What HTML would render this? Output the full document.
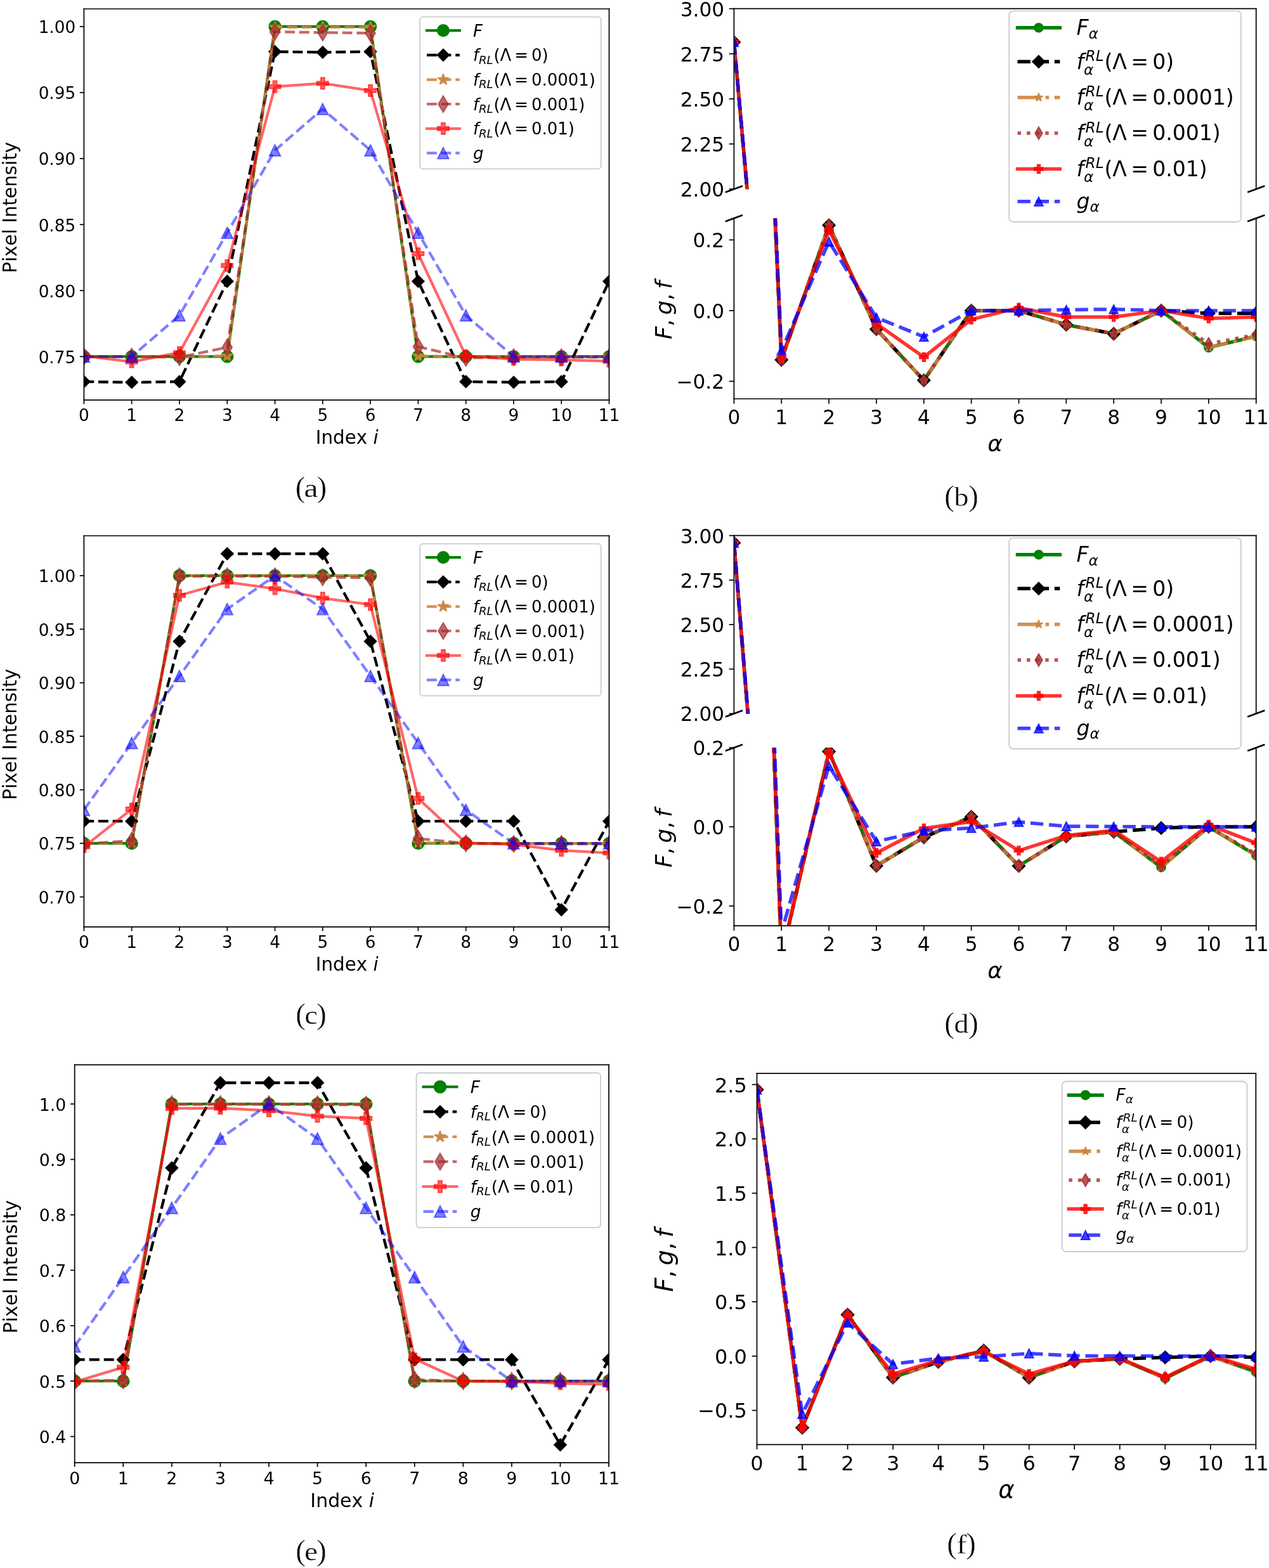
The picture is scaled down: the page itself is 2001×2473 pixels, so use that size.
<!DOCTYPE html>
<html lang="en"><head><meta charset="utf-8"><title>Figure</title>
<style>html,body{margin:0;padding:0;background:#fff;overflow:hidden}svg text{fill:#000}</style>
</head><body>
<svg xmlns="http://www.w3.org/2000/svg" width="2001" height="2473" viewBox="0 0 2001 2473" style="display:block">
<rect width="2001" height="2473" fill="#fff"/>
<clipPath id="c1"><rect x="132.4" y="14" width="828.1" height="616.8"/></clipPath>
<g clip-path="url(#c1)">
<path d="M132.4,562.4 L207.68,562.4 L282.96,562.4 L358.25,562.4 L433.53,41.9 L508.81,41.9 L584.09,41.9 L659.37,562.4 L734.65,562.4 L809.94,562.4 L885.22,562.4 L960.5,562.4" fill="none" stroke="#008000" stroke-width="4.27" stroke-linejoin="round" stroke-linecap="square"/>
<circle cx="132.4" cy="562.4" r="9.2" fill="#008000" stroke="#008000" stroke-width="1.9" stroke-linejoin="miter"/>
<circle cx="207.68" cy="562.4" r="9.2" fill="#008000" stroke="#008000" stroke-width="1.9" stroke-linejoin="miter"/>
<circle cx="282.96" cy="562.4" r="9.2" fill="#008000" stroke="#008000" stroke-width="1.9" stroke-linejoin="miter"/>
<circle cx="358.25" cy="562.4" r="9.2" fill="#008000" stroke="#008000" stroke-width="1.9" stroke-linejoin="miter"/>
<circle cx="433.53" cy="41.9" r="9.2" fill="#008000" stroke="#008000" stroke-width="1.9" stroke-linejoin="miter"/>
<circle cx="508.81" cy="41.9" r="9.2" fill="#008000" stroke="#008000" stroke-width="1.9" stroke-linejoin="miter"/>
<circle cx="584.09" cy="41.9" r="9.2" fill="#008000" stroke="#008000" stroke-width="1.9" stroke-linejoin="miter"/>
<circle cx="659.37" cy="562.4" r="9.2" fill="#008000" stroke="#008000" stroke-width="1.9" stroke-linejoin="miter"/>
<circle cx="734.65" cy="562.4" r="9.2" fill="#008000" stroke="#008000" stroke-width="1.9" stroke-linejoin="miter"/>
<circle cx="809.94" cy="562.4" r="9.2" fill="#008000" stroke="#008000" stroke-width="1.9" stroke-linejoin="miter"/>
<circle cx="885.22" cy="562.4" r="9.2" fill="#008000" stroke="#008000" stroke-width="1.9" stroke-linejoin="miter"/>
<circle cx="960.5" cy="562.4" r="9.2" fill="#008000" stroke="#008000" stroke-width="1.9" stroke-linejoin="miter"/>
<path d="M132.4,601.96 L207.68,603 L282.96,601.96 L358.25,443.73 L433.53,81.46 L508.81,82.5 L584.09,81.46 L659.37,443.73 L734.65,601.96 L809.94,603 L885.22,601.96 L960.5,443.73" fill="none" stroke="#000000" stroke-width="4.27" stroke-linejoin="round" stroke-linecap="butt" stroke-dasharray="15.79,6.83"/>
<polygon points="132.4,592.69 141.66,601.96 132.4,611.22 123.14,601.96" fill="#000000" stroke="#000000" stroke-width="1.9" stroke-linejoin="miter"/>
<polygon points="207.68,593.74 216.94,603 207.68,612.26 198.42,603" fill="#000000" stroke="#000000" stroke-width="1.9" stroke-linejoin="miter"/>
<polygon points="282.96,592.69 292.23,601.96 282.96,611.22 273.7,601.96" fill="#000000" stroke="#000000" stroke-width="1.9" stroke-linejoin="miter"/>
<polygon points="358.25,434.46 367.51,443.73 358.25,452.99 348.98,443.73" fill="#000000" stroke="#000000" stroke-width="1.9" stroke-linejoin="miter"/>
<polygon points="433.53,72.19 442.79,81.46 433.53,90.72 424.26,81.46" fill="#000000" stroke="#000000" stroke-width="1.9" stroke-linejoin="miter"/>
<polygon points="508.81,73.24 518.07,82.5 508.81,91.76 499.55,82.5" fill="#000000" stroke="#000000" stroke-width="1.9" stroke-linejoin="miter"/>
<polygon points="584.09,72.19 593.35,81.46 584.09,90.72 574.83,81.46" fill="#000000" stroke="#000000" stroke-width="1.9" stroke-linejoin="miter"/>
<polygon points="659.37,434.46 668.64,443.73 659.37,452.99 650.11,443.73" fill="#000000" stroke="#000000" stroke-width="1.9" stroke-linejoin="miter"/>
<polygon points="734.65,592.69 743.92,601.96 734.65,611.22 725.39,601.96" fill="#000000" stroke="#000000" stroke-width="1.9" stroke-linejoin="miter"/>
<polygon points="809.94,593.74 819.2,603 809.94,612.26 800.67,603" fill="#000000" stroke="#000000" stroke-width="1.9" stroke-linejoin="miter"/>
<polygon points="885.22,592.69 894.48,601.96 885.22,611.22 875.96,601.96" fill="#000000" stroke="#000000" stroke-width="1.9" stroke-linejoin="miter"/>
<polygon points="960.5,434.46 969.76,443.73 960.5,452.99 951.24,443.73" fill="#000000" stroke="#000000" stroke-width="1.9" stroke-linejoin="miter"/>
<path d="M132.4,562.4 L207.68,562.4 L282.96,562.4 L358.25,561.36 L433.53,42.94 L508.81,42.94 L584.09,42.94 L659.37,561.36 L734.65,562.4 L809.94,562.4 L885.22,562.4 L960.5,562.4" fill="none" stroke="#cd853f" stroke-width="4.27" stroke-linejoin="round" stroke-opacity="0.9" stroke-linecap="butt" stroke-dasharray="15.79,6.83"/>
<polygon points="132.4,553.2 134.47,559.56 141.15,559.56 135.74,563.49 137.81,569.84 132.4,565.91 126.99,569.84 129.06,563.49 123.65,559.56 130.33,559.56" fill="#cd853f" stroke="#cd853f" stroke-width="1.9" stroke-linejoin="bevel" fill-opacity="0.9" stroke-opacity="0.9"/>
<polygon points="207.68,553.2 209.75,559.56 216.43,559.56 211.02,563.49 213.09,569.84 207.68,565.91 202.27,569.84 204.34,563.49 198.93,559.56 205.62,559.56" fill="#cd853f" stroke="#cd853f" stroke-width="1.9" stroke-linejoin="bevel" fill-opacity="0.9" stroke-opacity="0.9"/>
<polygon points="282.96,553.2 285.03,559.56 291.71,559.56 286.31,563.49 288.37,569.84 282.96,565.91 277.56,569.84 279.62,563.49 274.21,559.56 280.9,559.56" fill="#cd853f" stroke="#cd853f" stroke-width="1.9" stroke-linejoin="bevel" fill-opacity="0.9" stroke-opacity="0.9"/>
<polygon points="358.25,552.16 360.31,558.52 367,558.52 361.59,562.44 363.65,568.8 358.25,564.87 352.84,568.8 354.9,562.44 349.5,558.52 356.18,558.52" fill="#cd853f" stroke="#cd853f" stroke-width="1.9" stroke-linejoin="bevel" fill-opacity="0.9" stroke-opacity="0.9"/>
<polygon points="433.53,33.74 435.59,40.1 442.28,40.1 436.87,44.03 438.93,50.38 433.53,46.46 428.12,50.38 430.19,44.03 424.78,40.1 431.46,40.1" fill="#cd853f" stroke="#cd853f" stroke-width="1.9" stroke-linejoin="bevel" fill-opacity="0.9" stroke-opacity="0.9"/>
<polygon points="508.81,33.74 510.87,40.1 517.56,40.1 512.15,44.03 514.22,50.38 508.81,46.46 503.4,50.38 505.47,44.03 500.06,40.1 506.74,40.1" fill="#cd853f" stroke="#cd853f" stroke-width="1.9" stroke-linejoin="bevel" fill-opacity="0.9" stroke-opacity="0.9"/>
<polygon points="584.09,33.74 586.16,40.1 592.84,40.1 587.43,44.03 589.5,50.38 584.09,46.46 578.68,50.38 580.75,44.03 575.34,40.1 582.03,40.1" fill="#cd853f" stroke="#cd853f" stroke-width="1.9" stroke-linejoin="bevel" fill-opacity="0.9" stroke-opacity="0.9"/>
<polygon points="659.37,552.16 661.44,558.52 668.12,558.52 662.71,562.44 664.78,568.8 659.37,564.87 653.97,568.8 656.03,562.44 650.62,558.52 657.31,558.52" fill="#cd853f" stroke="#cd853f" stroke-width="1.9" stroke-linejoin="bevel" fill-opacity="0.9" stroke-opacity="0.9"/>
<polygon points="734.65,553.2 736.72,559.56 743.4,559.56 738,563.49 740.06,569.84 734.65,565.91 729.25,569.84 731.31,563.49 725.9,559.56 732.59,559.56" fill="#cd853f" stroke="#cd853f" stroke-width="1.9" stroke-linejoin="bevel" fill-opacity="0.9" stroke-opacity="0.9"/>
<polygon points="809.94,553.2 812,559.56 818.69,559.56 813.28,563.49 815.34,569.84 809.94,565.91 804.53,569.84 806.59,563.49 801.19,559.56 807.87,559.56" fill="#cd853f" stroke="#cd853f" stroke-width="1.9" stroke-linejoin="bevel" fill-opacity="0.9" stroke-opacity="0.9"/>
<polygon points="885.22,553.2 887.28,559.56 893.97,559.56 888.56,563.49 890.63,569.84 885.22,565.91 879.81,569.84 881.88,563.49 876.47,559.56 883.15,559.56" fill="#cd853f" stroke="#cd853f" stroke-width="1.9" stroke-linejoin="bevel" fill-opacity="0.9" stroke-opacity="0.9"/>
<polygon points="960.5,553.2 962.57,559.56 969.25,559.56 963.84,563.49 965.91,569.84 960.5,565.91 955.09,569.84 957.16,563.49 951.75,559.56 958.43,559.56" fill="#cd853f" stroke="#cd853f" stroke-width="1.9" stroke-linejoin="bevel" fill-opacity="0.9" stroke-opacity="0.9"/>
<path d="M132.4,562.4 L207.68,562.4 L282.96,563.44 L358.25,547.83 L433.53,50.23 L508.81,51.27 L584.09,52.31 L659.37,546.79 L734.65,564.48 L809.94,563.44 L885.22,563.44 L960.5,563.44" fill="none" stroke="#a52a2a" stroke-width="4.27" stroke-linejoin="round" stroke-opacity="0.7" stroke-linecap="butt" stroke-dasharray="15.79,6.83"/>
<polygon points="132.4,549.39 140.21,562.4 132.4,575.41 124.59,562.4" fill="#a52a2a" stroke="#a52a2a" stroke-width="1.9" stroke-linejoin="miter" fill-opacity="0.7" stroke-opacity="0.7"/>
<polygon points="207.68,549.39 215.49,562.4 207.68,575.41 199.88,562.4" fill="#a52a2a" stroke="#a52a2a" stroke-width="1.9" stroke-linejoin="miter" fill-opacity="0.7" stroke-opacity="0.7"/>
<polygon points="282.96,550.43 290.77,563.44 282.96,576.45 275.16,563.44" fill="#a52a2a" stroke="#a52a2a" stroke-width="1.9" stroke-linejoin="miter" fill-opacity="0.7" stroke-opacity="0.7"/>
<polygon points="358.25,534.82 366.05,547.83 358.25,560.84 350.44,547.83" fill="#a52a2a" stroke="#a52a2a" stroke-width="1.9" stroke-linejoin="miter" fill-opacity="0.7" stroke-opacity="0.7"/>
<polygon points="433.53,37.22 441.33,50.23 433.53,63.24 425.72,50.23" fill="#a52a2a" stroke="#a52a2a" stroke-width="1.9" stroke-linejoin="miter" fill-opacity="0.7" stroke-opacity="0.7"/>
<polygon points="508.81,38.26 516.62,51.27 508.81,64.28 501,51.27" fill="#a52a2a" stroke="#a52a2a" stroke-width="1.9" stroke-linejoin="miter" fill-opacity="0.7" stroke-opacity="0.7"/>
<polygon points="584.09,39.3 591.9,52.31 584.09,65.32 576.28,52.31" fill="#a52a2a" stroke="#a52a2a" stroke-width="1.9" stroke-linejoin="miter" fill-opacity="0.7" stroke-opacity="0.7"/>
<polygon points="659.37,533.77 667.18,546.79 659.37,559.8 651.57,546.79" fill="#a52a2a" stroke="#a52a2a" stroke-width="1.9" stroke-linejoin="miter" fill-opacity="0.7" stroke-opacity="0.7"/>
<polygon points="734.65,551.47 742.46,564.48 734.65,577.49 726.85,564.48" fill="#a52a2a" stroke="#a52a2a" stroke-width="1.9" stroke-linejoin="miter" fill-opacity="0.7" stroke-opacity="0.7"/>
<polygon points="809.94,550.43 817.74,563.44 809.94,576.45 802.13,563.44" fill="#a52a2a" stroke="#a52a2a" stroke-width="1.9" stroke-linejoin="miter" fill-opacity="0.7" stroke-opacity="0.7"/>
<polygon points="885.22,550.43 893.02,563.44 885.22,576.45 877.41,563.44" fill="#a52a2a" stroke="#a52a2a" stroke-width="1.9" stroke-linejoin="miter" fill-opacity="0.7" stroke-opacity="0.7"/>
<polygon points="960.5,550.43 968.31,563.44 960.5,576.45 952.69,563.44" fill="#a52a2a" stroke="#a52a2a" stroke-width="1.9" stroke-linejoin="miter" fill-opacity="0.7" stroke-opacity="0.7"/>
<path d="M132.4,561.36 L207.68,570.73 L282.96,556.15 L358.25,418.74 L433.53,136.63 L508.81,131.43 L584.09,142.88 L659.37,400 L734.65,561.36 L809.94,566.56 L885.22,567.61 L960.5,569.69" fill="none" stroke="#ff0000" stroke-width="4.27" stroke-linejoin="round" stroke-opacity="0.6" stroke-linecap="square"/>
<polygon points="129.37,552.26 135.43,552.26 135.43,558.33 141.5,558.33 141.5,564.39 135.43,564.39 135.43,570.46 129.37,570.46 129.37,564.39 123.3,564.39 123.3,558.33 129.37,558.33" fill="#ff0000" stroke="#ff0000" stroke-width="1.9" stroke-linejoin="miter" fill-opacity="0.6" stroke-opacity="0.6"/>
<polygon points="204.65,561.63 210.72,561.63 210.72,567.69 216.78,567.69 216.78,573.76 210.72,573.76 210.72,579.83 204.65,579.83 204.65,573.76 198.58,573.76 198.58,567.69 204.65,567.69" fill="#ff0000" stroke="#ff0000" stroke-width="1.9" stroke-linejoin="miter" fill-opacity="0.6" stroke-opacity="0.6"/>
<polygon points="279.93,547.05 286,547.05 286,553.12 292.06,553.12 292.06,559.19 286,559.19 286,565.25 279.93,565.25 279.93,559.19 273.86,559.19 273.86,553.12 279.93,553.12" fill="#ff0000" stroke="#ff0000" stroke-width="1.9" stroke-linejoin="miter" fill-opacity="0.6" stroke-opacity="0.6"/>
<polygon points="355.21,409.64 361.28,409.64 361.28,415.71 367.35,415.71 367.35,421.78 361.28,421.78 361.28,427.84 355.21,427.84 355.21,421.78 349.15,421.78 349.15,415.71 355.21,415.71" fill="#ff0000" stroke="#ff0000" stroke-width="1.9" stroke-linejoin="miter" fill-opacity="0.6" stroke-opacity="0.6"/>
<polygon points="430.49,127.53 436.56,127.53 436.56,133.6 442.63,133.6 442.63,139.66 436.56,139.66 436.56,145.73 430.49,145.73 430.49,139.66 424.43,139.66 424.43,133.6 430.49,133.6" fill="#ff0000" stroke="#ff0000" stroke-width="1.9" stroke-linejoin="miter" fill-opacity="0.6" stroke-opacity="0.6"/>
<polygon points="505.78,122.33 511.84,122.33 511.84,128.39 517.91,128.39 517.91,134.46 511.84,134.46 511.84,140.53 505.78,140.53 505.78,134.46 499.71,134.46 499.71,128.39 505.78,128.39" fill="#ff0000" stroke="#ff0000" stroke-width="1.9" stroke-linejoin="miter" fill-opacity="0.6" stroke-opacity="0.6"/>
<polygon points="581.06,133.78 587.12,133.78 587.12,139.84 593.19,139.84 593.19,145.91 587.12,145.91 587.12,151.98 581.06,151.98 581.06,145.91 574.99,145.91 574.99,139.84 581.06,139.84" fill="#ff0000" stroke="#ff0000" stroke-width="1.9" stroke-linejoin="miter" fill-opacity="0.6" stroke-opacity="0.6"/>
<polygon points="656.34,390.9 662.41,390.9 662.41,396.97 668.47,396.97 668.47,403.04 662.41,403.04 662.41,409.1 656.34,409.1 656.34,403.04 650.27,403.04 650.27,396.97 656.34,396.97" fill="#ff0000" stroke="#ff0000" stroke-width="1.9" stroke-linejoin="miter" fill-opacity="0.6" stroke-opacity="0.6"/>
<polygon points="731.62,552.26 737.69,552.26 737.69,558.33 743.75,558.33 743.75,564.39 737.69,564.39 737.69,570.46 731.62,570.46 731.62,564.39 725.55,564.39 725.55,558.33 731.62,558.33" fill="#ff0000" stroke="#ff0000" stroke-width="1.9" stroke-linejoin="miter" fill-opacity="0.6" stroke-opacity="0.6"/>
<polygon points="806.9,557.46 812.97,557.46 812.97,563.53 819.04,563.53 819.04,569.6 812.97,569.6 812.97,575.66 806.9,575.66 806.9,569.6 800.84,569.6 800.84,563.53 806.9,563.53" fill="#ff0000" stroke="#ff0000" stroke-width="1.9" stroke-linejoin="miter" fill-opacity="0.6" stroke-opacity="0.6"/>
<polygon points="882.18,558.5 888.25,558.5 888.25,564.57 894.32,564.57 894.32,570.64 888.25,570.64 888.25,576.71 882.18,576.71 882.18,570.64 876.12,570.64 876.12,564.57 882.18,564.57" fill="#ff0000" stroke="#ff0000" stroke-width="1.9" stroke-linejoin="miter" fill-opacity="0.6" stroke-opacity="0.6"/>
<polygon points="957.47,560.59 963.53,560.59 963.53,566.65 969.6,566.65 969.6,572.72 963.53,572.72 963.53,578.79 957.47,578.79 957.47,572.72 951.4,572.72 951.4,566.65 957.47,566.65" fill="#ff0000" stroke="#ff0000" stroke-width="1.9" stroke-linejoin="miter" fill-opacity="0.6" stroke-opacity="0.6"/>
<path d="M132.4,562.4 L207.68,562.4 L282.96,497.34 L358.25,367.21 L433.53,237.09 L508.81,172.02 L584.09,237.09 L659.37,367.21 L734.65,497.34 L809.94,562.4 L885.22,562.4 L960.5,562.4" fill="none" stroke="#0000ff" stroke-width="4.27" stroke-linejoin="round" stroke-opacity="0.5" stroke-linecap="butt" stroke-dasharray="15.79,6.83"/>
<polygon points="132.4,553.5 141.3,571.3 123.5,571.3" fill="#0000ff" stroke="#0000ff" stroke-width="1.9" stroke-linejoin="miter" fill-opacity="0.5" stroke-opacity="0.5"/>
<polygon points="207.68,553.5 216.58,571.3 198.78,571.3" fill="#0000ff" stroke="#0000ff" stroke-width="1.9" stroke-linejoin="miter" fill-opacity="0.5" stroke-opacity="0.5"/>
<polygon points="282.96,488.44 291.86,506.24 274.06,506.24" fill="#0000ff" stroke="#0000ff" stroke-width="1.9" stroke-linejoin="miter" fill-opacity="0.5" stroke-opacity="0.5"/>
<polygon points="358.25,358.31 367.15,376.11 349.35,376.11" fill="#0000ff" stroke="#0000ff" stroke-width="1.9" stroke-linejoin="miter" fill-opacity="0.5" stroke-opacity="0.5"/>
<polygon points="433.53,228.19 442.43,245.99 424.63,245.99" fill="#0000ff" stroke="#0000ff" stroke-width="1.9" stroke-linejoin="miter" fill-opacity="0.5" stroke-opacity="0.5"/>
<polygon points="508.81,163.12 517.71,180.92 499.91,180.92" fill="#0000ff" stroke="#0000ff" stroke-width="1.9" stroke-linejoin="miter" fill-opacity="0.5" stroke-opacity="0.5"/>
<polygon points="584.09,228.19 592.99,245.99 575.19,245.99" fill="#0000ff" stroke="#0000ff" stroke-width="1.9" stroke-linejoin="miter" fill-opacity="0.5" stroke-opacity="0.5"/>
<polygon points="659.37,358.31 668.27,376.11 650.47,376.11" fill="#0000ff" stroke="#0000ff" stroke-width="1.9" stroke-linejoin="miter" fill-opacity="0.5" stroke-opacity="0.5"/>
<polygon points="734.65,488.44 743.55,506.24 725.75,506.24" fill="#0000ff" stroke="#0000ff" stroke-width="1.9" stroke-linejoin="miter" fill-opacity="0.5" stroke-opacity="0.5"/>
<polygon points="809.94,553.5 818.84,571.3 801.04,571.3" fill="#0000ff" stroke="#0000ff" stroke-width="1.9" stroke-linejoin="miter" fill-opacity="0.5" stroke-opacity="0.5"/>
<polygon points="885.22,553.5 894.12,571.3 876.32,571.3" fill="#0000ff" stroke="#0000ff" stroke-width="1.9" stroke-linejoin="miter" fill-opacity="0.5" stroke-opacity="0.5"/>
<polygon points="960.5,553.5 969.4,571.3 951.6,571.3" fill="#0000ff" stroke="#0000ff" stroke-width="1.9" stroke-linejoin="miter" fill-opacity="0.5" stroke-opacity="0.5"/>
</g>
<line x1="132.4" y1="14" x2="132.4" y2="630.8" stroke="#000" stroke-width="1.7" stroke-linecap="square" fill="none"/>
<line x1="960.5" y1="14" x2="960.5" y2="630.8" stroke="#000" stroke-width="1.7" stroke-linecap="square" fill="none"/>
<line x1="132.4" y1="14" x2="960.5" y2="14" stroke="#000" stroke-width="1.7" stroke-linecap="square" fill="none"/>
<line x1="132.4" y1="630.8" x2="960.5" y2="630.8" stroke="#000" stroke-width="1.7" stroke-linecap="square" fill="none"/>
<line x1="132.4" y1="630.8" x2="132.4" y2="637.4" stroke="#000" stroke-width="1.7"/>
<text x="132.4" y="664.3" font-family='"DejaVu Sans","Liberation Sans",sans-serif' font-size="26.3" text-anchor="middle"  >0</text>
<line x1="207.68" y1="630.8" x2="207.68" y2="637.4" stroke="#000" stroke-width="1.7"/>
<text x="207.68" y="664.3" font-family='"DejaVu Sans","Liberation Sans",sans-serif' font-size="26.3" text-anchor="middle"  >1</text>
<line x1="282.96" y1="630.8" x2="282.96" y2="637.4" stroke="#000" stroke-width="1.7"/>
<text x="282.96" y="664.3" font-family='"DejaVu Sans","Liberation Sans",sans-serif' font-size="26.3" text-anchor="middle"  >2</text>
<line x1="358.25" y1="630.8" x2="358.25" y2="637.4" stroke="#000" stroke-width="1.7"/>
<text x="358.25" y="664.3" font-family='"DejaVu Sans","Liberation Sans",sans-serif' font-size="26.3" text-anchor="middle"  >3</text>
<line x1="433.53" y1="630.8" x2="433.53" y2="637.4" stroke="#000" stroke-width="1.7"/>
<text x="433.53" y="664.3" font-family='"DejaVu Sans","Liberation Sans",sans-serif' font-size="26.3" text-anchor="middle"  >4</text>
<line x1="508.81" y1="630.8" x2="508.81" y2="637.4" stroke="#000" stroke-width="1.7"/>
<text x="508.81" y="664.3" font-family='"DejaVu Sans","Liberation Sans",sans-serif' font-size="26.3" text-anchor="middle"  >5</text>
<line x1="584.09" y1="630.8" x2="584.09" y2="637.4" stroke="#000" stroke-width="1.7"/>
<text x="584.09" y="664.3" font-family='"DejaVu Sans","Liberation Sans",sans-serif' font-size="26.3" text-anchor="middle"  >6</text>
<line x1="659.37" y1="630.8" x2="659.37" y2="637.4" stroke="#000" stroke-width="1.7"/>
<text x="659.37" y="664.3" font-family='"DejaVu Sans","Liberation Sans",sans-serif' font-size="26.3" text-anchor="middle"  >7</text>
<line x1="734.65" y1="630.8" x2="734.65" y2="637.4" stroke="#000" stroke-width="1.7"/>
<text x="734.65" y="664.3" font-family='"DejaVu Sans","Liberation Sans",sans-serif' font-size="26.3" text-anchor="middle"  >8</text>
<line x1="809.94" y1="630.8" x2="809.94" y2="637.4" stroke="#000" stroke-width="1.7"/>
<text x="809.94" y="664.3" font-family='"DejaVu Sans","Liberation Sans",sans-serif' font-size="26.3" text-anchor="middle"  >9</text>
<line x1="885.22" y1="630.8" x2="885.22" y2="637.4" stroke="#000" stroke-width="1.7"/>
<text x="885.22" y="664.3" font-family='"DejaVu Sans","Liberation Sans",sans-serif' font-size="26.3" text-anchor="middle"  >10</text>
<line x1="960.5" y1="630.8" x2="960.5" y2="637.4" stroke="#000" stroke-width="1.7"/>
<text x="960.5" y="664.3" font-family='"DejaVu Sans","Liberation Sans",sans-serif' font-size="26.3" text-anchor="middle"  >11</text>
<line x1="125.8" y1="562.4" x2="132.4" y2="562.4" stroke="#000" stroke-width="1.7"/>
<text x="119.2" y="572.7" font-family='"DejaVu Sans","Liberation Sans",sans-serif' font-size="26.3" text-anchor="end"  >0.75</text>
<line x1="125.8" y1="458.3" x2="132.4" y2="458.3" stroke="#000" stroke-width="1.7"/>
<text x="119.2" y="468.6" font-family='"DejaVu Sans","Liberation Sans",sans-serif' font-size="26.3" text-anchor="end"  >0.80</text>
<line x1="125.8" y1="354.2" x2="132.4" y2="354.2" stroke="#000" stroke-width="1.7"/>
<text x="119.2" y="364.5" font-family='"DejaVu Sans","Liberation Sans",sans-serif' font-size="26.3" text-anchor="end"  >0.85</text>
<line x1="125.8" y1="250.1" x2="132.4" y2="250.1" stroke="#000" stroke-width="1.7"/>
<text x="119.2" y="260.4" font-family='"DejaVu Sans","Liberation Sans",sans-serif' font-size="26.3" text-anchor="end"  >0.90</text>
<line x1="125.8" y1="146" x2="132.4" y2="146" stroke="#000" stroke-width="1.7"/>
<text x="119.2" y="156.3" font-family='"DejaVu Sans","Liberation Sans",sans-serif' font-size="26.3" text-anchor="end"  >0.95</text>
<line x1="125.8" y1="41.9" x2="132.4" y2="41.9" stroke="#000" stroke-width="1.7"/>
<text x="119.2" y="52.2" font-family='"DejaVu Sans","Liberation Sans",sans-serif' font-size="26.3" text-anchor="end"  >1.00</text>
<text transform="translate(547.30,700.20)" font-family='"DejaVu Sans","Liberation Sans",sans-serif' font-size="29.40"><tspan x="-49.54" y="-0.00">I</tspan><tspan x="-40.87" y="-0.00">n</tspan><tspan x="-22.23" y="-0.00">d</tspan><tspan x="-3.57" y="-0.00">e</tspan><tspan x="14.52" y="-0.00">x</tspan><tspan x="41.26" y="-0.00" font-style="italic">i</tspan></text>
<text transform="translate(25.90,327.20) rotate(-90)" font-family='"DejaVu Sans","Liberation Sans",sans-serif' font-size="29.40"><tspan x="-103.49" y="-0.00">P</tspan><tspan x="-85.76" y="-0.00">i</tspan><tspan x="-77.59" y="-0.00">x</tspan><tspan x="-60.19" y="-0.00">e</tspan><tspan x="-42.10" y="-0.00">l</tspan><tspan x="-24.59" y="-0.00">I</tspan><tspan x="-15.92" y="-0.00">n</tspan><tspan x="2.71" y="-0.00">t</tspan><tspan x="14.24" y="-0.00">e</tspan><tspan x="32.33" y="-0.00">n</tspan><tspan x="50.96" y="-0.00">s</tspan><tspan x="66.28" y="-0.00">i</tspan><tspan x="74.45" y="-0.00">t</tspan><tspan x="85.98" y="-0.00">y</tspan></text>
<rect x="662.1" y="26.6" width="285.6" height="239.8" rx="5" ry="5" fill="#fff" fill-opacity="0.8" stroke="#ccc" stroke-width="1.8"/>
<path d="M673,48.1 L724.8,48.1" fill="none" stroke="#008000" stroke-width="4.27" stroke-linejoin="round" stroke-linecap="square"/>
<circle cx="698.9" cy="48.1" r="9.2" fill="#008000" stroke="#008000" stroke-width="1.9" stroke-linejoin="miter"/>
<path d="M673,86.8 L724.8,86.8" fill="none" stroke="#000000" stroke-width="4.27" stroke-linejoin="round" stroke-linecap="butt" stroke-dasharray="15.79,6.83"/>
<polygon points="698.9,77.54 708.16,86.8 698.9,96.06 689.64,86.8" fill="#000000" stroke="#000000" stroke-width="1.9" stroke-linejoin="miter"/>
<path d="M673,125.6 L724.8,125.6" fill="none" stroke="#cd853f" stroke-width="4.27" stroke-linejoin="round" stroke-opacity="0.9" stroke-linecap="butt" stroke-dasharray="15.79,6.83"/>
<polygon points="698.9,116.4 700.97,122.76 707.65,122.76 702.24,126.69 704.31,133.04 698.9,129.11 693.49,133.04 695.56,126.69 690.15,122.76 696.83,122.76" fill="#cd853f" stroke="#cd853f" stroke-width="1.9" stroke-linejoin="bevel" fill-opacity="0.9" stroke-opacity="0.9"/>
<path d="M673,164.2 L724.8,164.2" fill="none" stroke="#a52a2a" stroke-width="4.27" stroke-linejoin="round" stroke-opacity="0.7" stroke-linecap="butt" stroke-dasharray="15.79,6.83"/>
<polygon points="698.9,151.19 706.71,164.2 698.9,177.21 691.09,164.2" fill="#a52a2a" stroke="#a52a2a" stroke-width="1.9" stroke-linejoin="miter" fill-opacity="0.7" stroke-opacity="0.7"/>
<path d="M673,202.8 L724.8,202.8" fill="none" stroke="#ff0000" stroke-width="4.27" stroke-linejoin="round" stroke-opacity="0.6" stroke-linecap="square"/>
<polygon points="695.87,193.7 701.93,193.7 701.93,199.77 708,199.77 708,205.83 701.93,205.83 701.93,211.9 695.87,211.9 695.87,205.83 689.8,205.83 689.8,199.77 695.87,199.77" fill="#ff0000" stroke="#ff0000" stroke-width="1.9" stroke-linejoin="miter" fill-opacity="0.6" stroke-opacity="0.6"/>
<path d="M673,241.4 L724.8,241.4" fill="none" stroke="#0000ff" stroke-width="4.27" stroke-linejoin="round" stroke-opacity="0.5" stroke-linecap="butt" stroke-dasharray="15.79,6.83"/>
<polygon points="698.9,232.5 707.8,250.3 690,250.3" fill="#0000ff" stroke="#0000ff" stroke-width="1.9" stroke-linejoin="miter" fill-opacity="0.5" stroke-opacity="0.5"/>
<text transform="translate(745.90,57.60)" font-family='"DejaVu Sans","Liberation Sans",sans-serif' font-size="25.90"><tspan x="0.00" y="-0.02" font-style="italic">F</tspan></text>
<text transform="translate(745.90,96.30)" font-family='"DejaVu Sans","Liberation Sans",sans-serif' font-size="25.90"><tspan x="0.00" y="-0.00" font-style="italic">f</tspan><tspan x="9.12" y="4.25" font-size="18.13" font-style="italic">R</tspan><tspan x="21.72" y="4.25" font-size="18.13" font-style="italic">L</tspan><tspan x="32.52" y="-0.00">(</tspan><tspan x="42.63" y="-0.00">Λ</tspan><tspan x="65.39" y="-0.00">=</tspan><tspan x="92.14" y="-0.00">0</tspan><tspan x="108.62" y="-0.00">)</tspan></text>
<text transform="translate(745.90,135.10)" font-family='"DejaVu Sans","Liberation Sans",sans-serif' font-size="25.90"><tspan x="0.00" y="-0.00" font-style="italic">f</tspan><tspan x="9.12" y="4.25" font-size="18.13" font-style="italic">R</tspan><tspan x="21.72" y="4.25" font-size="18.13" font-style="italic">L</tspan><tspan x="32.52" y="-0.00">(</tspan><tspan x="42.63" y="-0.00">Λ</tspan><tspan x="65.39" y="-0.00">=</tspan><tspan x="92.14" y="-0.00">0</tspan><tspan x="108.62" y="-0.00">.</tspan><tspan x="116.85" y="-0.00">0</tspan><tspan x="133.33" y="-0.00">0</tspan><tspan x="149.81" y="-0.00">0</tspan><tspan x="166.29" y="-0.00">1</tspan><tspan x="182.76" y="-0.00">)</tspan></text>
<text transform="translate(745.90,173.70)" font-family='"DejaVu Sans","Liberation Sans",sans-serif' font-size="25.90"><tspan x="0.00" y="-0.00" font-style="italic">f</tspan><tspan x="9.12" y="4.25" font-size="18.13" font-style="italic">R</tspan><tspan x="21.72" y="4.25" font-size="18.13" font-style="italic">L</tspan><tspan x="32.52" y="-0.00">(</tspan><tspan x="42.63" y="-0.00">Λ</tspan><tspan x="65.39" y="-0.00">=</tspan><tspan x="92.14" y="-0.00">0</tspan><tspan x="108.62" y="-0.00">.</tspan><tspan x="116.85" y="-0.00">0</tspan><tspan x="133.33" y="-0.00">0</tspan><tspan x="149.81" y="-0.00">1</tspan><tspan x="166.29" y="-0.00">)</tspan></text>
<text transform="translate(745.90,212.30)" font-family='"DejaVu Sans","Liberation Sans",sans-serif' font-size="25.90"><tspan x="0.00" y="-0.00" font-style="italic">f</tspan><tspan x="9.12" y="4.25" font-size="18.13" font-style="italic">R</tspan><tspan x="21.72" y="4.25" font-size="18.13" font-style="italic">L</tspan><tspan x="32.52" y="-0.00">(</tspan><tspan x="42.63" y="-0.00">Λ</tspan><tspan x="65.39" y="-0.00">=</tspan><tspan x="92.14" y="-0.00">0</tspan><tspan x="108.62" y="-0.00">.</tspan><tspan x="116.85" y="-0.00">0</tspan><tspan x="133.33" y="-0.00">1</tspan><tspan x="149.81" y="-0.00">)</tspan></text>
<text transform="translate(745.90,250.90)" font-family='"DejaVu Sans","Liberation Sans",sans-serif' font-size="25.90"><tspan x="0.00" y="-0.00" font-style="italic">g</tspan></text>
<text x="465.65" y="783.5" font-size="46.5" font-family='"Liberation Serif","DejaVu Serif",serif' stroke="#fff" stroke-width="0.4">(</text><text transform="translate(479.33,783.8) scale(1.22,1)" font-size="41.5" font-family='"Liberation Serif","DejaVu Serif",serif' stroke="#fff" stroke-width="0.4">a</text><text x="499.86" y="783.5" font-size="46.5" font-family='"Liberation Serif","DejaVu Serif",serif' stroke="#fff" stroke-width="0.4">)</text>
<clipPath id="c2"><rect x="132.4" y="845" width="828.1" height="616.8"/></clipPath>
<g clip-path="url(#c2)">
<path d="M132.4,1330.15 L207.68,1330.15 L282.96,907.9 L358.25,907.9 L433.53,907.9 L508.81,907.9 L584.09,907.9 L659.37,1330.15 L734.65,1330.15 L809.94,1330.15 L885.22,1330.15 L960.5,1330.15" fill="none" stroke="#008000" stroke-width="4.27" stroke-linejoin="round" stroke-linecap="square"/>
<circle cx="132.4" cy="1330.15" r="9.2" fill="#008000" stroke="#008000" stroke-width="1.9" stroke-linejoin="miter"/>
<circle cx="207.68" cy="1330.15" r="9.2" fill="#008000" stroke="#008000" stroke-width="1.9" stroke-linejoin="miter"/>
<circle cx="282.96" cy="907.9" r="9.2" fill="#008000" stroke="#008000" stroke-width="1.9" stroke-linejoin="miter"/>
<circle cx="358.25" cy="907.9" r="9.2" fill="#008000" stroke="#008000" stroke-width="1.9" stroke-linejoin="miter"/>
<circle cx="433.53" cy="907.9" r="9.2" fill="#008000" stroke="#008000" stroke-width="1.9" stroke-linejoin="miter"/>
<circle cx="508.81" cy="907.9" r="9.2" fill="#008000" stroke="#008000" stroke-width="1.9" stroke-linejoin="miter"/>
<circle cx="584.09" cy="907.9" r="9.2" fill="#008000" stroke="#008000" stroke-width="1.9" stroke-linejoin="miter"/>
<circle cx="659.37" cy="1330.15" r="9.2" fill="#008000" stroke="#008000" stroke-width="1.9" stroke-linejoin="miter"/>
<circle cx="734.65" cy="1330.15" r="9.2" fill="#008000" stroke="#008000" stroke-width="1.9" stroke-linejoin="miter"/>
<circle cx="809.94" cy="1330.15" r="9.2" fill="#008000" stroke="#008000" stroke-width="1.9" stroke-linejoin="miter"/>
<circle cx="885.22" cy="1330.15" r="9.2" fill="#008000" stroke="#008000" stroke-width="1.9" stroke-linejoin="miter"/>
<circle cx="960.5" cy="1330.15" r="9.2" fill="#008000" stroke="#008000" stroke-width="1.9" stroke-linejoin="miter"/>
<path d="M132.4,1295.19 L207.68,1295.19 L282.96,1011.44 L358.25,873.28 L433.53,873.28 L508.81,873.28 L584.09,1011.44 L659.37,1295.19 L734.65,1295.19 L809.94,1295.19 L885.22,1434.87 L960.5,1295.19" fill="none" stroke="#000000" stroke-width="4.27" stroke-linejoin="round" stroke-linecap="butt" stroke-dasharray="15.79,6.83"/>
<polygon points="132.4,1285.92 141.66,1295.19 132.4,1304.45 123.14,1295.19" fill="#000000" stroke="#000000" stroke-width="1.9" stroke-linejoin="miter"/>
<polygon points="207.68,1285.92 216.94,1295.19 207.68,1304.45 198.42,1295.19" fill="#000000" stroke="#000000" stroke-width="1.9" stroke-linejoin="miter"/>
<polygon points="282.96,1002.17 292.23,1011.44 282.96,1020.7 273.7,1011.44" fill="#000000" stroke="#000000" stroke-width="1.9" stroke-linejoin="miter"/>
<polygon points="358.25,864.01 367.51,873.28 358.25,882.54 348.98,873.28" fill="#000000" stroke="#000000" stroke-width="1.9" stroke-linejoin="miter"/>
<polygon points="433.53,864.01 442.79,873.28 433.53,882.54 424.26,873.28" fill="#000000" stroke="#000000" stroke-width="1.9" stroke-linejoin="miter"/>
<polygon points="508.81,864.01 518.07,873.28 508.81,882.54 499.55,873.28" fill="#000000" stroke="#000000" stroke-width="1.9" stroke-linejoin="miter"/>
<polygon points="584.09,1002.17 593.35,1011.44 584.09,1020.7 574.83,1011.44" fill="#000000" stroke="#000000" stroke-width="1.9" stroke-linejoin="miter"/>
<polygon points="659.37,1285.92 668.64,1295.19 659.37,1304.45 650.11,1295.19" fill="#000000" stroke="#000000" stroke-width="1.9" stroke-linejoin="miter"/>
<polygon points="734.65,1285.92 743.92,1295.19 734.65,1304.45 725.39,1295.19" fill="#000000" stroke="#000000" stroke-width="1.9" stroke-linejoin="miter"/>
<polygon points="809.94,1285.92 819.2,1295.19 809.94,1304.45 800.67,1295.19" fill="#000000" stroke="#000000" stroke-width="1.9" stroke-linejoin="miter"/>
<polygon points="885.22,1425.6 894.48,1434.87 885.22,1444.13 875.96,1434.87" fill="#000000" stroke="#000000" stroke-width="1.9" stroke-linejoin="miter"/>
<polygon points="960.5,1285.92 969.76,1295.19 960.5,1304.45 951.24,1295.19" fill="#000000" stroke="#000000" stroke-width="1.9" stroke-linejoin="miter"/>
<path d="M132.4,1330.15 L207.68,1329.31 L282.96,908.24 L358.25,907.9 L433.53,907.9 L508.81,907.9 L584.09,908.24 L659.37,1329.31 L734.65,1330.15 L809.94,1330.15 L885.22,1330.15 L960.5,1330.15" fill="none" stroke="#cd853f" stroke-width="4.27" stroke-linejoin="round" stroke-opacity="0.9" stroke-linecap="butt" stroke-dasharray="15.79,6.83"/>
<polygon points="132.4,1320.95 134.47,1327.31 141.15,1327.31 135.74,1331.24 137.81,1337.59 132.4,1333.66 126.99,1337.59 129.06,1331.24 123.65,1327.31 130.33,1327.31" fill="#cd853f" stroke="#cd853f" stroke-width="1.9" stroke-linejoin="bevel" fill-opacity="0.9" stroke-opacity="0.9"/>
<polygon points="207.68,1320.11 209.75,1326.46 216.43,1326.46 211.02,1330.39 213.09,1336.75 207.68,1332.82 202.27,1336.75 204.34,1330.39 198.93,1326.46 205.62,1326.46" fill="#cd853f" stroke="#cd853f" stroke-width="1.9" stroke-linejoin="bevel" fill-opacity="0.9" stroke-opacity="0.9"/>
<polygon points="282.96,899.04 285.03,905.39 291.71,905.39 286.31,909.32 288.37,915.68 282.96,911.75 277.56,915.68 279.62,909.32 274.21,905.39 280.9,905.39" fill="#cd853f" stroke="#cd853f" stroke-width="1.9" stroke-linejoin="bevel" fill-opacity="0.9" stroke-opacity="0.9"/>
<polygon points="358.25,898.7 360.31,905.06 367,905.06 361.59,908.99 363.65,915.34 358.25,911.41 352.84,915.34 354.9,908.99 349.5,905.06 356.18,905.06" fill="#cd853f" stroke="#cd853f" stroke-width="1.9" stroke-linejoin="bevel" fill-opacity="0.9" stroke-opacity="0.9"/>
<polygon points="433.53,898.7 435.59,905.06 442.28,905.06 436.87,908.99 438.93,915.34 433.53,911.41 428.12,915.34 430.19,908.99 424.78,905.06 431.46,905.06" fill="#cd853f" stroke="#cd853f" stroke-width="1.9" stroke-linejoin="bevel" fill-opacity="0.9" stroke-opacity="0.9"/>
<polygon points="508.81,898.7 510.87,905.06 517.56,905.06 512.15,908.99 514.22,915.34 508.81,911.41 503.4,915.34 505.47,908.99 500.06,905.06 506.74,905.06" fill="#cd853f" stroke="#cd853f" stroke-width="1.9" stroke-linejoin="bevel" fill-opacity="0.9" stroke-opacity="0.9"/>
<polygon points="584.09,899.04 586.16,905.39 592.84,905.39 587.43,909.32 589.5,915.68 584.09,911.75 578.68,915.68 580.75,909.32 575.34,905.39 582.03,905.39" fill="#cd853f" stroke="#cd853f" stroke-width="1.9" stroke-linejoin="bevel" fill-opacity="0.9" stroke-opacity="0.9"/>
<polygon points="659.37,1320.11 661.44,1326.46 668.12,1326.46 662.71,1330.39 664.78,1336.75 659.37,1332.82 653.97,1336.75 656.03,1330.39 650.62,1326.46 657.31,1326.46" fill="#cd853f" stroke="#cd853f" stroke-width="1.9" stroke-linejoin="bevel" fill-opacity="0.9" stroke-opacity="0.9"/>
<polygon points="734.65,1320.95 736.72,1327.31 743.4,1327.31 738,1331.24 740.06,1337.59 734.65,1333.66 729.25,1337.59 731.31,1331.24 725.9,1327.31 732.59,1327.31" fill="#cd853f" stroke="#cd853f" stroke-width="1.9" stroke-linejoin="bevel" fill-opacity="0.9" stroke-opacity="0.9"/>
<polygon points="809.94,1320.95 812,1327.31 818.69,1327.31 813.28,1331.24 815.34,1337.59 809.94,1333.66 804.53,1337.59 806.59,1331.24 801.19,1327.31 807.87,1327.31" fill="#cd853f" stroke="#cd853f" stroke-width="1.9" stroke-linejoin="bevel" fill-opacity="0.9" stroke-opacity="0.9"/>
<polygon points="885.22,1320.95 887.28,1327.31 893.97,1327.31 888.56,1331.24 890.63,1337.59 885.22,1333.66 879.81,1337.59 881.88,1331.24 876.47,1327.31 883.15,1327.31" fill="#cd853f" stroke="#cd853f" stroke-width="1.9" stroke-linejoin="bevel" fill-opacity="0.9" stroke-opacity="0.9"/>
<polygon points="960.5,1320.95 962.57,1327.31 969.25,1327.31 963.84,1331.24 965.91,1337.59 960.5,1333.66 955.09,1337.59 957.16,1331.24 951.75,1327.31 958.43,1327.31" fill="#cd853f" stroke="#cd853f" stroke-width="1.9" stroke-linejoin="bevel" fill-opacity="0.9" stroke-opacity="0.9"/>
<path d="M132.4,1330.99 L207.68,1325.93 L282.96,908.74 L358.25,908.74 L433.53,908.74 L508.81,910.43 L584.09,911.28 L659.37,1322.55 L734.65,1330.15 L809.94,1330.99 L885.22,1330.99 L960.5,1330.99" fill="none" stroke="#a52a2a" stroke-width="4.27" stroke-linejoin="round" stroke-opacity="0.7" stroke-linecap="butt" stroke-dasharray="15.79,6.83"/>
<polygon points="132.4,1317.98 140.21,1330.99 132.4,1344.01 124.59,1330.99" fill="#a52a2a" stroke="#a52a2a" stroke-width="1.9" stroke-linejoin="miter" fill-opacity="0.7" stroke-opacity="0.7"/>
<polygon points="207.68,1312.92 215.49,1325.93 207.68,1338.94 199.88,1325.93" fill="#a52a2a" stroke="#a52a2a" stroke-width="1.9" stroke-linejoin="miter" fill-opacity="0.7" stroke-opacity="0.7"/>
<polygon points="282.96,895.73 290.77,908.74 282.96,921.76 275.16,908.74" fill="#a52a2a" stroke="#a52a2a" stroke-width="1.9" stroke-linejoin="miter" fill-opacity="0.7" stroke-opacity="0.7"/>
<polygon points="358.25,895.73 366.05,908.74 358.25,921.76 350.44,908.74" fill="#a52a2a" stroke="#a52a2a" stroke-width="1.9" stroke-linejoin="miter" fill-opacity="0.7" stroke-opacity="0.7"/>
<polygon points="433.53,895.73 441.33,908.74 433.53,921.76 425.72,908.74" fill="#a52a2a" stroke="#a52a2a" stroke-width="1.9" stroke-linejoin="miter" fill-opacity="0.7" stroke-opacity="0.7"/>
<polygon points="508.81,897.42 516.62,910.43 508.81,923.44 501,910.43" fill="#a52a2a" stroke="#a52a2a" stroke-width="1.9" stroke-linejoin="miter" fill-opacity="0.7" stroke-opacity="0.7"/>
<polygon points="584.09,898.27 591.9,911.28 584.09,924.29 576.28,911.28" fill="#a52a2a" stroke="#a52a2a" stroke-width="1.9" stroke-linejoin="miter" fill-opacity="0.7" stroke-opacity="0.7"/>
<polygon points="659.37,1309.54 667.18,1322.55 659.37,1335.56 651.57,1322.55" fill="#a52a2a" stroke="#a52a2a" stroke-width="1.9" stroke-linejoin="miter" fill-opacity="0.7" stroke-opacity="0.7"/>
<polygon points="734.65,1317.14 742.46,1330.15 734.65,1343.16 726.85,1330.15" fill="#a52a2a" stroke="#a52a2a" stroke-width="1.9" stroke-linejoin="miter" fill-opacity="0.7" stroke-opacity="0.7"/>
<polygon points="809.94,1317.98 817.74,1330.99 809.94,1344.01 802.13,1330.99" fill="#a52a2a" stroke="#a52a2a" stroke-width="1.9" stroke-linejoin="miter" fill-opacity="0.7" stroke-opacity="0.7"/>
<polygon points="885.22,1317.98 893.02,1330.99 885.22,1344.01 877.41,1330.99" fill="#a52a2a" stroke="#a52a2a" stroke-width="1.9" stroke-linejoin="miter" fill-opacity="0.7" stroke-opacity="0.7"/>
<polygon points="960.5,1317.98 968.31,1330.99 960.5,1344.01 952.69,1330.99" fill="#a52a2a" stroke="#a52a2a" stroke-width="1.9" stroke-linejoin="miter" fill-opacity="0.7" stroke-opacity="0.7"/>
<path d="M132.4,1335.55 L207.68,1276.1 L282.96,938.98 L358.25,918.03 L433.53,928.51 L508.81,943.37 L584.09,953.5 L659.37,1259.21 L734.65,1329.31 L809.94,1331.84 L885.22,1341.13 L960.5,1345.35" fill="none" stroke="#ff0000" stroke-width="4.27" stroke-linejoin="round" stroke-opacity="0.6" stroke-linecap="square"/>
<polygon points="129.37,1326.45 135.43,1326.45 135.43,1332.52 141.5,1332.52 141.5,1338.59 135.43,1338.59 135.43,1344.65 129.37,1344.65 129.37,1338.59 123.3,1338.59 123.3,1332.52 129.37,1332.52" fill="#ff0000" stroke="#ff0000" stroke-width="1.9" stroke-linejoin="miter" fill-opacity="0.6" stroke-opacity="0.6"/>
<polygon points="204.65,1267 210.72,1267 210.72,1273.07 216.78,1273.07 216.78,1279.14 210.72,1279.14 210.72,1285.2 204.65,1285.2 204.65,1279.14 198.58,1279.14 198.58,1273.07 204.65,1273.07" fill="#ff0000" stroke="#ff0000" stroke-width="1.9" stroke-linejoin="miter" fill-opacity="0.6" stroke-opacity="0.6"/>
<polygon points="279.93,929.88 286,929.88 286,935.94 292.06,935.94 292.06,942.01 286,942.01 286,948.08 279.93,948.08 279.93,942.01 273.86,942.01 273.86,935.94 279.93,935.94" fill="#ff0000" stroke="#ff0000" stroke-width="1.9" stroke-linejoin="miter" fill-opacity="0.6" stroke-opacity="0.6"/>
<polygon points="355.21,908.93 361.28,908.93 361.28,915 367.35,915 367.35,921.07 361.28,921.07 361.28,927.13 355.21,927.13 355.21,921.07 349.15,921.07 349.15,915 355.21,915" fill="#ff0000" stroke="#ff0000" stroke-width="1.9" stroke-linejoin="miter" fill-opacity="0.6" stroke-opacity="0.6"/>
<polygon points="430.49,919.41 436.56,919.41 436.56,925.47 442.63,925.47 442.63,931.54 436.56,931.54 436.56,937.61 430.49,937.61 430.49,931.54 424.43,931.54 424.43,925.47 430.49,925.47" fill="#ff0000" stroke="#ff0000" stroke-width="1.9" stroke-linejoin="miter" fill-opacity="0.6" stroke-opacity="0.6"/>
<polygon points="505.78,934.27 511.84,934.27 511.84,940.34 517.91,940.34 517.91,946.4 511.84,946.4 511.84,952.47 505.78,952.47 505.78,946.4 499.71,946.4 499.71,940.34 505.78,940.34" fill="#ff0000" stroke="#ff0000" stroke-width="1.9" stroke-linejoin="miter" fill-opacity="0.6" stroke-opacity="0.6"/>
<polygon points="581.06,944.4 587.12,944.4 587.12,950.47 593.19,950.47 593.19,956.54 587.12,956.54 587.12,962.6 581.06,962.6 581.06,956.54 574.99,956.54 574.99,950.47 581.06,950.47" fill="#ff0000" stroke="#ff0000" stroke-width="1.9" stroke-linejoin="miter" fill-opacity="0.6" stroke-opacity="0.6"/>
<polygon points="656.34,1250.11 662.41,1250.11 662.41,1256.18 668.47,1256.18 668.47,1262.25 662.41,1262.25 662.41,1268.31 656.34,1268.31 656.34,1262.25 650.27,1262.25 650.27,1256.18 656.34,1256.18" fill="#ff0000" stroke="#ff0000" stroke-width="1.9" stroke-linejoin="miter" fill-opacity="0.6" stroke-opacity="0.6"/>
<polygon points="731.62,1320.21 737.69,1320.21 737.69,1326.27 743.75,1326.27 743.75,1332.34 737.69,1332.34 737.69,1338.41 731.62,1338.41 731.62,1332.34 725.55,1332.34 725.55,1326.27 731.62,1326.27" fill="#ff0000" stroke="#ff0000" stroke-width="1.9" stroke-linejoin="miter" fill-opacity="0.6" stroke-opacity="0.6"/>
<polygon points="806.9,1322.74 812.97,1322.74 812.97,1328.81 819.04,1328.81 819.04,1334.87 812.97,1334.87 812.97,1340.94 806.9,1340.94 806.9,1334.87 800.84,1334.87 800.84,1328.81 806.9,1328.81" fill="#ff0000" stroke="#ff0000" stroke-width="1.9" stroke-linejoin="miter" fill-opacity="0.6" stroke-opacity="0.6"/>
<polygon points="882.18,1332.03 888.25,1332.03 888.25,1338.1 894.32,1338.1 894.32,1344.16 888.25,1344.16 888.25,1350.23 882.18,1350.23 882.18,1344.16 876.12,1344.16 876.12,1338.1 882.18,1338.1" fill="#ff0000" stroke="#ff0000" stroke-width="1.9" stroke-linejoin="miter" fill-opacity="0.6" stroke-opacity="0.6"/>
<polygon points="957.47,1336.25 963.53,1336.25 963.53,1342.32 969.6,1342.32 969.6,1348.38 963.53,1348.38 963.53,1354.45 957.47,1354.45 957.47,1348.38 951.4,1348.38 951.4,1342.32 957.47,1342.32" fill="#ff0000" stroke="#ff0000" stroke-width="1.9" stroke-linejoin="miter" fill-opacity="0.6" stroke-opacity="0.6"/>
<path d="M132.4,1277.37 L207.68,1171.81 L282.96,1066.24 L358.25,960.68 L433.53,907.9 L508.81,960.68 L584.09,1066.24 L659.37,1171.81 L734.65,1277.37 L809.94,1330.15 L885.22,1330.15 L960.5,1330.15" fill="none" stroke="#0000ff" stroke-width="4.27" stroke-linejoin="round" stroke-opacity="0.5" stroke-linecap="butt" stroke-dasharray="15.79,6.83"/>
<polygon points="132.4,1268.47 141.3,1286.27 123.5,1286.27" fill="#0000ff" stroke="#0000ff" stroke-width="1.9" stroke-linejoin="miter" fill-opacity="0.5" stroke-opacity="0.5"/>
<polygon points="207.68,1162.91 216.58,1180.71 198.78,1180.71" fill="#0000ff" stroke="#0000ff" stroke-width="1.9" stroke-linejoin="miter" fill-opacity="0.5" stroke-opacity="0.5"/>
<polygon points="282.96,1057.34 291.86,1075.14 274.06,1075.14" fill="#0000ff" stroke="#0000ff" stroke-width="1.9" stroke-linejoin="miter" fill-opacity="0.5" stroke-opacity="0.5"/>
<polygon points="358.25,951.78 367.15,969.58 349.35,969.58" fill="#0000ff" stroke="#0000ff" stroke-width="1.9" stroke-linejoin="miter" fill-opacity="0.5" stroke-opacity="0.5"/>
<polygon points="433.53,899 442.43,916.8 424.63,916.8" fill="#0000ff" stroke="#0000ff" stroke-width="1.9" stroke-linejoin="miter" fill-opacity="0.5" stroke-opacity="0.5"/>
<polygon points="508.81,951.78 517.71,969.58 499.91,969.58" fill="#0000ff" stroke="#0000ff" stroke-width="1.9" stroke-linejoin="miter" fill-opacity="0.5" stroke-opacity="0.5"/>
<polygon points="584.09,1057.34 592.99,1075.14 575.19,1075.14" fill="#0000ff" stroke="#0000ff" stroke-width="1.9" stroke-linejoin="miter" fill-opacity="0.5" stroke-opacity="0.5"/>
<polygon points="659.37,1162.91 668.27,1180.71 650.47,1180.71" fill="#0000ff" stroke="#0000ff" stroke-width="1.9" stroke-linejoin="miter" fill-opacity="0.5" stroke-opacity="0.5"/>
<polygon points="734.65,1268.47 743.55,1286.27 725.75,1286.27" fill="#0000ff" stroke="#0000ff" stroke-width="1.9" stroke-linejoin="miter" fill-opacity="0.5" stroke-opacity="0.5"/>
<polygon points="809.94,1321.25 818.84,1339.05 801.04,1339.05" fill="#0000ff" stroke="#0000ff" stroke-width="1.9" stroke-linejoin="miter" fill-opacity="0.5" stroke-opacity="0.5"/>
<polygon points="885.22,1321.25 894.12,1339.05 876.32,1339.05" fill="#0000ff" stroke="#0000ff" stroke-width="1.9" stroke-linejoin="miter" fill-opacity="0.5" stroke-opacity="0.5"/>
<polygon points="960.5,1321.25 969.4,1339.05 951.6,1339.05" fill="#0000ff" stroke="#0000ff" stroke-width="1.9" stroke-linejoin="miter" fill-opacity="0.5" stroke-opacity="0.5"/>
</g>
<line x1="132.4" y1="845" x2="132.4" y2="1461.8" stroke="#000" stroke-width="1.7" stroke-linecap="square" fill="none"/>
<line x1="960.5" y1="845" x2="960.5" y2="1461.8" stroke="#000" stroke-width="1.7" stroke-linecap="square" fill="none"/>
<line x1="132.4" y1="845" x2="960.5" y2="845" stroke="#000" stroke-width="1.7" stroke-linecap="square" fill="none"/>
<line x1="132.4" y1="1461.8" x2="960.5" y2="1461.8" stroke="#000" stroke-width="1.7" stroke-linecap="square" fill="none"/>
<line x1="132.4" y1="1461.8" x2="132.4" y2="1468.4" stroke="#000" stroke-width="1.7"/>
<text x="132.4" y="1495.3" font-family='"DejaVu Sans","Liberation Sans",sans-serif' font-size="26.3" text-anchor="middle"  >0</text>
<line x1="207.68" y1="1461.8" x2="207.68" y2="1468.4" stroke="#000" stroke-width="1.7"/>
<text x="207.68" y="1495.3" font-family='"DejaVu Sans","Liberation Sans",sans-serif' font-size="26.3" text-anchor="middle"  >1</text>
<line x1="282.96" y1="1461.8" x2="282.96" y2="1468.4" stroke="#000" stroke-width="1.7"/>
<text x="282.96" y="1495.3" font-family='"DejaVu Sans","Liberation Sans",sans-serif' font-size="26.3" text-anchor="middle"  >2</text>
<line x1="358.25" y1="1461.8" x2="358.25" y2="1468.4" stroke="#000" stroke-width="1.7"/>
<text x="358.25" y="1495.3" font-family='"DejaVu Sans","Liberation Sans",sans-serif' font-size="26.3" text-anchor="middle"  >3</text>
<line x1="433.53" y1="1461.8" x2="433.53" y2="1468.4" stroke="#000" stroke-width="1.7"/>
<text x="433.53" y="1495.3" font-family='"DejaVu Sans","Liberation Sans",sans-serif' font-size="26.3" text-anchor="middle"  >4</text>
<line x1="508.81" y1="1461.8" x2="508.81" y2="1468.4" stroke="#000" stroke-width="1.7"/>
<text x="508.81" y="1495.3" font-family='"DejaVu Sans","Liberation Sans",sans-serif' font-size="26.3" text-anchor="middle"  >5</text>
<line x1="584.09" y1="1461.8" x2="584.09" y2="1468.4" stroke="#000" stroke-width="1.7"/>
<text x="584.09" y="1495.3" font-family='"DejaVu Sans","Liberation Sans",sans-serif' font-size="26.3" text-anchor="middle"  >6</text>
<line x1="659.37" y1="1461.8" x2="659.37" y2="1468.4" stroke="#000" stroke-width="1.7"/>
<text x="659.37" y="1495.3" font-family='"DejaVu Sans","Liberation Sans",sans-serif' font-size="26.3" text-anchor="middle"  >7</text>
<line x1="734.65" y1="1461.8" x2="734.65" y2="1468.4" stroke="#000" stroke-width="1.7"/>
<text x="734.65" y="1495.3" font-family='"DejaVu Sans","Liberation Sans",sans-serif' font-size="26.3" text-anchor="middle"  >8</text>
<line x1="809.94" y1="1461.8" x2="809.94" y2="1468.4" stroke="#000" stroke-width="1.7"/>
<text x="809.94" y="1495.3" font-family='"DejaVu Sans","Liberation Sans",sans-serif' font-size="26.3" text-anchor="middle"  >9</text>
<line x1="885.22" y1="1461.8" x2="885.22" y2="1468.4" stroke="#000" stroke-width="1.7"/>
<text x="885.22" y="1495.3" font-family='"DejaVu Sans","Liberation Sans",sans-serif' font-size="26.3" text-anchor="middle"  >10</text>
<line x1="960.5" y1="1461.8" x2="960.5" y2="1468.4" stroke="#000" stroke-width="1.7"/>
<text x="960.5" y="1495.3" font-family='"DejaVu Sans","Liberation Sans",sans-serif' font-size="26.3" text-anchor="middle"  >11</text>
<line x1="125.8" y1="1414.6" x2="132.4" y2="1414.6" stroke="#000" stroke-width="1.7"/>
<text x="119.2" y="1424.9" font-family='"DejaVu Sans","Liberation Sans",sans-serif' font-size="26.3" text-anchor="end"  >0.70</text>
<line x1="125.8" y1="1330.15" x2="132.4" y2="1330.15" stroke="#000" stroke-width="1.7"/>
<text x="119.2" y="1340.45" font-family='"DejaVu Sans","Liberation Sans",sans-serif' font-size="26.3" text-anchor="end"  >0.75</text>
<line x1="125.8" y1="1245.7" x2="132.4" y2="1245.7" stroke="#000" stroke-width="1.7"/>
<text x="119.2" y="1256" font-family='"DejaVu Sans","Liberation Sans",sans-serif' font-size="26.3" text-anchor="end"  >0.80</text>
<line x1="125.8" y1="1161.25" x2="132.4" y2="1161.25" stroke="#000" stroke-width="1.7"/>
<text x="119.2" y="1171.55" font-family='"DejaVu Sans","Liberation Sans",sans-serif' font-size="26.3" text-anchor="end"  >0.85</text>
<line x1="125.8" y1="1076.8" x2="132.4" y2="1076.8" stroke="#000" stroke-width="1.7"/>
<text x="119.2" y="1087.1" font-family='"DejaVu Sans","Liberation Sans",sans-serif' font-size="26.3" text-anchor="end"  >0.90</text>
<line x1="125.8" y1="992.35" x2="132.4" y2="992.35" stroke="#000" stroke-width="1.7"/>
<text x="119.2" y="1002.65" font-family='"DejaVu Sans","Liberation Sans",sans-serif' font-size="26.3" text-anchor="end"  >0.95</text>
<line x1="125.8" y1="907.9" x2="132.4" y2="907.9" stroke="#000" stroke-width="1.7"/>
<text x="119.2" y="918.2" font-family='"DejaVu Sans","Liberation Sans",sans-serif' font-size="26.3" text-anchor="end"  >1.00</text>
<text transform="translate(547.30,1531.20)" font-family='"DejaVu Sans","Liberation Sans",sans-serif' font-size="29.40"><tspan x="-49.54" y="-0.00">I</tspan><tspan x="-40.87" y="-0.00">n</tspan><tspan x="-22.23" y="-0.00">d</tspan><tspan x="-3.57" y="-0.00">e</tspan><tspan x="14.52" y="-0.00">x</tspan><tspan x="41.26" y="-0.00" font-style="italic">i</tspan></text>
<text transform="translate(25.90,1158.20) rotate(-90)" font-family='"DejaVu Sans","Liberation Sans",sans-serif' font-size="29.40"><tspan x="-103.49" y="-0.00">P</tspan><tspan x="-85.76" y="-0.00">i</tspan><tspan x="-77.59" y="-0.00">x</tspan><tspan x="-60.19" y="-0.00">e</tspan><tspan x="-42.10" y="-0.00">l</tspan><tspan x="-24.59" y="-0.00">I</tspan><tspan x="-15.92" y="-0.00">n</tspan><tspan x="2.71" y="-0.00">t</tspan><tspan x="14.24" y="-0.00">e</tspan><tspan x="32.33" y="-0.00">n</tspan><tspan x="50.96" y="-0.00">s</tspan><tspan x="66.28" y="-0.00">i</tspan><tspan x="74.45" y="-0.00">t</tspan><tspan x="85.98" y="-0.00">y</tspan></text>
<rect x="662.1" y="857.6" width="285.6" height="239.8" rx="5" ry="5" fill="#fff" fill-opacity="0.8" stroke="#ccc" stroke-width="1.8"/>
<path d="M673,879.1 L724.8,879.1" fill="none" stroke="#008000" stroke-width="4.27" stroke-linejoin="round" stroke-linecap="square"/>
<circle cx="698.9" cy="879.1" r="9.2" fill="#008000" stroke="#008000" stroke-width="1.9" stroke-linejoin="miter"/>
<path d="M673,917.8 L724.8,917.8" fill="none" stroke="#000000" stroke-width="4.27" stroke-linejoin="round" stroke-linecap="butt" stroke-dasharray="15.79,6.83"/>
<polygon points="698.9,908.54 708.16,917.8 698.9,927.06 689.64,917.8" fill="#000000" stroke="#000000" stroke-width="1.9" stroke-linejoin="miter"/>
<path d="M673,956.6 L724.8,956.6" fill="none" stroke="#cd853f" stroke-width="4.27" stroke-linejoin="round" stroke-opacity="0.9" stroke-linecap="butt" stroke-dasharray="15.79,6.83"/>
<polygon points="698.9,947.4 700.97,953.76 707.65,953.76 702.24,957.69 704.31,964.04 698.9,960.11 693.49,964.04 695.56,957.69 690.15,953.76 696.83,953.76" fill="#cd853f" stroke="#cd853f" stroke-width="1.9" stroke-linejoin="bevel" fill-opacity="0.9" stroke-opacity="0.9"/>
<path d="M673,995.2 L724.8,995.2" fill="none" stroke="#a52a2a" stroke-width="4.27" stroke-linejoin="round" stroke-opacity="0.7" stroke-linecap="butt" stroke-dasharray="15.79,6.83"/>
<polygon points="698.9,982.19 706.71,995.2 698.9,1008.21 691.09,995.2" fill="#a52a2a" stroke="#a52a2a" stroke-width="1.9" stroke-linejoin="miter" fill-opacity="0.7" stroke-opacity="0.7"/>
<path d="M673,1033.8 L724.8,1033.8" fill="none" stroke="#ff0000" stroke-width="4.27" stroke-linejoin="round" stroke-opacity="0.6" stroke-linecap="square"/>
<polygon points="695.87,1024.7 701.93,1024.7 701.93,1030.77 708,1030.77 708,1036.83 701.93,1036.83 701.93,1042.9 695.87,1042.9 695.87,1036.83 689.8,1036.83 689.8,1030.77 695.87,1030.77" fill="#ff0000" stroke="#ff0000" stroke-width="1.9" stroke-linejoin="miter" fill-opacity="0.6" stroke-opacity="0.6"/>
<path d="M673,1072.4 L724.8,1072.4" fill="none" stroke="#0000ff" stroke-width="4.27" stroke-linejoin="round" stroke-opacity="0.5" stroke-linecap="butt" stroke-dasharray="15.79,6.83"/>
<polygon points="698.9,1063.5 707.8,1081.3 690,1081.3" fill="#0000ff" stroke="#0000ff" stroke-width="1.9" stroke-linejoin="miter" fill-opacity="0.5" stroke-opacity="0.5"/>
<text transform="translate(745.90,888.60)" font-family='"DejaVu Sans","Liberation Sans",sans-serif' font-size="25.90"><tspan x="0.00" y="-0.02" font-style="italic">F</tspan></text>
<text transform="translate(745.90,927.30)" font-family='"DejaVu Sans","Liberation Sans",sans-serif' font-size="25.90"><tspan x="0.00" y="-0.00" font-style="italic">f</tspan><tspan x="9.12" y="4.25" font-size="18.13" font-style="italic">R</tspan><tspan x="21.72" y="4.25" font-size="18.13" font-style="italic">L</tspan><tspan x="32.52" y="-0.00">(</tspan><tspan x="42.63" y="-0.00">Λ</tspan><tspan x="65.39" y="-0.00">=</tspan><tspan x="92.14" y="-0.00">0</tspan><tspan x="108.62" y="-0.00">)</tspan></text>
<text transform="translate(745.90,966.10)" font-family='"DejaVu Sans","Liberation Sans",sans-serif' font-size="25.90"><tspan x="0.00" y="-0.00" font-style="italic">f</tspan><tspan x="9.12" y="4.25" font-size="18.13" font-style="italic">R</tspan><tspan x="21.72" y="4.25" font-size="18.13" font-style="italic">L</tspan><tspan x="32.52" y="-0.00">(</tspan><tspan x="42.63" y="-0.00">Λ</tspan><tspan x="65.39" y="-0.00">=</tspan><tspan x="92.14" y="-0.00">0</tspan><tspan x="108.62" y="-0.00">.</tspan><tspan x="116.85" y="-0.00">0</tspan><tspan x="133.33" y="-0.00">0</tspan><tspan x="149.81" y="-0.00">0</tspan><tspan x="166.29" y="-0.00">1</tspan><tspan x="182.76" y="-0.00">)</tspan></text>
<text transform="translate(745.90,1004.70)" font-family='"DejaVu Sans","Liberation Sans",sans-serif' font-size="25.90"><tspan x="0.00" y="-0.00" font-style="italic">f</tspan><tspan x="9.12" y="4.25" font-size="18.13" font-style="italic">R</tspan><tspan x="21.72" y="4.25" font-size="18.13" font-style="italic">L</tspan><tspan x="32.52" y="-0.00">(</tspan><tspan x="42.63" y="-0.00">Λ</tspan><tspan x="65.39" y="-0.00">=</tspan><tspan x="92.14" y="-0.00">0</tspan><tspan x="108.62" y="-0.00">.</tspan><tspan x="116.85" y="-0.00">0</tspan><tspan x="133.33" y="-0.00">0</tspan><tspan x="149.81" y="-0.00">1</tspan><tspan x="166.29" y="-0.00">)</tspan></text>
<text transform="translate(745.90,1043.30)" font-family='"DejaVu Sans","Liberation Sans",sans-serif' font-size="25.90"><tspan x="0.00" y="-0.00" font-style="italic">f</tspan><tspan x="9.12" y="4.25" font-size="18.13" font-style="italic">R</tspan><tspan x="21.72" y="4.25" font-size="18.13" font-style="italic">L</tspan><tspan x="32.52" y="-0.00">(</tspan><tspan x="42.63" y="-0.00">Λ</tspan><tspan x="65.39" y="-0.00">=</tspan><tspan x="92.14" y="-0.00">0</tspan><tspan x="108.62" y="-0.00">.</tspan><tspan x="116.85" y="-0.00">0</tspan><tspan x="133.33" y="-0.00">1</tspan><tspan x="149.81" y="-0.00">)</tspan></text>
<text transform="translate(745.90,1081.90)" font-family='"DejaVu Sans","Liberation Sans",sans-serif' font-size="25.90"><tspan x="0.00" y="-0.00" font-style="italic">g</tspan></text>
<text x="466.2" y="1614.5" font-size="46.5" font-family='"Liberation Serif","DejaVu Serif",serif' stroke="#fff" stroke-width="0.4">(</text><text transform="translate(480.22,1614.8) scale(1.12,1)" font-size="41.5" font-family='"Liberation Serif","DejaVu Serif",serif' stroke="#fff" stroke-width="0.4">c</text><text x="499.31" y="1614.5" font-size="46.5" font-family='"Liberation Serif","DejaVu Serif",serif' stroke="#fff" stroke-width="0.4">)</text>
<clipPath id="c3"><rect x="117.7" y="1679.4" width="842.34" height="627.41"/></clipPath>
<g clip-path="url(#c3)">
<path d="M117.7,2178.2 L194.28,2178.2 L270.85,1741.2 L347.43,1741.2 L424.01,1741.2 L500.58,1741.2 L577.16,1741.2 L653.74,2178.2 L730.31,2178.2 L806.89,2178.2 L883.47,2178.2 L960.04,2178.2" fill="none" stroke="#008000" stroke-width="4.34" stroke-linejoin="round" stroke-linecap="square"/>
<circle cx="117.7" cy="2178.2" r="9.36" fill="#008000" stroke="#008000" stroke-width="1.93" stroke-linejoin="miter"/>
<circle cx="194.28" cy="2178.2" r="9.36" fill="#008000" stroke="#008000" stroke-width="1.93" stroke-linejoin="miter"/>
<circle cx="270.85" cy="1741.2" r="9.36" fill="#008000" stroke="#008000" stroke-width="1.93" stroke-linejoin="miter"/>
<circle cx="347.43" cy="1741.2" r="9.36" fill="#008000" stroke="#008000" stroke-width="1.93" stroke-linejoin="miter"/>
<circle cx="424.01" cy="1741.2" r="9.36" fill="#008000" stroke="#008000" stroke-width="1.93" stroke-linejoin="miter"/>
<circle cx="500.58" cy="1741.2" r="9.36" fill="#008000" stroke="#008000" stroke-width="1.93" stroke-linejoin="miter"/>
<circle cx="577.16" cy="1741.2" r="9.36" fill="#008000" stroke="#008000" stroke-width="1.93" stroke-linejoin="miter"/>
<circle cx="653.74" cy="2178.2" r="9.36" fill="#008000" stroke="#008000" stroke-width="1.93" stroke-linejoin="miter"/>
<circle cx="730.31" cy="2178.2" r="9.36" fill="#008000" stroke="#008000" stroke-width="1.93" stroke-linejoin="miter"/>
<circle cx="806.89" cy="2178.2" r="9.36" fill="#008000" stroke="#008000" stroke-width="1.93" stroke-linejoin="miter"/>
<circle cx="883.47" cy="2178.2" r="9.36" fill="#008000" stroke="#008000" stroke-width="1.93" stroke-linejoin="miter"/>
<circle cx="960.04" cy="2178.2" r="9.36" fill="#008000" stroke="#008000" stroke-width="1.93" stroke-linejoin="miter"/>
<path d="M117.7,2144.38 L194.28,2144.38 L270.85,1842.06 L347.43,1707.73 L424.01,1707.73 L500.58,1707.73 L577.16,1842.06 L653.74,2144.38 L730.31,2144.38 L806.89,2144.38 L883.47,2278.71 L960.04,2144.38" fill="none" stroke="#000000" stroke-width="4.34" stroke-linejoin="round" stroke-linecap="butt" stroke-dasharray="16.06,6.94"/>
<polygon points="117.7,2134.95 127.12,2144.38 117.7,2153.8 108.28,2144.38" fill="#000000" stroke="#000000" stroke-width="1.93" stroke-linejoin="miter"/>
<polygon points="194.28,2134.95 203.7,2144.38 194.28,2153.8 184.85,2144.38" fill="#000000" stroke="#000000" stroke-width="1.93" stroke-linejoin="miter"/>
<polygon points="270.85,1832.64 280.28,1842.06 270.85,1851.48 261.43,1842.06" fill="#000000" stroke="#000000" stroke-width="1.93" stroke-linejoin="miter"/>
<polygon points="347.43,1698.3 356.85,1707.73 347.43,1717.15 338.01,1707.73" fill="#000000" stroke="#000000" stroke-width="1.93" stroke-linejoin="miter"/>
<polygon points="424.01,1698.3 433.43,1707.73 424.01,1717.15 414.58,1707.73" fill="#000000" stroke="#000000" stroke-width="1.93" stroke-linejoin="miter"/>
<polygon points="500.58,1698.3 510.01,1707.73 500.58,1717.15 491.16,1707.73" fill="#000000" stroke="#000000" stroke-width="1.93" stroke-linejoin="miter"/>
<polygon points="577.16,1832.64 586.58,1842.06 577.16,1851.48 567.74,1842.06" fill="#000000" stroke="#000000" stroke-width="1.93" stroke-linejoin="miter"/>
<polygon points="653.74,2134.95 663.16,2144.38 653.74,2153.8 644.31,2144.38" fill="#000000" stroke="#000000" stroke-width="1.93" stroke-linejoin="miter"/>
<polygon points="730.31,2134.95 739.74,2144.38 730.31,2153.8 720.89,2144.38" fill="#000000" stroke="#000000" stroke-width="1.93" stroke-linejoin="miter"/>
<polygon points="806.89,2134.95 816.31,2144.38 806.89,2153.8 797.47,2144.38" fill="#000000" stroke="#000000" stroke-width="1.93" stroke-linejoin="miter"/>
<polygon points="883.47,2269.29 892.89,2278.71 883.47,2288.13 874.04,2278.71" fill="#000000" stroke="#000000" stroke-width="1.93" stroke-linejoin="miter"/>
<polygon points="960.04,2134.95 969.47,2144.38 960.04,2153.8 950.62,2144.38" fill="#000000" stroke="#000000" stroke-width="1.93" stroke-linejoin="miter"/>
<path d="M117.7,2178.2 L194.28,2177.76 L270.85,1741.37 L347.43,1741.2 L424.01,1741.2 L500.58,1741.2 L577.16,1741.37 L653.74,2177.76 L730.31,2178.2 L806.89,2178.2 L883.47,2178.2 L960.04,2178.2" fill="none" stroke="#cd853f" stroke-width="4.34" stroke-linejoin="round" stroke-opacity="0.9" stroke-linecap="butt" stroke-dasharray="16.06,6.94"/>
<polygon points="117.7,2168.84 119.8,2175.31 126.6,2175.31 121.1,2179.3 123.2,2185.77 117.7,2181.77 112.2,2185.77 114.3,2179.3 108.8,2175.31 115.6,2175.31" fill="#cd853f" stroke="#cd853f" stroke-width="1.93" stroke-linejoin="bevel" fill-opacity="0.9" stroke-opacity="0.9"/>
<polygon points="194.28,2168.4 196.38,2174.87 203.18,2174.87 197.68,2178.87 199.78,2185.33 194.28,2181.34 188.78,2185.33 190.88,2178.87 185.38,2174.87 192.18,2174.87" fill="#cd853f" stroke="#cd853f" stroke-width="1.93" stroke-linejoin="bevel" fill-opacity="0.9" stroke-opacity="0.9"/>
<polygon points="270.85,1732.02 272.95,1738.48 279.75,1738.48 274.25,1742.48 276.35,1748.95 270.85,1744.95 265.35,1748.95 267.45,1742.48 261.95,1738.48 268.75,1738.48" fill="#cd853f" stroke="#cd853f" stroke-width="1.93" stroke-linejoin="bevel" fill-opacity="0.9" stroke-opacity="0.9"/>
<polygon points="347.43,1731.84 349.53,1738.31 356.33,1738.31 350.83,1742.3 352.93,1748.77 347.43,1744.77 341.93,1748.77 344.03,1742.3 338.53,1738.31 345.33,1738.31" fill="#cd853f" stroke="#cd853f" stroke-width="1.93" stroke-linejoin="bevel" fill-opacity="0.9" stroke-opacity="0.9"/>
<polygon points="424.01,1731.84 426.11,1738.31 432.91,1738.31 427.41,1742.3 429.51,1748.77 424.01,1744.77 418.51,1748.77 420.61,1742.3 415.11,1738.31 421.91,1738.31" fill="#cd853f" stroke="#cd853f" stroke-width="1.93" stroke-linejoin="bevel" fill-opacity="0.9" stroke-opacity="0.9"/>
<polygon points="500.58,1731.84 502.68,1738.31 509.48,1738.31 503.98,1742.3 506.08,1748.77 500.58,1744.77 495.08,1748.77 497.18,1742.3 491.68,1738.31 498.48,1738.31" fill="#cd853f" stroke="#cd853f" stroke-width="1.93" stroke-linejoin="bevel" fill-opacity="0.9" stroke-opacity="0.9"/>
<polygon points="577.16,1732.02 579.26,1738.48 586.06,1738.48 580.56,1742.48 582.66,1748.95 577.16,1744.95 571.66,1748.95 573.76,1742.48 568.26,1738.48 575.06,1738.48" fill="#cd853f" stroke="#cd853f" stroke-width="1.93" stroke-linejoin="bevel" fill-opacity="0.9" stroke-opacity="0.9"/>
<polygon points="653.74,2168.4 655.84,2174.87 662.64,2174.87 657.14,2178.87 659.24,2185.33 653.74,2181.34 648.24,2185.33 650.34,2178.87 644.84,2174.87 651.64,2174.87" fill="#cd853f" stroke="#cd853f" stroke-width="1.93" stroke-linejoin="bevel" fill-opacity="0.9" stroke-opacity="0.9"/>
<polygon points="730.31,2168.84 732.41,2175.31 739.21,2175.31 733.71,2179.3 735.81,2185.77 730.31,2181.77 724.81,2185.77 726.91,2179.3 721.41,2175.31 728.21,2175.31" fill="#cd853f" stroke="#cd853f" stroke-width="1.93" stroke-linejoin="bevel" fill-opacity="0.9" stroke-opacity="0.9"/>
<polygon points="806.89,2168.84 808.99,2175.31 815.79,2175.31 810.29,2179.3 812.39,2185.77 806.89,2181.77 801.39,2185.77 803.49,2179.3 797.99,2175.31 804.79,2175.31" fill="#cd853f" stroke="#cd853f" stroke-width="1.93" stroke-linejoin="bevel" fill-opacity="0.9" stroke-opacity="0.9"/>
<polygon points="883.47,2168.84 885.57,2175.31 892.37,2175.31 886.87,2179.3 888.97,2185.77 883.47,2181.77 877.97,2185.77 880.07,2179.3 874.57,2175.31 881.37,2175.31" fill="#cd853f" stroke="#cd853f" stroke-width="1.93" stroke-linejoin="bevel" fill-opacity="0.9" stroke-opacity="0.9"/>
<polygon points="960.04,2168.84 962.14,2175.31 968.94,2175.31 963.44,2179.3 965.54,2185.77 960.04,2181.77 954.54,2185.77 956.64,2179.3 951.14,2175.31 957.94,2175.31" fill="#cd853f" stroke="#cd853f" stroke-width="1.93" stroke-linejoin="bevel" fill-opacity="0.9" stroke-opacity="0.9"/>
<path d="M117.7,2178.2 L194.28,2176.89 L270.85,1741.64 L347.43,1741.64 L424.01,1741.64 L500.58,1742.07 L577.16,1742.51 L653.74,2176.01 L730.31,2178.2 L806.89,2178.2 L883.47,2178.2 L960.04,2178.2" fill="none" stroke="#a52a2a" stroke-width="4.34" stroke-linejoin="round" stroke-opacity="0.7" stroke-linecap="butt" stroke-dasharray="16.06,6.94"/>
<polygon points="117.7,2164.97 125.64,2178.2 117.7,2191.43 109.76,2178.2" fill="#a52a2a" stroke="#a52a2a" stroke-width="1.93" stroke-linejoin="miter" fill-opacity="0.7" stroke-opacity="0.7"/>
<polygon points="194.28,2163.65 202.22,2176.89 194.28,2190.12 186.34,2176.89" fill="#a52a2a" stroke="#a52a2a" stroke-width="1.93" stroke-linejoin="miter" fill-opacity="0.7" stroke-opacity="0.7"/>
<polygon points="270.85,1728.4 278.79,1741.64 270.85,1754.87 262.91,1741.64" fill="#a52a2a" stroke="#a52a2a" stroke-width="1.93" stroke-linejoin="miter" fill-opacity="0.7" stroke-opacity="0.7"/>
<polygon points="347.43,1728.4 355.37,1741.64 347.43,1754.87 339.49,1741.64" fill="#a52a2a" stroke="#a52a2a" stroke-width="1.93" stroke-linejoin="miter" fill-opacity="0.7" stroke-opacity="0.7"/>
<polygon points="424.01,1728.4 431.95,1741.64 424.01,1754.87 416.07,1741.64" fill="#a52a2a" stroke="#a52a2a" stroke-width="1.93" stroke-linejoin="miter" fill-opacity="0.7" stroke-opacity="0.7"/>
<polygon points="500.58,1728.84 508.52,1742.07 500.58,1755.31 492.64,1742.07" fill="#a52a2a" stroke="#a52a2a" stroke-width="1.93" stroke-linejoin="miter" fill-opacity="0.7" stroke-opacity="0.7"/>
<polygon points="577.16,1729.28 585.1,1742.51 577.16,1755.75 569.22,1742.51" fill="#a52a2a" stroke="#a52a2a" stroke-width="1.93" stroke-linejoin="miter" fill-opacity="0.7" stroke-opacity="0.7"/>
<polygon points="653.74,2162.78 661.68,2176.01 653.74,2189.25 645.8,2176.01" fill="#a52a2a" stroke="#a52a2a" stroke-width="1.93" stroke-linejoin="miter" fill-opacity="0.7" stroke-opacity="0.7"/>
<polygon points="730.31,2164.97 738.25,2178.2 730.31,2191.43 722.37,2178.2" fill="#a52a2a" stroke="#a52a2a" stroke-width="1.93" stroke-linejoin="miter" fill-opacity="0.7" stroke-opacity="0.7"/>
<polygon points="806.89,2164.97 814.83,2178.2 806.89,2191.43 798.95,2178.2" fill="#a52a2a" stroke="#a52a2a" stroke-width="1.93" stroke-linejoin="miter" fill-opacity="0.7" stroke-opacity="0.7"/>
<polygon points="883.47,2164.97 891.41,2178.2 883.47,2191.43 875.53,2178.2" fill="#a52a2a" stroke="#a52a2a" stroke-width="1.93" stroke-linejoin="miter" fill-opacity="0.7" stroke-opacity="0.7"/>
<polygon points="960.04,2164.97 967.98,2178.2 960.04,2191.43 952.1,2178.2" fill="#a52a2a" stroke="#a52a2a" stroke-width="1.93" stroke-linejoin="miter" fill-opacity="0.7" stroke-opacity="0.7"/>
<path d="M117.7,2179.51 L194.28,2156.35 L270.85,1748.19 L347.43,1747.75 L424.01,1751.69 L500.58,1760.43 L577.16,1763.92 L653.74,2143.24 L730.31,2178.2 L806.89,2179.07 L883.47,2181.7 L960.04,2183.44" fill="none" stroke="#ff0000" stroke-width="4.34" stroke-linejoin="round" stroke-opacity="0.6" stroke-linecap="square"/>
<polygon points="114.61,2170.25 120.79,2170.25 120.79,2176.43 126.96,2176.43 126.96,2182.6 120.79,2182.6 120.79,2188.77 114.61,2188.77 114.61,2182.6 108.44,2182.6 108.44,2176.43 114.61,2176.43" fill="#ff0000" stroke="#ff0000" stroke-width="1.93" stroke-linejoin="miter" fill-opacity="0.6" stroke-opacity="0.6"/>
<polygon points="191.19,2147.09 197.36,2147.09 197.36,2153.26 203.53,2153.26 203.53,2159.44 197.36,2159.44 197.36,2165.61 191.19,2165.61 191.19,2159.44 185.02,2159.44 185.02,2153.26 191.19,2153.26" fill="#ff0000" stroke="#ff0000" stroke-width="1.93" stroke-linejoin="miter" fill-opacity="0.6" stroke-opacity="0.6"/>
<polygon points="267.77,1738.94 273.94,1738.94 273.94,1745.11 280.11,1745.11 280.11,1751.28 273.94,1751.28 273.94,1757.45 267.77,1757.45 267.77,1751.28 261.6,1751.28 261.6,1745.11 267.77,1745.11" fill="#ff0000" stroke="#ff0000" stroke-width="1.93" stroke-linejoin="miter" fill-opacity="0.6" stroke-opacity="0.6"/>
<polygon points="344.34,1738.5 350.52,1738.5 350.52,1744.67 356.69,1744.67 356.69,1750.84 350.52,1750.84 350.52,1757.01 344.34,1757.01 344.34,1750.84 338.17,1750.84 338.17,1744.67 344.34,1744.67" fill="#ff0000" stroke="#ff0000" stroke-width="1.93" stroke-linejoin="miter" fill-opacity="0.6" stroke-opacity="0.6"/>
<polygon points="420.92,1742.43 427.09,1742.43 427.09,1748.6 433.26,1748.6 433.26,1754.77 427.09,1754.77 427.09,1760.94 420.92,1760.94 420.92,1754.77 414.75,1754.77 414.75,1748.6 420.92,1748.6" fill="#ff0000" stroke="#ff0000" stroke-width="1.93" stroke-linejoin="miter" fill-opacity="0.6" stroke-opacity="0.6"/>
<polygon points="497.5,1751.17 503.67,1751.17 503.67,1757.34 509.84,1757.34 509.84,1763.51 503.67,1763.51 503.67,1769.68 497.5,1769.68 497.5,1763.51 491.33,1763.51 491.33,1757.34 497.5,1757.34" fill="#ff0000" stroke="#ff0000" stroke-width="1.93" stroke-linejoin="miter" fill-opacity="0.6" stroke-opacity="0.6"/>
<polygon points="574.07,1754.67 580.25,1754.67 580.25,1760.84 586.42,1760.84 586.42,1767.01 580.25,1767.01 580.25,1773.18 574.07,1773.18 574.07,1767.01 567.9,1767.01 567.9,1760.84 574.07,1760.84" fill="#ff0000" stroke="#ff0000" stroke-width="1.93" stroke-linejoin="miter" fill-opacity="0.6" stroke-opacity="0.6"/>
<polygon points="650.65,2133.98 656.82,2133.98 656.82,2140.15 662.99,2140.15 662.99,2146.33 656.82,2146.33 656.82,2152.5 650.65,2152.5 650.65,2146.33 644.48,2146.33 644.48,2140.15 650.65,2140.15" fill="#ff0000" stroke="#ff0000" stroke-width="1.93" stroke-linejoin="miter" fill-opacity="0.6" stroke-opacity="0.6"/>
<polygon points="727.23,2168.94 733.4,2168.94 733.4,2175.11 739.57,2175.11 739.57,2181.29 733.4,2181.29 733.4,2187.46 727.23,2187.46 727.23,2181.29 721.06,2181.29 721.06,2175.11 727.23,2175.11" fill="#ff0000" stroke="#ff0000" stroke-width="1.93" stroke-linejoin="miter" fill-opacity="0.6" stroke-opacity="0.6"/>
<polygon points="803.8,2169.82 809.98,2169.82 809.98,2175.99 816.15,2175.99 816.15,2182.16 809.98,2182.16 809.98,2188.33 803.8,2188.33 803.8,2182.16 797.63,2182.16 797.63,2175.99 803.8,2175.99" fill="#ff0000" stroke="#ff0000" stroke-width="1.93" stroke-linejoin="miter" fill-opacity="0.6" stroke-opacity="0.6"/>
<polygon points="880.38,2172.44 886.55,2172.44 886.55,2178.61 892.72,2178.61 892.72,2184.78 886.55,2184.78 886.55,2190.95 880.38,2190.95 880.38,2184.78 874.21,2184.78 874.21,2178.61 880.38,2178.61" fill="#ff0000" stroke="#ff0000" stroke-width="1.93" stroke-linejoin="miter" fill-opacity="0.6" stroke-opacity="0.6"/>
<polygon points="956.96,2174.19 963.13,2174.19 963.13,2180.36 969.3,2180.36 969.3,2186.53 963.13,2186.53 963.13,2192.7 956.96,2192.7 956.96,2186.53 950.79,2186.53 950.79,2180.36 956.96,2180.36" fill="#ff0000" stroke="#ff0000" stroke-width="1.93" stroke-linejoin="miter" fill-opacity="0.6" stroke-opacity="0.6"/>
<path d="M117.7,2123.57 L194.28,2014.33 L270.85,1905.08 L347.43,1795.83 L424.01,1741.2 L500.58,1795.83 L577.16,1905.08 L653.74,2014.33 L730.31,2123.57 L806.89,2178.2 L883.47,2178.2 L960.04,2178.2" fill="none" stroke="#0000ff" stroke-width="4.34" stroke-linejoin="round" stroke-opacity="0.5" stroke-linecap="butt" stroke-dasharray="16.06,6.94"/>
<polygon points="117.7,2114.52 126.75,2132.63 108.65,2132.63" fill="#0000ff" stroke="#0000ff" stroke-width="1.93" stroke-linejoin="miter" fill-opacity="0.5" stroke-opacity="0.5"/>
<polygon points="194.28,2005.27 203.33,2023.38 185.22,2023.38" fill="#0000ff" stroke="#0000ff" stroke-width="1.93" stroke-linejoin="miter" fill-opacity="0.5" stroke-opacity="0.5"/>
<polygon points="270.85,1896.02 279.91,1914.13 261.8,1914.13" fill="#0000ff" stroke="#0000ff" stroke-width="1.93" stroke-linejoin="miter" fill-opacity="0.5" stroke-opacity="0.5"/>
<polygon points="347.43,1786.77 356.48,1804.88 338.38,1804.88" fill="#0000ff" stroke="#0000ff" stroke-width="1.93" stroke-linejoin="miter" fill-opacity="0.5" stroke-opacity="0.5"/>
<polygon points="424.01,1732.15 433.06,1750.25 414.95,1750.25" fill="#0000ff" stroke="#0000ff" stroke-width="1.93" stroke-linejoin="miter" fill-opacity="0.5" stroke-opacity="0.5"/>
<polygon points="500.58,1786.77 509.64,1804.88 491.53,1804.88" fill="#0000ff" stroke="#0000ff" stroke-width="1.93" stroke-linejoin="miter" fill-opacity="0.5" stroke-opacity="0.5"/>
<polygon points="577.16,1896.02 586.21,1914.13 568.11,1914.13" fill="#0000ff" stroke="#0000ff" stroke-width="1.93" stroke-linejoin="miter" fill-opacity="0.5" stroke-opacity="0.5"/>
<polygon points="653.74,2005.27 662.79,2023.38 644.68,2023.38" fill="#0000ff" stroke="#0000ff" stroke-width="1.93" stroke-linejoin="miter" fill-opacity="0.5" stroke-opacity="0.5"/>
<polygon points="730.31,2114.52 739.37,2132.63 721.26,2132.63" fill="#0000ff" stroke="#0000ff" stroke-width="1.93" stroke-linejoin="miter" fill-opacity="0.5" stroke-opacity="0.5"/>
<polygon points="806.89,2169.15 815.94,2187.25 797.84,2187.25" fill="#0000ff" stroke="#0000ff" stroke-width="1.93" stroke-linejoin="miter" fill-opacity="0.5" stroke-opacity="0.5"/>
<polygon points="883.47,2169.15 892.52,2187.25 874.41,2187.25" fill="#0000ff" stroke="#0000ff" stroke-width="1.93" stroke-linejoin="miter" fill-opacity="0.5" stroke-opacity="0.5"/>
<polygon points="960.04,2169.15 969.1,2187.25 950.99,2187.25" fill="#0000ff" stroke="#0000ff" stroke-width="1.93" stroke-linejoin="miter" fill-opacity="0.5" stroke-opacity="0.5"/>
</g>
<line x1="117.7" y1="1679.4" x2="117.7" y2="2306.81" stroke="#000" stroke-width="1.73" stroke-linecap="square" fill="none"/>
<line x1="960.04" y1="1679.4" x2="960.04" y2="2306.81" stroke="#000" stroke-width="1.73" stroke-linecap="square" fill="none"/>
<line x1="117.7" y1="1679.4" x2="960.04" y2="1679.4" stroke="#000" stroke-width="1.73" stroke-linecap="square" fill="none"/>
<line x1="117.7" y1="2306.81" x2="960.04" y2="2306.81" stroke="#000" stroke-width="1.73" stroke-linecap="square" fill="none"/>
<line x1="117.7" y1="2306.81" x2="117.7" y2="2313.52" stroke="#000" stroke-width="1.73"/>
<text x="117.7" y="2340.89" font-family='"DejaVu Sans","Liberation Sans",sans-serif' font-size="26.75" text-anchor="middle"  >0</text>
<line x1="194.28" y1="2306.81" x2="194.28" y2="2313.52" stroke="#000" stroke-width="1.73"/>
<text x="194.28" y="2340.89" font-family='"DejaVu Sans","Liberation Sans",sans-serif' font-size="26.75" text-anchor="middle"  >1</text>
<line x1="270.85" y1="2306.81" x2="270.85" y2="2313.52" stroke="#000" stroke-width="1.73"/>
<text x="270.85" y="2340.89" font-family='"DejaVu Sans","Liberation Sans",sans-serif' font-size="26.75" text-anchor="middle"  >2</text>
<line x1="347.43" y1="2306.81" x2="347.43" y2="2313.52" stroke="#000" stroke-width="1.73"/>
<text x="347.43" y="2340.89" font-family='"DejaVu Sans","Liberation Sans",sans-serif' font-size="26.75" text-anchor="middle"  >3</text>
<line x1="424.01" y1="2306.81" x2="424.01" y2="2313.52" stroke="#000" stroke-width="1.73"/>
<text x="424.01" y="2340.89" font-family='"DejaVu Sans","Liberation Sans",sans-serif' font-size="26.75" text-anchor="middle"  >4</text>
<line x1="500.58" y1="2306.81" x2="500.58" y2="2313.52" stroke="#000" stroke-width="1.73"/>
<text x="500.58" y="2340.89" font-family='"DejaVu Sans","Liberation Sans",sans-serif' font-size="26.75" text-anchor="middle"  >5</text>
<line x1="577.16" y1="2306.81" x2="577.16" y2="2313.52" stroke="#000" stroke-width="1.73"/>
<text x="577.16" y="2340.89" font-family='"DejaVu Sans","Liberation Sans",sans-serif' font-size="26.75" text-anchor="middle"  >6</text>
<line x1="653.74" y1="2306.81" x2="653.74" y2="2313.52" stroke="#000" stroke-width="1.73"/>
<text x="653.74" y="2340.89" font-family='"DejaVu Sans","Liberation Sans",sans-serif' font-size="26.75" text-anchor="middle"  >7</text>
<line x1="730.31" y1="2306.81" x2="730.31" y2="2313.52" stroke="#000" stroke-width="1.73"/>
<text x="730.31" y="2340.89" font-family='"DejaVu Sans","Liberation Sans",sans-serif' font-size="26.75" text-anchor="middle"  >8</text>
<line x1="806.89" y1="2306.81" x2="806.89" y2="2313.52" stroke="#000" stroke-width="1.73"/>
<text x="806.89" y="2340.89" font-family='"DejaVu Sans","Liberation Sans",sans-serif' font-size="26.75" text-anchor="middle"  >9</text>
<line x1="883.47" y1="2306.81" x2="883.47" y2="2313.52" stroke="#000" stroke-width="1.73"/>
<text x="883.47" y="2340.89" font-family='"DejaVu Sans","Liberation Sans",sans-serif' font-size="26.75" text-anchor="middle"  >10</text>
<line x1="960.04" y1="2306.81" x2="960.04" y2="2313.52" stroke="#000" stroke-width="1.73"/>
<text x="960.04" y="2340.89" font-family='"DejaVu Sans","Liberation Sans",sans-serif' font-size="26.75" text-anchor="middle"  >11</text>
<line x1="110.99" y1="2265.6" x2="117.7" y2="2265.6" stroke="#000" stroke-width="1.73"/>
<text x="104.27" y="2276.08" font-family='"DejaVu Sans","Liberation Sans",sans-serif' font-size="26.75" text-anchor="end"  >0.4</text>
<line x1="110.99" y1="2178.2" x2="117.7" y2="2178.2" stroke="#000" stroke-width="1.73"/>
<text x="104.27" y="2188.68" font-family='"DejaVu Sans","Liberation Sans",sans-serif' font-size="26.75" text-anchor="end"  >0.5</text>
<line x1="110.99" y1="2090.8" x2="117.7" y2="2090.8" stroke="#000" stroke-width="1.73"/>
<text x="104.27" y="2101.28" font-family='"DejaVu Sans","Liberation Sans",sans-serif' font-size="26.75" text-anchor="end"  >0.6</text>
<line x1="110.99" y1="2003.4" x2="117.7" y2="2003.4" stroke="#000" stroke-width="1.73"/>
<text x="104.27" y="2013.88" font-family='"DejaVu Sans","Liberation Sans",sans-serif' font-size="26.75" text-anchor="end"  >0.7</text>
<line x1="110.99" y1="1916" x2="117.7" y2="1916" stroke="#000" stroke-width="1.73"/>
<text x="104.27" y="1926.48" font-family='"DejaVu Sans","Liberation Sans",sans-serif' font-size="26.75" text-anchor="end"  >0.8</text>
<line x1="110.99" y1="1828.6" x2="117.7" y2="1828.6" stroke="#000" stroke-width="1.73"/>
<text x="104.27" y="1839.08" font-family='"DejaVu Sans","Liberation Sans",sans-serif' font-size="26.75" text-anchor="end"  >0.9</text>
<line x1="110.99" y1="1741.2" x2="117.7" y2="1741.2" stroke="#000" stroke-width="1.73"/>
<text x="104.27" y="1751.68" font-family='"DejaVu Sans","Liberation Sans",sans-serif' font-size="26.75" text-anchor="end"  >1.0</text>
<text transform="translate(539.74,2377.40)" font-family='"DejaVu Sans","Liberation Sans",sans-serif' font-size="29.91"><tspan x="-50.39" y="-0.00">I</tspan><tspan x="-41.57" y="-0.00">n</tspan><tspan x="-22.62" y="-0.00">d</tspan><tspan x="-3.63" y="-0.00">e</tspan><tspan x="14.76" y="-0.00">x</tspan><tspan x="41.97" y="-0.00" font-style="italic">i</tspan></text>
<text transform="translate(26.50,1997.99) rotate(-90)" font-family='"DejaVu Sans","Liberation Sans",sans-serif' font-size="29.91"><tspan x="-105.27" y="-0.00">P</tspan><tspan x="-87.23" y="-0.00">i</tspan><tspan x="-78.93" y="-0.00">x</tspan><tspan x="-61.23" y="-0.00">e</tspan><tspan x="-42.83" y="-0.00">l</tspan><tspan x="-25.01" y="-0.00">I</tspan><tspan x="-16.19" y="-0.00">n</tspan><tspan x="2.76" y="-0.00">t</tspan><tspan x="14.49" y="-0.00">e</tspan><tspan x="32.89" y="-0.00">n</tspan><tspan x="51.84" y="-0.00">s</tspan><tspan x="67.42" y="-0.00">i</tspan><tspan x="75.73" y="-0.00">t</tspan><tspan x="87.45" y="-0.00">y</tspan></text>
<rect x="656.51" y="1692.22" width="290.51" height="243.92" rx="5.09" ry="5.09" fill="#fff" fill-opacity="0.8" stroke="#ccc" stroke-width="1.83"/>
<path d="M667.6,1714.09 L720.29,1714.09" fill="none" stroke="#008000" stroke-width="4.34" stroke-linejoin="round" stroke-linecap="square"/>
<circle cx="693.94" cy="1714.09" r="9.36" fill="#008000" stroke="#008000" stroke-width="1.93" stroke-linejoin="miter"/>
<path d="M667.6,1753.45 L720.29,1753.45" fill="none" stroke="#000000" stroke-width="4.34" stroke-linejoin="round" stroke-linecap="butt" stroke-dasharray="16.06,6.94"/>
<polygon points="693.94,1744.03 703.37,1753.45 693.94,1762.87 684.52,1753.45" fill="#000000" stroke="#000000" stroke-width="1.93" stroke-linejoin="miter"/>
<path d="M667.6,1792.92 L720.29,1792.92" fill="none" stroke="#cd853f" stroke-width="4.34" stroke-linejoin="round" stroke-opacity="0.9" stroke-linecap="butt" stroke-dasharray="16.06,6.94"/>
<polygon points="693.94,1783.56 696.04,1790.03 702.84,1790.03 697.34,1794.02 699.44,1800.49 693.94,1796.49 688.44,1800.49 690.54,1794.02 685.04,1790.03 691.84,1790.03" fill="#cd853f" stroke="#cd853f" stroke-width="1.93" stroke-linejoin="bevel" fill-opacity="0.9" stroke-opacity="0.9"/>
<path d="M667.6,1832.18 L720.29,1832.18" fill="none" stroke="#a52a2a" stroke-width="4.34" stroke-linejoin="round" stroke-opacity="0.7" stroke-linecap="butt" stroke-dasharray="16.06,6.94"/>
<polygon points="693.94,1818.95 701.88,1832.18 693.94,1845.42 686,1832.18" fill="#a52a2a" stroke="#a52a2a" stroke-width="1.93" stroke-linejoin="miter" fill-opacity="0.7" stroke-opacity="0.7"/>
<path d="M667.6,1871.45 L720.29,1871.45" fill="none" stroke="#ff0000" stroke-width="4.34" stroke-linejoin="round" stroke-opacity="0.6" stroke-linecap="square"/>
<polygon points="690.86,1862.19 697.03,1862.19 697.03,1868.36 703.2,1868.36 703.2,1874.53 697.03,1874.53 697.03,1880.7 690.86,1880.7 690.86,1874.53 684.69,1874.53 684.69,1868.36 690.86,1868.36" fill="#ff0000" stroke="#ff0000" stroke-width="1.93" stroke-linejoin="miter" fill-opacity="0.6" stroke-opacity="0.6"/>
<path d="M667.6,1910.71 L720.29,1910.71" fill="none" stroke="#0000ff" stroke-width="4.34" stroke-linejoin="round" stroke-opacity="0.5" stroke-linecap="butt" stroke-dasharray="16.06,6.94"/>
<polygon points="693.94,1901.66 703,1919.76 684.89,1919.76" fill="#0000ff" stroke="#0000ff" stroke-width="1.93" stroke-linejoin="miter" fill-opacity="0.5" stroke-opacity="0.5"/>
<text transform="translate(741.75,1723.75)" font-family='"DejaVu Sans","Liberation Sans",sans-serif' font-size="26.35"><tspan x="0.00" y="-0.02" font-style="italic">F</tspan></text>
<text transform="translate(741.75,1763.12)" font-family='"DejaVu Sans","Liberation Sans",sans-serif' font-size="26.35"><tspan x="0.00" y="-0.00" font-style="italic">f</tspan><tspan x="9.27" y="4.32" font-size="18.44" font-style="italic">R</tspan><tspan x="22.09" y="4.32" font-size="18.44" font-style="italic">L</tspan><tspan x="33.08" y="-0.00">(</tspan><tspan x="43.36" y="-0.00">Λ</tspan><tspan x="66.52" y="-0.00">=</tspan><tspan x="93.72" y="-0.00">0</tspan><tspan x="110.49" y="-0.00">)</tspan></text>
<text transform="translate(741.75,1802.58)" font-family='"DejaVu Sans","Liberation Sans",sans-serif' font-size="26.35"><tspan x="0.00" y="-0.00" font-style="italic">f</tspan><tspan x="9.27" y="4.32" font-size="18.44" font-style="italic">R</tspan><tspan x="22.09" y="4.32" font-size="18.44" font-style="italic">L</tspan><tspan x="33.08" y="-0.00">(</tspan><tspan x="43.36" y="-0.00">Λ</tspan><tspan x="66.52" y="-0.00">=</tspan><tspan x="93.72" y="-0.00">0</tspan><tspan x="110.49" y="-0.00">.</tspan><tspan x="118.86" y="-0.00">0</tspan><tspan x="135.62" y="-0.00">0</tspan><tspan x="152.38" y="-0.00">0</tspan><tspan x="169.15" y="-0.00">1</tspan><tspan x="185.91" y="-0.00">)</tspan></text>
<text transform="translate(741.75,1841.85)" font-family='"DejaVu Sans","Liberation Sans",sans-serif' font-size="26.35"><tspan x="0.00" y="-0.00" font-style="italic">f</tspan><tspan x="9.27" y="4.32" font-size="18.44" font-style="italic">R</tspan><tspan x="22.09" y="4.32" font-size="18.44" font-style="italic">L</tspan><tspan x="33.08" y="-0.00">(</tspan><tspan x="43.36" y="-0.00">Λ</tspan><tspan x="66.52" y="-0.00">=</tspan><tspan x="93.72" y="-0.00">0</tspan><tspan x="110.49" y="-0.00">.</tspan><tspan x="118.86" y="-0.00">0</tspan><tspan x="135.62" y="-0.00">0</tspan><tspan x="152.38" y="-0.00">1</tspan><tspan x="169.15" y="-0.00">)</tspan></text>
<text transform="translate(741.75,1881.11)" font-family='"DejaVu Sans","Liberation Sans",sans-serif' font-size="26.35"><tspan x="0.00" y="-0.00" font-style="italic">f</tspan><tspan x="9.27" y="4.32" font-size="18.44" font-style="italic">R</tspan><tspan x="22.09" y="4.32" font-size="18.44" font-style="italic">L</tspan><tspan x="33.08" y="-0.00">(</tspan><tspan x="43.36" y="-0.00">Λ</tspan><tspan x="66.52" y="-0.00">=</tspan><tspan x="93.72" y="-0.00">0</tspan><tspan x="110.49" y="-0.00">.</tspan><tspan x="118.86" y="-0.00">0</tspan><tspan x="135.62" y="-0.00">1</tspan><tspan x="152.38" y="-0.00">)</tspan></text>
<text transform="translate(741.75,1920.37)" font-family='"DejaVu Sans","Liberation Sans",sans-serif' font-size="26.35"><tspan x="0.00" y="-0.00" font-style="italic">g</tspan></text>
<text x="466.2" y="2460.7" font-size="46.5" font-family='"Liberation Serif","DejaVu Serif",serif' stroke="#fff" stroke-width="0.4">(</text><text transform="translate(480.1,2461) scale(1.14,1)" font-size="41.5" font-family='"Liberation Serif","DejaVu Serif",serif' stroke="#fff" stroke-width="0.4">e</text><text x="499.31" y="2460.7" font-size="46.5" font-family='"Liberation Serif","DejaVu Serif",serif' stroke="#fff" stroke-width="0.4">)</text>
<clipPath id="c4"><rect x="1157.4" y="13.7" width="823.3" height="284.5"/></clipPath>
<g clip-path="url(#c4)">
<path d="M1157.4,66.45 L1232.25,906.86 L1307.09,798.49 L1381.94,882.16 L1456.78,923.3 L1531.63,867.2 L1606.47,867.2 L1681.32,878.58 L1756.16,885.83 L1831.01,867.2 L1905.85,896.93 L1980.7,887.74" fill="none" stroke="#008000" stroke-width="5.5" stroke-linejoin="round" stroke-linecap="square"/>
<circle cx="1157.4" cy="66.45" r="6.9" fill="#008000" stroke="#008000" stroke-width="1.85" stroke-linejoin="miter"/>
<path d="M1157.4,66.45 L1232.25,906.86 L1307.09,798.49 L1381.94,882.16 L1456.78,923.3 L1531.63,867.2 L1606.47,867.2 L1681.32,878.58 L1756.16,885.83 L1831.01,867.2 L1905.85,869.48 L1980.7,869.48" fill="none" stroke="#000000" stroke-width="5.5" stroke-linejoin="round" stroke-linecap="butt" stroke-dasharray="20.35,8.8"/>
<polygon points="1157.4,56.69 1167.16,66.45 1157.4,76.2 1147.64,66.45" fill="#000000" stroke="#000000" stroke-width="1.85" stroke-linejoin="miter"/>
<path d="M1157.4,66.45 L1232.25,906.86 L1307.09,798.49 L1381.94,882.16 L1456.78,923.3 L1531.63,867.2 L1606.47,867.2 L1681.32,878.58 L1756.16,885.83 L1831.01,867.2 L1905.85,896.93 L1980.7,887.74" fill="none" stroke="#cd853f" stroke-width="5.5" stroke-linejoin="round" stroke-opacity="0.9" stroke-linecap="butt" stroke-dasharray="35.2,8.8,5.5,8.8"/>
<polygon points="1157.4,59.55 1158.95,64.31 1163.96,64.31 1159.91,67.26 1161.46,72.03 1157.4,69.08 1153.34,72.03 1154.89,67.26 1150.84,64.31 1155.85,64.31" fill="#cd853f" stroke="#cd853f" stroke-width="1.85" stroke-linejoin="bevel" fill-opacity="0.9" stroke-opacity="0.9"/>
<path d="M1157.4,66.45 L1232.25,906.86 L1307.09,798.49 L1381.94,882.16 L1456.78,923.3 L1531.63,867.2 L1606.47,867.2 L1681.32,878.58 L1756.16,885.83 L1831.01,867.2 L1905.85,893.94 L1980.7,886.55" fill="none" stroke="#a52a2a" stroke-width="5.5" stroke-linejoin="round" stroke-opacity="0.8" stroke-linecap="butt" stroke-dasharray="5.5,9.07"/>
<polygon points="1157.4,56.69 1163.25,66.45 1157.4,76.2 1151.55,66.45" fill="#a52a2a" stroke="#a52a2a" stroke-width="1.85" stroke-linejoin="miter" fill-opacity="0.8" stroke-opacity="0.8"/>
<path d="M1157.4,66.45 L1232.25,905.04 L1307.09,802.33 L1381.94,877.73 L1456.78,904.64 L1531.63,874.31 L1606.47,864.92 L1681.32,872.32 L1756.16,872.32 L1831.01,867.2 L1905.85,873.46 L1980.7,872.32" fill="none" stroke="#ff0000" stroke-width="5.5" stroke-linejoin="round" stroke-opacity="0.8" stroke-linecap="square"/>
<polygon points="1155.1,59.55 1159.7,59.55 1159.7,64.15 1164.3,64.15 1164.3,68.75 1159.7,68.75 1159.7,73.35 1155.1,73.35 1155.1,68.75 1150.5,68.75 1150.5,64.15 1155.1,64.15" fill="#ff0000" stroke="#ff0000" stroke-width="1.85" stroke-linejoin="miter" fill-opacity="0.8" stroke-opacity="0.8"/>
<path d="M1157.4,66.45 L1232.25,899.25 L1307.09,811.68 L1381.94,872.81 L1456.78,888.24 L1531.63,867.2 L1606.47,867.2 L1681.32,866.54 L1756.16,866.12 L1831.01,867.2 L1905.85,867.2 L1980.7,867.2" fill="none" stroke="#0000ff" stroke-width="5.5" stroke-linejoin="round" stroke-opacity="0.75" stroke-linecap="butt" stroke-dasharray="20.35,8.8"/>
<polygon points="1157.4,59.55 1164.3,73.35 1150.5,73.35" fill="#0000ff" stroke="#0000ff" stroke-width="1.85" stroke-linejoin="miter" fill-opacity="0.75" stroke-opacity="0.75"/>
</g>
<clipPath id="c5"><rect x="1157.4" y="344.2" width="823.3" height="284.8"/></clipPath>
<g clip-path="url(#c5)">
<path d="M1205.88,-12.6 L1232.25,567.61 L1307.09,355.24 L1381.94,519.22 L1456.78,599.84 L1531.63,489.89 L1606.47,489.89 L1681.32,512.19 L1756.16,526.41 L1831.01,489.89 L1905.85,548.15 L1980.7,530.15" fill="none" stroke="#008000" stroke-width="5.5" stroke-linejoin="round" stroke-linecap="square"/>
<circle cx="1232.25" cy="567.61" r="6.9" fill="#008000" stroke="#008000" stroke-width="1.85" stroke-linejoin="miter"/>
<circle cx="1307.09" cy="355.24" r="6.9" fill="#008000" stroke="#008000" stroke-width="1.85" stroke-linejoin="miter"/>
<circle cx="1381.94" cy="519.22" r="6.9" fill="#008000" stroke="#008000" stroke-width="1.85" stroke-linejoin="miter"/>
<circle cx="1456.78" cy="599.84" r="6.9" fill="#008000" stroke="#008000" stroke-width="1.85" stroke-linejoin="miter"/>
<circle cx="1531.63" cy="489.89" r="6.9" fill="#008000" stroke="#008000" stroke-width="1.85" stroke-linejoin="miter"/>
<circle cx="1606.47" cy="489.89" r="6.9" fill="#008000" stroke="#008000" stroke-width="1.85" stroke-linejoin="miter"/>
<circle cx="1681.32" cy="512.19" r="6.9" fill="#008000" stroke="#008000" stroke-width="1.85" stroke-linejoin="miter"/>
<circle cx="1756.16" cy="526.41" r="6.9" fill="#008000" stroke="#008000" stroke-width="1.85" stroke-linejoin="miter"/>
<circle cx="1831.01" cy="489.89" r="6.9" fill="#008000" stroke="#008000" stroke-width="1.85" stroke-linejoin="miter"/>
<circle cx="1905.85" cy="548.15" r="6.9" fill="#008000" stroke="#008000" stroke-width="1.85" stroke-linejoin="miter"/>
<circle cx="1980.7" cy="530.15" r="6.9" fill="#008000" stroke="#008000" stroke-width="1.85" stroke-linejoin="miter"/>
<path d="M1205.88,-12.6 L1232.25,567.61 L1307.09,355.24 L1381.94,519.22 L1456.78,599.84 L1531.63,489.89 L1606.47,489.89 L1681.32,512.19 L1756.16,526.41 L1831.01,489.89 L1905.85,494.35 L1980.7,494.35" fill="none" stroke="#000000" stroke-width="5.5" stroke-linejoin="round" stroke-linecap="butt" stroke-dasharray="20.35,8.8"/>
<polygon points="1232.25,557.85 1242,567.61 1232.25,577.37 1222.49,567.61" fill="#000000" stroke="#000000" stroke-width="1.85" stroke-linejoin="miter"/>
<polygon points="1307.09,345.48 1316.85,355.24 1307.09,365 1297.33,355.24" fill="#000000" stroke="#000000" stroke-width="1.85" stroke-linejoin="miter"/>
<polygon points="1381.94,509.46 1391.69,519.22 1381.94,528.98 1372.18,519.22" fill="#000000" stroke="#000000" stroke-width="1.85" stroke-linejoin="miter"/>
<polygon points="1456.78,590.08 1466.54,599.84 1456.78,609.6 1447.02,599.84" fill="#000000" stroke="#000000" stroke-width="1.85" stroke-linejoin="miter"/>
<polygon points="1531.63,480.13 1541.39,489.89 1531.63,499.65 1521.87,489.89" fill="#000000" stroke="#000000" stroke-width="1.85" stroke-linejoin="miter"/>
<polygon points="1606.47,480.13 1616.23,489.89 1606.47,499.65 1596.71,489.89" fill="#000000" stroke="#000000" stroke-width="1.85" stroke-linejoin="miter"/>
<polygon points="1681.32,502.43 1691.08,512.19 1681.32,521.95 1671.56,512.19" fill="#000000" stroke="#000000" stroke-width="1.85" stroke-linejoin="miter"/>
<polygon points="1756.16,516.65 1765.92,526.41 1756.16,536.17 1746.41,526.41" fill="#000000" stroke="#000000" stroke-width="1.85" stroke-linejoin="miter"/>
<polygon points="1831.01,480.13 1840.77,489.89 1831.01,499.65 1821.25,489.89" fill="#000000" stroke="#000000" stroke-width="1.85" stroke-linejoin="miter"/>
<polygon points="1905.85,484.59 1915.61,494.35 1905.85,504.11 1896.1,494.35" fill="#000000" stroke="#000000" stroke-width="1.85" stroke-linejoin="miter"/>
<polygon points="1980.7,484.59 1990.46,494.35 1980.7,504.11 1970.94,494.35" fill="#000000" stroke="#000000" stroke-width="1.85" stroke-linejoin="miter"/>
<path d="M1205.88,-12.6 L1232.25,567.61 L1307.09,355.24 L1381.94,519.22 L1456.78,599.84 L1531.63,489.89 L1606.47,489.89 L1681.32,512.19 L1756.16,526.41 L1831.01,489.89 L1905.85,548.15 L1980.7,530.15" fill="none" stroke="#cd853f" stroke-width="5.5" stroke-linejoin="round" stroke-opacity="0.9" stroke-linecap="butt" stroke-dasharray="35.2,8.8,5.5,8.8"/>
<polygon points="1232.25,560.71 1233.79,565.48 1238.81,565.48 1234.75,568.43 1236.3,573.2 1232.25,570.25 1228.19,573.2 1229.74,568.43 1225.68,565.48 1230.7,565.48" fill="#cd853f" stroke="#cd853f" stroke-width="1.85" stroke-linejoin="bevel" fill-opacity="0.9" stroke-opacity="0.9"/>
<polygon points="1307.09,348.34 1308.64,353.11 1313.65,353.11 1309.6,356.05 1311.15,360.82 1307.09,357.88 1303.04,360.82 1304.58,356.05 1300.53,353.11 1305.54,353.11" fill="#cd853f" stroke="#cd853f" stroke-width="1.85" stroke-linejoin="bevel" fill-opacity="0.9" stroke-opacity="0.9"/>
<polygon points="1381.94,512.32 1383.49,517.08 1388.5,517.08 1384.44,520.03 1385.99,524.8 1381.94,521.85 1377.88,524.8 1379.43,520.03 1375.37,517.08 1380.39,517.08" fill="#cd853f" stroke="#cd853f" stroke-width="1.85" stroke-linejoin="bevel" fill-opacity="0.9" stroke-opacity="0.9"/>
<polygon points="1456.78,592.94 1458.33,597.71 1463.34,597.71 1459.29,600.65 1460.84,605.42 1456.78,602.48 1452.73,605.42 1454.28,600.65 1450.22,597.71 1455.23,597.71" fill="#cd853f" stroke="#cd853f" stroke-width="1.85" stroke-linejoin="bevel" fill-opacity="0.9" stroke-opacity="0.9"/>
<polygon points="1531.63,482.99 1533.18,487.76 1538.19,487.76 1534.13,490.7 1535.68,495.47 1531.63,492.53 1527.57,495.47 1529.12,490.7 1525.06,487.76 1530.08,487.76" fill="#cd853f" stroke="#cd853f" stroke-width="1.85" stroke-linejoin="bevel" fill-opacity="0.9" stroke-opacity="0.9"/>
<polygon points="1606.47,482.99 1608.02,487.76 1613.04,487.76 1608.98,490.7 1610.53,495.47 1606.47,492.53 1602.42,495.47 1603.97,490.7 1599.91,487.76 1604.92,487.76" fill="#cd853f" stroke="#cd853f" stroke-width="1.85" stroke-linejoin="bevel" fill-opacity="0.9" stroke-opacity="0.9"/>
<polygon points="1681.32,505.29 1682.87,510.06 1687.88,510.06 1683.82,513.01 1685.37,517.77 1681.32,514.83 1677.26,517.77 1678.81,513.01 1674.76,510.06 1679.77,510.06" fill="#cd853f" stroke="#cd853f" stroke-width="1.85" stroke-linejoin="bevel" fill-opacity="0.9" stroke-opacity="0.9"/>
<polygon points="1756.16,519.51 1757.71,524.28 1762.73,524.28 1758.67,527.22 1760.22,531.99 1756.16,529.05 1752.11,531.99 1753.66,527.22 1749.6,524.28 1754.61,524.28" fill="#cd853f" stroke="#cd853f" stroke-width="1.85" stroke-linejoin="bevel" fill-opacity="0.9" stroke-opacity="0.9"/>
<polygon points="1831.01,482.99 1832.56,487.76 1837.57,487.76 1833.52,490.7 1835.06,495.47 1831.01,492.53 1826.95,495.47 1828.5,490.7 1824.45,487.76 1829.46,487.76" fill="#cd853f" stroke="#cd853f" stroke-width="1.85" stroke-linejoin="bevel" fill-opacity="0.9" stroke-opacity="0.9"/>
<polygon points="1905.85,541.25 1907.4,546.02 1912.42,546.02 1908.36,548.97 1909.91,553.74 1905.85,550.79 1901.8,553.74 1903.35,548.97 1899.29,546.02 1904.31,546.02" fill="#cd853f" stroke="#cd853f" stroke-width="1.85" stroke-linejoin="bevel" fill-opacity="0.9" stroke-opacity="0.9"/>
<polygon points="1980.7,523.25 1982.25,528.01 1987.26,528.01 1983.21,530.96 1984.76,535.73 1980.7,532.78 1976.64,535.73 1978.19,530.96 1974.14,528.01 1979.15,528.01" fill="#cd853f" stroke="#cd853f" stroke-width="1.85" stroke-linejoin="bevel" fill-opacity="0.9" stroke-opacity="0.9"/>
<path d="M1205.88,-12.6 L1232.25,567.61 L1307.09,355.24 L1381.94,519.22 L1456.78,599.84 L1531.63,489.89 L1606.47,489.89 L1681.32,512.19 L1756.16,526.41 L1831.01,489.89 L1905.85,542.3 L1980.7,527.8" fill="none" stroke="#a52a2a" stroke-width="5.5" stroke-linejoin="round" stroke-opacity="0.8" stroke-linecap="butt" stroke-dasharray="5.5,9.07"/>
<polygon points="1232.25,557.85 1238.1,567.61 1232.25,577.37 1226.39,567.61" fill="#a52a2a" stroke="#a52a2a" stroke-width="1.85" stroke-linejoin="miter" fill-opacity="0.8" stroke-opacity="0.8"/>
<polygon points="1307.09,345.48 1312.95,355.24 1307.09,365 1301.24,355.24" fill="#a52a2a" stroke="#a52a2a" stroke-width="1.85" stroke-linejoin="miter" fill-opacity="0.8" stroke-opacity="0.8"/>
<polygon points="1381.94,509.46 1387.79,519.22 1381.94,528.98 1376.08,519.22" fill="#a52a2a" stroke="#a52a2a" stroke-width="1.85" stroke-linejoin="miter" fill-opacity="0.8" stroke-opacity="0.8"/>
<polygon points="1456.78,590.08 1462.64,599.84 1456.78,609.6 1450.93,599.84" fill="#a52a2a" stroke="#a52a2a" stroke-width="1.85" stroke-linejoin="miter" fill-opacity="0.8" stroke-opacity="0.8"/>
<polygon points="1531.63,480.13 1537.48,489.89 1531.63,499.65 1525.77,489.89" fill="#a52a2a" stroke="#a52a2a" stroke-width="1.85" stroke-linejoin="miter" fill-opacity="0.8" stroke-opacity="0.8"/>
<polygon points="1606.47,480.13 1612.33,489.89 1606.47,499.65 1600.62,489.89" fill="#a52a2a" stroke="#a52a2a" stroke-width="1.85" stroke-linejoin="miter" fill-opacity="0.8" stroke-opacity="0.8"/>
<polygon points="1681.32,502.43 1687.17,512.19 1681.32,521.95 1675.46,512.19" fill="#a52a2a" stroke="#a52a2a" stroke-width="1.85" stroke-linejoin="miter" fill-opacity="0.8" stroke-opacity="0.8"/>
<polygon points="1756.16,516.65 1762.02,526.41 1756.16,536.17 1750.31,526.41" fill="#a52a2a" stroke="#a52a2a" stroke-width="1.85" stroke-linejoin="miter" fill-opacity="0.8" stroke-opacity="0.8"/>
<polygon points="1831.01,480.13 1836.86,489.89 1831.01,499.65 1825.15,489.89" fill="#a52a2a" stroke="#a52a2a" stroke-width="1.85" stroke-linejoin="miter" fill-opacity="0.8" stroke-opacity="0.8"/>
<polygon points="1905.85,532.54 1911.71,542.3 1905.85,552.06 1900,542.3" fill="#a52a2a" stroke="#a52a2a" stroke-width="1.85" stroke-linejoin="miter" fill-opacity="0.8" stroke-opacity="0.8"/>
<polygon points="1980.7,518.05 1986.55,527.8 1980.7,537.56 1974.85,527.8" fill="#a52a2a" stroke="#a52a2a" stroke-width="1.85" stroke-linejoin="miter" fill-opacity="0.8" stroke-opacity="0.8"/>
<path d="M1205.98,-12.6 L1232.25,564.04 L1307.09,362.77 L1381.94,510.52 L1456.78,563.26 L1531.63,503.83 L1606.47,485.43 L1681.32,499.93 L1756.16,499.93 L1831.01,489.89 L1905.85,502.16 L1980.7,499.93" fill="none" stroke="#ff0000" stroke-width="5.5" stroke-linejoin="round" stroke-opacity="0.8" stroke-linecap="square"/>
<polygon points="1229.95,557.14 1234.55,557.14 1234.55,561.74 1239.15,561.74 1239.15,566.34 1234.55,566.34 1234.55,570.94 1229.95,570.94 1229.95,566.34 1225.35,566.34 1225.35,561.74 1229.95,561.74" fill="#ff0000" stroke="#ff0000" stroke-width="1.85" stroke-linejoin="miter" fill-opacity="0.8" stroke-opacity="0.8"/>
<polygon points="1304.79,355.87 1309.39,355.87 1309.39,360.47 1313.99,360.47 1313.99,365.07 1309.39,365.07 1309.39,369.67 1304.79,369.67 1304.79,365.07 1300.19,365.07 1300.19,360.47 1304.79,360.47" fill="#ff0000" stroke="#ff0000" stroke-width="1.85" stroke-linejoin="miter" fill-opacity="0.8" stroke-opacity="0.8"/>
<polygon points="1379.64,503.62 1384.24,503.62 1384.24,508.22 1388.84,508.22 1388.84,512.82 1384.24,512.82 1384.24,517.42 1379.64,517.42 1379.64,512.82 1375.04,512.82 1375.04,508.22 1379.64,508.22" fill="#ff0000" stroke="#ff0000" stroke-width="1.85" stroke-linejoin="miter" fill-opacity="0.8" stroke-opacity="0.8"/>
<polygon points="1454.48,556.36 1459.08,556.36 1459.08,560.96 1463.68,560.96 1463.68,565.56 1459.08,565.56 1459.08,570.16 1454.48,570.16 1454.48,565.56 1449.88,565.56 1449.88,560.96 1454.48,560.96" fill="#ff0000" stroke="#ff0000" stroke-width="1.85" stroke-linejoin="miter" fill-opacity="0.8" stroke-opacity="0.8"/>
<polygon points="1529.33,496.93 1533.93,496.93 1533.93,501.53 1538.53,501.53 1538.53,506.13 1533.93,506.13 1533.93,510.73 1529.33,510.73 1529.33,506.13 1524.73,506.13 1524.73,501.53 1529.33,501.53" fill="#ff0000" stroke="#ff0000" stroke-width="1.85" stroke-linejoin="miter" fill-opacity="0.8" stroke-opacity="0.8"/>
<polygon points="1604.17,478.53 1608.77,478.53 1608.77,483.13 1613.37,483.13 1613.37,487.73 1608.77,487.73 1608.77,492.33 1604.17,492.33 1604.17,487.73 1599.57,487.73 1599.57,483.13 1604.17,483.13" fill="#ff0000" stroke="#ff0000" stroke-width="1.85" stroke-linejoin="miter" fill-opacity="0.8" stroke-opacity="0.8"/>
<polygon points="1679.02,493.03 1683.62,493.03 1683.62,497.63 1688.22,497.63 1688.22,502.23 1683.62,502.23 1683.62,506.83 1679.02,506.83 1679.02,502.23 1674.42,502.23 1674.42,497.63 1679.02,497.63" fill="#ff0000" stroke="#ff0000" stroke-width="1.85" stroke-linejoin="miter" fill-opacity="0.8" stroke-opacity="0.8"/>
<polygon points="1753.86,493.03 1758.46,493.03 1758.46,497.63 1763.06,497.63 1763.06,502.23 1758.46,502.23 1758.46,506.83 1753.86,506.83 1753.86,502.23 1749.26,502.23 1749.26,497.63 1753.86,497.63" fill="#ff0000" stroke="#ff0000" stroke-width="1.85" stroke-linejoin="miter" fill-opacity="0.8" stroke-opacity="0.8"/>
<polygon points="1828.71,482.99 1833.31,482.99 1833.31,487.59 1837.91,487.59 1837.91,492.19 1833.31,492.19 1833.31,496.79 1828.71,496.79 1828.71,492.19 1824.11,492.19 1824.11,487.59 1828.71,487.59" fill="#ff0000" stroke="#ff0000" stroke-width="1.85" stroke-linejoin="miter" fill-opacity="0.8" stroke-opacity="0.8"/>
<polygon points="1903.55,495.26 1908.15,495.26 1908.15,499.86 1912.75,499.86 1912.75,504.46 1908.15,504.46 1908.15,509.06 1903.55,509.06 1903.55,504.46 1898.95,504.46 1898.95,499.86 1903.55,499.86" fill="#ff0000" stroke="#ff0000" stroke-width="1.85" stroke-linejoin="miter" fill-opacity="0.8" stroke-opacity="0.8"/>
<polygon points="1978.4,493.03 1983,493.03 1983,497.63 1987.6,497.63 1987.6,502.23 1983,502.23 1983,506.83 1978.4,506.83 1978.4,502.23 1973.8,502.23 1973.8,497.63 1978.4,497.63" fill="#ff0000" stroke="#ff0000" stroke-width="1.85" stroke-linejoin="miter" fill-opacity="0.8" stroke-opacity="0.8"/>
<path d="M1206.32,-12.6 L1232.25,552.69 L1307.09,381.09 L1381.94,500.89 L1456.78,531.12 L1531.63,489.89 L1606.47,489.89 L1681.32,488.6 L1756.16,487.77 L1831.01,489.89 L1905.85,489.89 L1980.7,489.89" fill="none" stroke="#0000ff" stroke-width="5.5" stroke-linejoin="round" stroke-opacity="0.75" stroke-linecap="butt" stroke-dasharray="20.35,8.8"/>
<polygon points="1232.25,545.79 1239.15,559.59 1225.35,559.59" fill="#0000ff" stroke="#0000ff" stroke-width="1.85" stroke-linejoin="miter" fill-opacity="0.75" stroke-opacity="0.75"/>
<polygon points="1307.09,374.19 1313.99,387.99 1300.19,387.99" fill="#0000ff" stroke="#0000ff" stroke-width="1.85" stroke-linejoin="miter" fill-opacity="0.75" stroke-opacity="0.75"/>
<polygon points="1381.94,493.99 1388.84,507.79 1375.04,507.79" fill="#0000ff" stroke="#0000ff" stroke-width="1.85" stroke-linejoin="miter" fill-opacity="0.75" stroke-opacity="0.75"/>
<polygon points="1456.78,524.22 1463.68,538.02 1449.88,538.02" fill="#0000ff" stroke="#0000ff" stroke-width="1.85" stroke-linejoin="miter" fill-opacity="0.75" stroke-opacity="0.75"/>
<polygon points="1531.63,482.99 1538.53,496.79 1524.73,496.79" fill="#0000ff" stroke="#0000ff" stroke-width="1.85" stroke-linejoin="miter" fill-opacity="0.75" stroke-opacity="0.75"/>
<polygon points="1606.47,482.99 1613.37,496.79 1599.57,496.79" fill="#0000ff" stroke="#0000ff" stroke-width="1.85" stroke-linejoin="miter" fill-opacity="0.75" stroke-opacity="0.75"/>
<polygon points="1681.32,481.7 1688.22,495.5 1674.42,495.5" fill="#0000ff" stroke="#0000ff" stroke-width="1.85" stroke-linejoin="miter" fill-opacity="0.75" stroke-opacity="0.75"/>
<polygon points="1756.16,480.87 1763.06,494.67 1749.26,494.67" fill="#0000ff" stroke="#0000ff" stroke-width="1.85" stroke-linejoin="miter" fill-opacity="0.75" stroke-opacity="0.75"/>
<polygon points="1831.01,482.99 1837.91,496.79 1824.11,496.79" fill="#0000ff" stroke="#0000ff" stroke-width="1.85" stroke-linejoin="miter" fill-opacity="0.75" stroke-opacity="0.75"/>
<polygon points="1905.85,482.99 1912.75,496.79 1898.95,496.79" fill="#0000ff" stroke="#0000ff" stroke-width="1.85" stroke-linejoin="miter" fill-opacity="0.75" stroke-opacity="0.75"/>
<polygon points="1980.7,482.99 1987.6,496.79 1973.8,496.79" fill="#0000ff" stroke="#0000ff" stroke-width="1.85" stroke-linejoin="miter" fill-opacity="0.75" stroke-opacity="0.75"/>
</g>
<line x1="1157.4" y1="13.7" x2="1157.4" y2="298.2" stroke="#000" stroke-width="1.7" stroke-linecap="square" fill="none"/>
<line x1="1980.7" y1="13.7" x2="1980.7" y2="298.2" stroke="#000" stroke-width="1.7" stroke-linecap="square" fill="none"/>
<line x1="1157.4" y1="13.7" x2="1980.7" y2="13.7" stroke="#000" stroke-width="1.7" stroke-linecap="square" fill="none"/>
<line x1="1157.4" y1="344.2" x2="1157.4" y2="629" stroke="#000" stroke-width="1.7" stroke-linecap="square" fill="none"/>
<line x1="1980.7" y1="344.2" x2="1980.7" y2="629" stroke="#000" stroke-width="1.7" stroke-linecap="square" fill="none"/>
<line x1="1157.4" y1="629" x2="1980.7" y2="629" stroke="#000" stroke-width="1.7" stroke-linecap="square" fill="none"/>
<line x1="1157.4" y1="629" x2="1157.4" y2="636.7" stroke="#000" stroke-width="1.7"/>
<text x="1157.4" y="668.5" font-family='"DejaVu Sans","Liberation Sans",sans-serif' font-size="31.2" text-anchor="middle"  >0</text>
<line x1="1232.25" y1="629" x2="1232.25" y2="636.7" stroke="#000" stroke-width="1.7"/>
<text x="1232.25" y="668.5" font-family='"DejaVu Sans","Liberation Sans",sans-serif' font-size="31.2" text-anchor="middle"  >1</text>
<line x1="1307.09" y1="629" x2="1307.09" y2="636.7" stroke="#000" stroke-width="1.7"/>
<text x="1307.09" y="668.5" font-family='"DejaVu Sans","Liberation Sans",sans-serif' font-size="31.2" text-anchor="middle"  >2</text>
<line x1="1381.94" y1="629" x2="1381.94" y2="636.7" stroke="#000" stroke-width="1.7"/>
<text x="1381.94" y="668.5" font-family='"DejaVu Sans","Liberation Sans",sans-serif' font-size="31.2" text-anchor="middle"  >3</text>
<line x1="1456.78" y1="629" x2="1456.78" y2="636.7" stroke="#000" stroke-width="1.7"/>
<text x="1456.78" y="668.5" font-family='"DejaVu Sans","Liberation Sans",sans-serif' font-size="31.2" text-anchor="middle"  >4</text>
<line x1="1531.63" y1="629" x2="1531.63" y2="636.7" stroke="#000" stroke-width="1.7"/>
<text x="1531.63" y="668.5" font-family='"DejaVu Sans","Liberation Sans",sans-serif' font-size="31.2" text-anchor="middle"  >5</text>
<line x1="1606.47" y1="629" x2="1606.47" y2="636.7" stroke="#000" stroke-width="1.7"/>
<text x="1606.47" y="668.5" font-family='"DejaVu Sans","Liberation Sans",sans-serif' font-size="31.2" text-anchor="middle"  >6</text>
<line x1="1681.32" y1="629" x2="1681.32" y2="636.7" stroke="#000" stroke-width="1.7"/>
<text x="1681.32" y="668.5" font-family='"DejaVu Sans","Liberation Sans",sans-serif' font-size="31.2" text-anchor="middle"  >7</text>
<line x1="1756.16" y1="629" x2="1756.16" y2="636.7" stroke="#000" stroke-width="1.7"/>
<text x="1756.16" y="668.5" font-family='"DejaVu Sans","Liberation Sans",sans-serif' font-size="31.2" text-anchor="middle"  >8</text>
<line x1="1831.01" y1="629" x2="1831.01" y2="636.7" stroke="#000" stroke-width="1.7"/>
<text x="1831.01" y="668.5" font-family='"DejaVu Sans","Liberation Sans",sans-serif' font-size="31.2" text-anchor="middle"  >9</text>
<line x1="1905.85" y1="629" x2="1905.85" y2="636.7" stroke="#000" stroke-width="1.7"/>
<text x="1905.85" y="668.5" font-family='"DejaVu Sans","Liberation Sans",sans-serif' font-size="31.2" text-anchor="middle"  >10</text>
<line x1="1980.7" y1="629" x2="1980.7" y2="636.7" stroke="#000" stroke-width="1.7"/>
<text x="1980.7" y="668.5" font-family='"DejaVu Sans","Liberation Sans",sans-serif' font-size="31.2" text-anchor="middle"  >11</text>
<line x1="1149.7" y1="298.2" x2="1157.4" y2="298.2" stroke="#000" stroke-width="1.7"/>
<text x="1142.1" y="310" font-family='"DejaVu Sans","Liberation Sans",sans-serif' font-size="31.2" text-anchor="end"  >2.00</text>
<line x1="1149.7" y1="227.07" x2="1157.4" y2="227.07" stroke="#000" stroke-width="1.7"/>
<text x="1142.1" y="238.88" font-family='"DejaVu Sans","Liberation Sans",sans-serif' font-size="31.2" text-anchor="end"  >2.25</text>
<line x1="1149.7" y1="155.95" x2="1157.4" y2="155.95" stroke="#000" stroke-width="1.7"/>
<text x="1142.1" y="167.75" font-family='"DejaVu Sans","Liberation Sans",sans-serif' font-size="31.2" text-anchor="end"  >2.50</text>
<line x1="1149.7" y1="84.82" x2="1157.4" y2="84.82" stroke="#000" stroke-width="1.7"/>
<text x="1142.1" y="96.62" font-family='"DejaVu Sans","Liberation Sans",sans-serif' font-size="31.2" text-anchor="end"  >2.75</text>
<line x1="1149.7" y1="13.7" x2="1157.4" y2="13.7" stroke="#000" stroke-width="1.7"/>
<text x="1142.1" y="25.5" font-family='"DejaVu Sans","Liberation Sans",sans-serif' font-size="31.2" text-anchor="end"  >3.00</text>
<line x1="1149.7" y1="601.4" x2="1157.4" y2="601.4" stroke="#000" stroke-width="1.7"/>
<text x="1142.1" y="613.2" font-family='"DejaVu Sans","Liberation Sans",sans-serif' font-size="31.2" text-anchor="end"  >−0.2</text>
<line x1="1149.7" y1="489.89" x2="1157.4" y2="489.89" stroke="#000" stroke-width="1.7"/>
<text x="1142.1" y="501.69" font-family='"DejaVu Sans","Liberation Sans",sans-serif' font-size="31.2" text-anchor="end"  >0.0</text>
<line x1="1149.7" y1="378.38" x2="1157.4" y2="378.38" stroke="#000" stroke-width="1.7"/>
<text x="1142.1" y="390.18" font-family='"DejaVu Sans","Liberation Sans",sans-serif' font-size="31.2" text-anchor="end"  >0.2</text>
<line x1="1143.8" y1="303.2" x2="1171" y2="293.2" stroke="#000" stroke-width="2.8"/>
<line x1="1143.8" y1="349.2" x2="1171" y2="339.2" stroke="#000" stroke-width="2.8"/>
<line x1="1967.1" y1="303.2" x2="1994.3" y2="293.2" stroke="#000" stroke-width="2.8"/>
<line x1="1967.1" y1="349.2" x2="1994.3" y2="339.2" stroke="#000" stroke-width="2.8"/>
<text transform="translate(1569.05,712.00)" font-family='"DejaVu Sans","Liberation Sans",sans-serif' font-size="35.60"><tspan x="-11.75" y="-0.30" font-style="italic">α</tspan></text>
<text transform="translate(1058.60,489.10) rotate(-90)" font-family='"DejaVu Sans","Liberation Sans",sans-serif' font-size="35.60"><tspan x="-46.10" y="-0.01" font-style="italic">F</tspan><tspan x="-25.63" y="-0.01">,</tspan><tspan x="-7.37" y="-0.01" font-style="italic">g</tspan><tspan x="15.22" y="-0.01">,</tspan><tspan x="33.48" y="-0.01" font-style="italic">f</tspan></text>
<rect x="1591.2" y="17.3" width="365.6" height="332.7" rx="6.5" ry="6.5" fill="#fff" fill-opacity="0.8" stroke="#ccc" stroke-width="1.85"/>
<path d="M1604.5,43.7 L1671.3,43.7" fill="none" stroke="#008000" stroke-width="5.5" stroke-linejoin="round" stroke-linecap="square"/>
<circle cx="1637.9" cy="43.7" r="6.9" fill="#008000" stroke="#008000" stroke-width="1.85" stroke-linejoin="miter"/>
<path d="M1604.5,97.3 L1671.3,97.3" fill="none" stroke="#000000" stroke-width="5.5" stroke-linejoin="round" stroke-linecap="butt" stroke-dasharray="20.35,8.8"/>
<polygon points="1637.9,87.54 1647.66,97.3 1637.9,107.06 1628.14,97.3" fill="#000000" stroke="#000000" stroke-width="1.85" stroke-linejoin="miter"/>
<path d="M1604.5,153.7 L1671.3,153.7" fill="none" stroke="#cd853f" stroke-width="5.5" stroke-linejoin="round" stroke-opacity="0.9" stroke-linecap="butt" stroke-dasharray="35.2,8.8,5.5,8.8"/>
<polygon points="1637.9,146.8 1639.45,151.57 1644.46,151.57 1640.41,154.51 1641.96,159.28 1637.9,156.34 1633.84,159.28 1635.39,154.51 1631.34,151.57 1636.35,151.57" fill="#cd853f" stroke="#cd853f" stroke-width="1.85" stroke-linejoin="bevel" fill-opacity="0.9" stroke-opacity="0.9"/>
<path d="M1604.5,210.1 L1671.3,210.1" fill="none" stroke="#a52a2a" stroke-width="5.5" stroke-linejoin="round" stroke-opacity="0.8" stroke-linecap="butt" stroke-dasharray="5.5,9.07"/>
<polygon points="1637.9,200.34 1643.75,210.1 1637.9,219.86 1632.05,210.1" fill="#a52a2a" stroke="#a52a2a" stroke-width="1.85" stroke-linejoin="miter" fill-opacity="0.8" stroke-opacity="0.8"/>
<path d="M1604.5,266.5 L1671.3,266.5" fill="none" stroke="#ff0000" stroke-width="5.5" stroke-linejoin="round" stroke-opacity="0.8" stroke-linecap="square"/>
<polygon points="1635.6,259.6 1640.2,259.6 1640.2,264.2 1644.8,264.2 1644.8,268.8 1640.2,268.8 1640.2,273.4 1635.6,273.4 1635.6,268.8 1631,268.8 1631,264.2 1635.6,264.2" fill="#ff0000" stroke="#ff0000" stroke-width="1.85" stroke-linejoin="miter" fill-opacity="0.8" stroke-opacity="0.8"/>
<path d="M1604.5,317.8 L1671.3,317.8" fill="none" stroke="#0000ff" stroke-width="5.5" stroke-linejoin="round" stroke-opacity="0.75" stroke-linecap="butt" stroke-dasharray="20.35,8.8"/>
<polygon points="1637.9,310.9 1644.8,324.7 1631,324.7" fill="#0000ff" stroke="#0000ff" stroke-width="1.85" stroke-linejoin="miter" fill-opacity="0.75" stroke-opacity="0.75"/>
<text transform="translate(1697.50,55.50)" font-family='"DejaVu Sans","Liberation Sans",sans-serif' font-size="33.00"><tspan x="0.00" y="-0.03" font-style="italic">F</tspan><tspan x="18.98" y="5.38" font-size="23.10" font-style="italic">α</tspan></text>
<text transform="translate(1697.50,108.90)" font-family='"DejaVu Sans","Liberation Sans",sans-serif' font-size="33.00"><tspan x="0.00" y="-0.23" font-style="italic">f</tspan><tspan x="14.08" y="-12.86" font-size="23.10" font-style="italic">R</tspan><tspan x="30.13" y="-12.86" font-size="23.10" font-style="italic">L</tspan><tspan x="11.62" y="8.80" font-size="23.10" font-style="italic">α</tspan><tspan x="43.90" y="-0.23">(</tspan><tspan x="56.77" y="-0.23">Λ</tspan><tspan x="85.78" y="-0.23">=</tspan><tspan x="119.86" y="-0.23">0</tspan><tspan x="140.85" y="-0.23">)</tspan></text>
<text transform="translate(1697.50,165.30)" font-family='"DejaVu Sans","Liberation Sans",sans-serif' font-size="33.00"><tspan x="0.00" y="-0.23" font-style="italic">f</tspan><tspan x="14.08" y="-12.86" font-size="23.10" font-style="italic">R</tspan><tspan x="30.13" y="-12.86" font-size="23.10" font-style="italic">L</tspan><tspan x="11.62" y="8.80" font-size="23.10" font-style="italic">α</tspan><tspan x="43.90" y="-0.23">(</tspan><tspan x="56.77" y="-0.23">Λ</tspan><tspan x="85.78" y="-0.23">=</tspan><tspan x="119.86" y="-0.23">0</tspan><tspan x="140.85" y="-0.23">.</tspan><tspan x="151.34" y="-0.23">0</tspan><tspan x="172.34" y="-0.23">0</tspan><tspan x="193.33" y="-0.23">0</tspan><tspan x="214.33" y="-0.23">1</tspan><tspan x="235.32" y="-0.23">)</tspan></text>
<text transform="translate(1697.50,221.70)" font-family='"DejaVu Sans","Liberation Sans",sans-serif' font-size="33.00"><tspan x="0.00" y="-0.23" font-style="italic">f</tspan><tspan x="14.08" y="-12.86" font-size="23.10" font-style="italic">R</tspan><tspan x="30.13" y="-12.86" font-size="23.10" font-style="italic">L</tspan><tspan x="11.62" y="8.80" font-size="23.10" font-style="italic">α</tspan><tspan x="43.90" y="-0.23">(</tspan><tspan x="56.77" y="-0.23">Λ</tspan><tspan x="85.78" y="-0.23">=</tspan><tspan x="119.86" y="-0.23">0</tspan><tspan x="140.85" y="-0.23">.</tspan><tspan x="151.34" y="-0.23">0</tspan><tspan x="172.34" y="-0.23">0</tspan><tspan x="193.33" y="-0.23">1</tspan><tspan x="214.33" y="-0.23">)</tspan></text>
<text transform="translate(1697.50,278.10)" font-family='"DejaVu Sans","Liberation Sans",sans-serif' font-size="33.00"><tspan x="0.00" y="-0.23" font-style="italic">f</tspan><tspan x="14.08" y="-12.86" font-size="23.10" font-style="italic">R</tspan><tspan x="30.13" y="-12.86" font-size="23.10" font-style="italic">L</tspan><tspan x="11.62" y="8.80" font-size="23.10" font-style="italic">α</tspan><tspan x="43.90" y="-0.23">(</tspan><tspan x="56.77" y="-0.23">Λ</tspan><tspan x="85.78" y="-0.23">=</tspan><tspan x="119.86" y="-0.23">0</tspan><tspan x="140.85" y="-0.23">.</tspan><tspan x="151.34" y="-0.23">0</tspan><tspan x="172.34" y="-0.23">1</tspan><tspan x="193.33" y="-0.23">)</tspan></text>
<text transform="translate(1697.50,328.80)" font-family='"DejaVu Sans","Liberation Sans",sans-serif' font-size="33.00"><tspan x="0.00" y="-0.00" font-style="italic">g</tspan><tspan x="20.95" y="5.41" font-size="23.10" font-style="italic">α</tspan></text>
<text x="1489.2" y="797.5" font-size="46.5" font-family='"Liberation Serif","DejaVu Serif",serif' stroke="#fff" stroke-width="0.4">(</text><text transform="translate(1504.26,797.8) scale(1.12,1)" font-size="41.5" font-family='"Liberation Serif","DejaVu Serif",serif' stroke="#fff" stroke-width="0.4">b</text><text x="1527.31" y="797.5" font-size="46.5" font-family='"Liberation Serif","DejaVu Serif",serif' stroke="#fff" stroke-width="0.4">)</text>
<clipPath id="c6"><rect x="1157.4" y="844.7" width="823.3" height="280.8"/></clipPath>
<g clip-path="url(#c6)">
<path d="M1157.4,856.24 L1232.25,1779.73 L1307.09,1633.62 L1381.94,1714.77 L1456.78,1694.55 L1531.63,1679.97 L1606.47,1714.86 L1681.32,1693.91 L1756.16,1690.66 L1831.01,1715.76 L1905.85,1687.1 L1980.7,1707.37" fill="none" stroke="#008000" stroke-width="5.5" stroke-linejoin="round" stroke-linecap="square"/>
<circle cx="1157.4" cy="856.24" r="6.9" fill="#008000" stroke="#008000" stroke-width="1.85" stroke-linejoin="miter"/>
<path d="M1157.4,856.24 L1232.25,1779.73 L1307.09,1633.62 L1381.94,1714.77 L1456.78,1694.55 L1531.63,1679.97 L1606.47,1714.86 L1681.32,1693.91 L1756.16,1690.66 L1831.01,1687.94 L1905.85,1687.1 L1980.7,1687.1" fill="none" stroke="#000000" stroke-width="5.5" stroke-linejoin="round" stroke-linecap="butt" stroke-dasharray="20.35,8.8"/>
<polygon points="1157.4,846.48 1167.16,856.24 1157.4,866 1147.64,856.24" fill="#000000" stroke="#000000" stroke-width="1.85" stroke-linejoin="miter"/>
<path d="M1157.4,856.24 L1232.25,1779.73 L1307.09,1633.62 L1381.94,1714.77 L1456.78,1694.55 L1531.63,1679.97 L1606.47,1714.86 L1681.32,1693.91 L1756.16,1690.66 L1831.01,1715.76 L1905.85,1687.1 L1980.7,1707.37" fill="none" stroke="#cd853f" stroke-width="5.5" stroke-linejoin="round" stroke-opacity="0.9" stroke-linecap="butt" stroke-dasharray="35.2,8.8,5.5,8.8"/>
<polygon points="1157.4,849.34 1158.95,854.11 1163.96,854.11 1159.91,857.06 1161.46,861.82 1157.4,858.88 1153.34,861.82 1154.89,857.06 1150.84,854.11 1155.85,854.11" fill="#cd853f" stroke="#cd853f" stroke-width="1.85" stroke-linejoin="bevel" fill-opacity="0.9" stroke-opacity="0.9"/>
<path d="M1157.4,856.24 L1232.25,1779.73 L1307.09,1633.62 L1381.94,1714.77 L1456.78,1694.55 L1531.63,1679.97 L1606.47,1714.86 L1681.32,1693.91 L1756.16,1690.66 L1831.01,1714.62 L1905.85,1687.1 L1980.7,1706.48" fill="none" stroke="#a52a2a" stroke-width="5.5" stroke-linejoin="round" stroke-opacity="0.8" stroke-linecap="butt" stroke-dasharray="5.5,9.07"/>
<polygon points="1157.4,846.48 1163.25,856.24 1157.4,866 1151.55,856.24" fill="#a52a2a" stroke="#a52a2a" stroke-width="1.85" stroke-linejoin="miter" fill-opacity="0.8" stroke-opacity="0.8"/>
<path d="M1157.4,856.24 L1232.25,1778.36 L1307.09,1634.59 L1381.94,1705.63 L1456.78,1688.22 L1531.63,1683.45 L1606.47,1703.95 L1681.32,1693.28 L1756.16,1689.63 L1831.01,1711.81 L1905.85,1685.7 L1980.7,1698.61" fill="none" stroke="#ff0000" stroke-width="5.5" stroke-linejoin="round" stroke-opacity="0.8" stroke-linecap="square"/>
<polygon points="1155.1,849.34 1159.7,849.34 1159.7,853.94 1164.3,853.94 1164.3,858.54 1159.7,858.54 1159.7,863.14 1155.1,863.14 1155.1,858.54 1150.5,858.54 1150.5,853.94 1155.1,853.94" fill="#ff0000" stroke="#ff0000" stroke-width="1.85" stroke-linejoin="miter" fill-opacity="0.8" stroke-opacity="0.8"/>
<path d="M1157.4,856.24 L1232.25,1761.94 L1307.09,1643.89 L1381.94,1697.48 L1456.78,1689.89 L1531.63,1687.99 L1606.47,1683.63 L1681.32,1686.71 L1756.16,1686.89 L1831.01,1687.1 L1905.85,1687.1 L1980.7,1687.1" fill="none" stroke="#0000ff" stroke-width="5.5" stroke-linejoin="round" stroke-opacity="0.75" stroke-linecap="butt" stroke-dasharray="20.35,8.8"/>
<polygon points="1157.4,849.34 1164.3,863.14 1150.5,863.14" fill="#0000ff" stroke="#0000ff" stroke-width="1.85" stroke-linejoin="miter" fill-opacity="0.75" stroke-opacity="0.75"/>
</g>
<clipPath id="c7"><rect x="1157.4" y="1179.2" width="823.3" height="280.9"/></clipPath>
<g clip-path="url(#c7)">
<path d="M1207.03,818.4 L1232.25,1509.96 L1307.09,1185.16 L1381.94,1365.56 L1456.78,1320.61 L1531.63,1288.19 L1606.47,1365.75 L1681.32,1319.18 L1756.16,1311.95 L1831.01,1367.75 L1905.85,1304.04 L1980.7,1349.11" fill="none" stroke="#008000" stroke-width="5.5" stroke-linejoin="round" stroke-linecap="square"/>
<circle cx="1307.09" cy="1185.16" r="6.9" fill="#008000" stroke="#008000" stroke-width="1.85" stroke-linejoin="miter"/>
<circle cx="1381.94" cy="1365.56" r="6.9" fill="#008000" stroke="#008000" stroke-width="1.85" stroke-linejoin="miter"/>
<circle cx="1456.78" cy="1320.61" r="6.9" fill="#008000" stroke="#008000" stroke-width="1.85" stroke-linejoin="miter"/>
<circle cx="1531.63" cy="1288.19" r="6.9" fill="#008000" stroke="#008000" stroke-width="1.85" stroke-linejoin="miter"/>
<circle cx="1606.47" cy="1365.75" r="6.9" fill="#008000" stroke="#008000" stroke-width="1.85" stroke-linejoin="miter"/>
<circle cx="1681.32" cy="1319.18" r="6.9" fill="#008000" stroke="#008000" stroke-width="1.85" stroke-linejoin="miter"/>
<circle cx="1756.16" cy="1311.95" r="6.9" fill="#008000" stroke="#008000" stroke-width="1.85" stroke-linejoin="miter"/>
<circle cx="1831.01" cy="1367.75" r="6.9" fill="#008000" stroke="#008000" stroke-width="1.85" stroke-linejoin="miter"/>
<circle cx="1905.85" cy="1304.04" r="6.9" fill="#008000" stroke="#008000" stroke-width="1.85" stroke-linejoin="miter"/>
<circle cx="1980.7" cy="1349.11" r="6.9" fill="#008000" stroke="#008000" stroke-width="1.85" stroke-linejoin="miter"/>
<path d="M1207.03,818.4 L1232.25,1509.96 L1307.09,1185.16 L1381.94,1365.56 L1456.78,1320.61 L1531.63,1288.19 L1606.47,1365.75 L1681.32,1319.18 L1756.16,1311.95 L1831.01,1305.92 L1905.85,1304.04 L1980.7,1304.04" fill="none" stroke="#000000" stroke-width="5.5" stroke-linejoin="round" stroke-linecap="butt" stroke-dasharray="20.35,8.8"/>
<polygon points="1307.09,1175.4 1316.85,1185.16 1307.09,1194.92 1297.33,1185.16" fill="#000000" stroke="#000000" stroke-width="1.85" stroke-linejoin="miter"/>
<polygon points="1381.94,1355.8 1391.69,1365.56 1381.94,1375.32 1372.18,1365.56" fill="#000000" stroke="#000000" stroke-width="1.85" stroke-linejoin="miter"/>
<polygon points="1456.78,1310.85 1466.54,1320.61 1456.78,1330.36 1447.02,1320.61" fill="#000000" stroke="#000000" stroke-width="1.85" stroke-linejoin="miter"/>
<polygon points="1531.63,1278.43 1541.39,1288.19 1531.63,1297.95 1521.87,1288.19" fill="#000000" stroke="#000000" stroke-width="1.85" stroke-linejoin="miter"/>
<polygon points="1606.47,1355.99 1616.23,1365.75 1606.47,1375.51 1596.71,1365.75" fill="#000000" stroke="#000000" stroke-width="1.85" stroke-linejoin="miter"/>
<polygon points="1681.32,1309.42 1691.08,1319.18 1681.32,1328.93 1671.56,1319.18" fill="#000000" stroke="#000000" stroke-width="1.85" stroke-linejoin="miter"/>
<polygon points="1756.16,1302.2 1765.92,1311.95 1756.16,1321.71 1746.41,1311.95" fill="#000000" stroke="#000000" stroke-width="1.85" stroke-linejoin="miter"/>
<polygon points="1831.01,1296.16 1840.77,1305.92 1831.01,1315.68 1821.25,1305.92" fill="#000000" stroke="#000000" stroke-width="1.85" stroke-linejoin="miter"/>
<polygon points="1905.85,1294.29 1915.61,1304.04 1905.85,1313.8 1896.1,1304.04" fill="#000000" stroke="#000000" stroke-width="1.85" stroke-linejoin="miter"/>
<polygon points="1980.7,1294.29 1990.46,1304.04 1980.7,1313.8 1970.94,1304.04" fill="#000000" stroke="#000000" stroke-width="1.85" stroke-linejoin="miter"/>
<path d="M1207.03,818.4 L1232.25,1509.96 L1307.09,1185.16 L1381.94,1365.56 L1456.78,1320.61 L1531.63,1288.19 L1606.47,1365.75 L1681.32,1319.18 L1756.16,1311.95 L1831.01,1367.75 L1905.85,1304.04 L1980.7,1349.11" fill="none" stroke="#cd853f" stroke-width="5.5" stroke-linejoin="round" stroke-opacity="0.9" stroke-linecap="butt" stroke-dasharray="35.2,8.8,5.5,8.8"/>
<polygon points="1307.09,1178.26 1308.64,1183.03 1313.65,1183.03 1309.6,1185.98 1311.15,1190.74 1307.09,1187.8 1303.04,1190.74 1304.58,1185.98 1300.53,1183.03 1305.54,1183.03" fill="#cd853f" stroke="#cd853f" stroke-width="1.85" stroke-linejoin="bevel" fill-opacity="0.9" stroke-opacity="0.9"/>
<polygon points="1381.94,1358.66 1383.49,1363.43 1388.5,1363.43 1384.44,1366.38 1385.99,1371.14 1381.94,1368.2 1377.88,1371.14 1379.43,1366.38 1375.37,1363.43 1380.39,1363.43" fill="#cd853f" stroke="#cd853f" stroke-width="1.85" stroke-linejoin="bevel" fill-opacity="0.9" stroke-opacity="0.9"/>
<polygon points="1456.78,1313.71 1458.33,1318.47 1463.34,1318.47 1459.29,1321.42 1460.84,1326.19 1456.78,1323.24 1452.73,1326.19 1454.28,1321.42 1450.22,1318.47 1455.23,1318.47" fill="#cd853f" stroke="#cd853f" stroke-width="1.85" stroke-linejoin="bevel" fill-opacity="0.9" stroke-opacity="0.9"/>
<polygon points="1531.63,1281.29 1533.18,1286.06 1538.19,1286.06 1534.13,1289 1535.68,1293.77 1531.63,1290.82 1527.57,1293.77 1529.12,1289 1525.06,1286.06 1530.08,1286.06" fill="#cd853f" stroke="#cd853f" stroke-width="1.85" stroke-linejoin="bevel" fill-opacity="0.9" stroke-opacity="0.9"/>
<polygon points="1606.47,1358.85 1608.02,1363.62 1613.04,1363.62 1608.98,1366.56 1610.53,1371.33 1606.47,1368.38 1602.42,1371.33 1603.97,1366.56 1599.91,1363.62 1604.92,1363.62" fill="#cd853f" stroke="#cd853f" stroke-width="1.85" stroke-linejoin="bevel" fill-opacity="0.9" stroke-opacity="0.9"/>
<polygon points="1681.32,1312.28 1682.87,1317.04 1687.88,1317.04 1683.82,1319.99 1685.37,1324.76 1681.32,1321.81 1677.26,1324.76 1678.81,1319.99 1674.76,1317.04 1679.77,1317.04" fill="#cd853f" stroke="#cd853f" stroke-width="1.85" stroke-linejoin="bevel" fill-opacity="0.9" stroke-opacity="0.9"/>
<polygon points="1756.16,1305.05 1757.71,1309.82 1762.73,1309.82 1758.67,1312.77 1760.22,1317.54 1756.16,1314.59 1752.11,1317.54 1753.66,1312.77 1749.6,1309.82 1754.61,1309.82" fill="#cd853f" stroke="#cd853f" stroke-width="1.85" stroke-linejoin="bevel" fill-opacity="0.9" stroke-opacity="0.9"/>
<polygon points="1831.01,1360.85 1832.56,1365.62 1837.57,1365.62 1833.52,1368.57 1835.06,1373.33 1831.01,1370.39 1826.95,1373.33 1828.5,1368.57 1824.45,1365.62 1829.46,1365.62" fill="#cd853f" stroke="#cd853f" stroke-width="1.85" stroke-linejoin="bevel" fill-opacity="0.9" stroke-opacity="0.9"/>
<polygon points="1905.85,1297.14 1907.4,1301.91 1912.42,1301.91 1908.36,1304.86 1909.91,1309.63 1905.85,1306.68 1901.8,1309.63 1903.35,1304.86 1899.29,1301.91 1904.31,1301.91" fill="#cd853f" stroke="#cd853f" stroke-width="1.85" stroke-linejoin="bevel" fill-opacity="0.9" stroke-opacity="0.9"/>
<polygon points="1980.7,1342.21 1982.25,1346.98 1987.26,1346.98 1983.21,1349.93 1984.76,1354.7 1980.7,1351.75 1976.64,1354.7 1978.19,1349.93 1974.14,1346.98 1979.15,1346.98" fill="#cd853f" stroke="#cd853f" stroke-width="1.85" stroke-linejoin="bevel" fill-opacity="0.9" stroke-opacity="0.9"/>
<path d="M1207.03,818.4 L1232.25,1509.96 L1307.09,1185.16 L1381.94,1365.56 L1456.78,1320.61 L1531.63,1288.19 L1606.47,1365.75 L1681.32,1319.18 L1756.16,1311.95 L1831.01,1365.22 L1905.85,1304.04 L1980.7,1347.12" fill="none" stroke="#a52a2a" stroke-width="5.5" stroke-linejoin="round" stroke-opacity="0.8" stroke-linecap="butt" stroke-dasharray="5.5,9.07"/>
<polygon points="1307.09,1175.4 1312.95,1185.16 1307.09,1194.92 1301.24,1185.16" fill="#a52a2a" stroke="#a52a2a" stroke-width="1.85" stroke-linejoin="miter" fill-opacity="0.8" stroke-opacity="0.8"/>
<polygon points="1381.94,1355.8 1387.79,1365.56 1381.94,1375.32 1376.08,1365.56" fill="#a52a2a" stroke="#a52a2a" stroke-width="1.85" stroke-linejoin="miter" fill-opacity="0.8" stroke-opacity="0.8"/>
<polygon points="1456.78,1310.85 1462.64,1320.61 1456.78,1330.36 1450.93,1320.61" fill="#a52a2a" stroke="#a52a2a" stroke-width="1.85" stroke-linejoin="miter" fill-opacity="0.8" stroke-opacity="0.8"/>
<polygon points="1531.63,1278.43 1537.48,1288.19 1531.63,1297.95 1525.77,1288.19" fill="#a52a2a" stroke="#a52a2a" stroke-width="1.85" stroke-linejoin="miter" fill-opacity="0.8" stroke-opacity="0.8"/>
<polygon points="1606.47,1355.99 1612.33,1365.75 1606.47,1375.51 1600.62,1365.75" fill="#a52a2a" stroke="#a52a2a" stroke-width="1.85" stroke-linejoin="miter" fill-opacity="0.8" stroke-opacity="0.8"/>
<polygon points="1681.32,1309.42 1687.17,1319.18 1681.32,1328.93 1675.46,1319.18" fill="#a52a2a" stroke="#a52a2a" stroke-width="1.85" stroke-linejoin="miter" fill-opacity="0.8" stroke-opacity="0.8"/>
<polygon points="1756.16,1302.2 1762.02,1311.95 1756.16,1321.71 1750.31,1311.95" fill="#a52a2a" stroke="#a52a2a" stroke-width="1.85" stroke-linejoin="miter" fill-opacity="0.8" stroke-opacity="0.8"/>
<polygon points="1831.01,1355.46 1836.86,1365.22 1831.01,1374.98 1825.15,1365.22" fill="#a52a2a" stroke="#a52a2a" stroke-width="1.85" stroke-linejoin="miter" fill-opacity="0.8" stroke-opacity="0.8"/>
<polygon points="1905.85,1294.29 1911.71,1304.04 1905.85,1313.8 1900,1304.04" fill="#a52a2a" stroke="#a52a2a" stroke-width="1.85" stroke-linejoin="miter" fill-opacity="0.8" stroke-opacity="0.8"/>
<polygon points="1980.7,1337.36 1986.55,1347.12 1980.7,1356.87 1974.85,1347.12" fill="#a52a2a" stroke="#a52a2a" stroke-width="1.85" stroke-linejoin="miter" fill-opacity="0.8" stroke-opacity="0.8"/>
<path d="M1207.11,818.4 L1232.25,1506.92 L1307.09,1187.31 L1381.94,1345.24 L1456.78,1306.54 L1531.63,1295.93 L1606.47,1341.5 L1681.32,1317.78 L1756.16,1309.66 L1831.01,1358.98 L1905.85,1300.92 L1980.7,1329.64" fill="none" stroke="#ff0000" stroke-width="5.5" stroke-linejoin="round" stroke-opacity="0.8" stroke-linecap="square"/>
<polygon points="1304.79,1180.41 1309.39,1180.41 1309.39,1185.01 1313.99,1185.01 1313.99,1189.61 1309.39,1189.61 1309.39,1194.21 1304.79,1194.21 1304.79,1189.61 1300.19,1189.61 1300.19,1185.01 1304.79,1185.01" fill="#ff0000" stroke="#ff0000" stroke-width="1.85" stroke-linejoin="miter" fill-opacity="0.8" stroke-opacity="0.8"/>
<polygon points="1379.64,1338.34 1384.24,1338.34 1384.24,1342.94 1388.84,1342.94 1388.84,1347.54 1384.24,1347.54 1384.24,1352.14 1379.64,1352.14 1379.64,1347.54 1375.04,1347.54 1375.04,1342.94 1379.64,1342.94" fill="#ff0000" stroke="#ff0000" stroke-width="1.85" stroke-linejoin="miter" fill-opacity="0.8" stroke-opacity="0.8"/>
<polygon points="1454.48,1299.64 1459.08,1299.64 1459.08,1304.24 1463.68,1304.24 1463.68,1308.84 1459.08,1308.84 1459.08,1313.44 1454.48,1313.44 1454.48,1308.84 1449.88,1308.84 1449.88,1304.24 1454.48,1304.24" fill="#ff0000" stroke="#ff0000" stroke-width="1.85" stroke-linejoin="miter" fill-opacity="0.8" stroke-opacity="0.8"/>
<polygon points="1529.33,1289.03 1533.93,1289.03 1533.93,1293.63 1538.53,1293.63 1538.53,1298.23 1533.93,1298.23 1533.93,1302.83 1529.33,1302.83 1529.33,1298.23 1524.73,1298.23 1524.73,1293.63 1529.33,1293.63" fill="#ff0000" stroke="#ff0000" stroke-width="1.85" stroke-linejoin="miter" fill-opacity="0.8" stroke-opacity="0.8"/>
<polygon points="1604.17,1334.6 1608.77,1334.6 1608.77,1339.2 1613.37,1339.2 1613.37,1343.8 1608.77,1343.8 1608.77,1348.4 1604.17,1348.4 1604.17,1343.8 1599.57,1343.8 1599.57,1339.2 1604.17,1339.2" fill="#ff0000" stroke="#ff0000" stroke-width="1.85" stroke-linejoin="miter" fill-opacity="0.8" stroke-opacity="0.8"/>
<polygon points="1679.02,1310.88 1683.62,1310.88 1683.62,1315.48 1688.22,1315.48 1688.22,1320.08 1683.62,1320.08 1683.62,1324.68 1679.02,1324.68 1679.02,1320.08 1674.42,1320.08 1674.42,1315.48 1679.02,1315.48" fill="#ff0000" stroke="#ff0000" stroke-width="1.85" stroke-linejoin="miter" fill-opacity="0.8" stroke-opacity="0.8"/>
<polygon points="1753.86,1302.76 1758.46,1302.76 1758.46,1307.36 1763.06,1307.36 1763.06,1311.96 1758.46,1311.96 1758.46,1316.56 1753.86,1316.56 1753.86,1311.96 1749.26,1311.96 1749.26,1307.36 1753.86,1307.36" fill="#ff0000" stroke="#ff0000" stroke-width="1.85" stroke-linejoin="miter" fill-opacity="0.8" stroke-opacity="0.8"/>
<polygon points="1828.71,1352.08 1833.31,1352.08 1833.31,1356.68 1837.91,1356.68 1837.91,1361.28 1833.31,1361.28 1833.31,1365.88 1828.71,1365.88 1828.71,1361.28 1824.11,1361.28 1824.11,1356.68 1828.71,1356.68" fill="#ff0000" stroke="#ff0000" stroke-width="1.85" stroke-linejoin="miter" fill-opacity="0.8" stroke-opacity="0.8"/>
<polygon points="1903.55,1294.02 1908.15,1294.02 1908.15,1298.62 1912.75,1298.62 1912.75,1303.22 1908.15,1303.22 1908.15,1307.82 1903.55,1307.82 1903.55,1303.22 1898.95,1303.22 1898.95,1298.62 1903.55,1298.62" fill="#ff0000" stroke="#ff0000" stroke-width="1.85" stroke-linejoin="miter" fill-opacity="0.8" stroke-opacity="0.8"/>
<polygon points="1978.4,1322.74 1983,1322.74 1983,1327.34 1987.6,1327.34 1987.6,1331.94 1983,1331.94 1983,1336.54 1978.4,1336.54 1978.4,1331.94 1973.8,1331.94 1973.8,1327.34 1978.4,1327.34" fill="#ff0000" stroke="#ff0000" stroke-width="1.85" stroke-linejoin="miter" fill-opacity="0.8" stroke-opacity="0.8"/>
<path d="M1208.01,818.4 L1232.25,1470.42 L1307.09,1207.99 L1381.94,1327.11 L1456.78,1310.25 L1531.63,1306.03 L1606.47,1296.33 L1681.32,1303.17 L1756.16,1303.59 L1831.01,1304.04 L1905.85,1304.04 L1980.7,1304.04" fill="none" stroke="#0000ff" stroke-width="5.5" stroke-linejoin="round" stroke-opacity="0.75" stroke-linecap="butt" stroke-dasharray="20.35,8.8"/>
<polygon points="1232.25,1463.52 1239.15,1477.32 1225.35,1477.32" fill="#0000ff" stroke="#0000ff" stroke-width="1.85" stroke-linejoin="miter" fill-opacity="0.75" stroke-opacity="0.75"/>
<polygon points="1307.09,1201.09 1313.99,1214.89 1300.19,1214.89" fill="#0000ff" stroke="#0000ff" stroke-width="1.85" stroke-linejoin="miter" fill-opacity="0.75" stroke-opacity="0.75"/>
<polygon points="1381.94,1320.21 1388.84,1334.01 1375.04,1334.01" fill="#0000ff" stroke="#0000ff" stroke-width="1.85" stroke-linejoin="miter" fill-opacity="0.75" stroke-opacity="0.75"/>
<polygon points="1456.78,1303.35 1463.68,1317.15 1449.88,1317.15" fill="#0000ff" stroke="#0000ff" stroke-width="1.85" stroke-linejoin="miter" fill-opacity="0.75" stroke-opacity="0.75"/>
<polygon points="1531.63,1299.13 1538.53,1312.93 1524.73,1312.93" fill="#0000ff" stroke="#0000ff" stroke-width="1.85" stroke-linejoin="miter" fill-opacity="0.75" stroke-opacity="0.75"/>
<polygon points="1606.47,1289.43 1613.37,1303.23 1599.57,1303.23" fill="#0000ff" stroke="#0000ff" stroke-width="1.85" stroke-linejoin="miter" fill-opacity="0.75" stroke-opacity="0.75"/>
<polygon points="1681.32,1296.27 1688.22,1310.07 1674.42,1310.07" fill="#0000ff" stroke="#0000ff" stroke-width="1.85" stroke-linejoin="miter" fill-opacity="0.75" stroke-opacity="0.75"/>
<polygon points="1756.16,1296.69 1763.06,1310.49 1749.26,1310.49" fill="#0000ff" stroke="#0000ff" stroke-width="1.85" stroke-linejoin="miter" fill-opacity="0.75" stroke-opacity="0.75"/>
<polygon points="1831.01,1297.14 1837.91,1310.94 1824.11,1310.94" fill="#0000ff" stroke="#0000ff" stroke-width="1.85" stroke-linejoin="miter" fill-opacity="0.75" stroke-opacity="0.75"/>
<polygon points="1905.85,1297.14 1912.75,1310.94 1898.95,1310.94" fill="#0000ff" stroke="#0000ff" stroke-width="1.85" stroke-linejoin="miter" fill-opacity="0.75" stroke-opacity="0.75"/>
<polygon points="1980.7,1297.14 1987.6,1310.94 1973.8,1310.94" fill="#0000ff" stroke="#0000ff" stroke-width="1.85" stroke-linejoin="miter" fill-opacity="0.75" stroke-opacity="0.75"/>
</g>
<line x1="1157.4" y1="844.7" x2="1157.4" y2="1125.5" stroke="#000" stroke-width="1.7" stroke-linecap="square" fill="none"/>
<line x1="1980.7" y1="844.7" x2="1980.7" y2="1125.5" stroke="#000" stroke-width="1.7" stroke-linecap="square" fill="none"/>
<line x1="1157.4" y1="844.7" x2="1980.7" y2="844.7" stroke="#000" stroke-width="1.7" stroke-linecap="square" fill="none"/>
<line x1="1157.4" y1="1179.2" x2="1157.4" y2="1460.1" stroke="#000" stroke-width="1.7" stroke-linecap="square" fill="none"/>
<line x1="1980.7" y1="1179.2" x2="1980.7" y2="1460.1" stroke="#000" stroke-width="1.7" stroke-linecap="square" fill="none"/>
<line x1="1157.4" y1="1460.1" x2="1980.7" y2="1460.1" stroke="#000" stroke-width="1.7" stroke-linecap="square" fill="none"/>
<line x1="1157.4" y1="1460.1" x2="1157.4" y2="1467.8" stroke="#000" stroke-width="1.7"/>
<text x="1157.4" y="1499.6" font-family='"DejaVu Sans","Liberation Sans",sans-serif' font-size="31.2" text-anchor="middle"  >0</text>
<line x1="1232.25" y1="1460.1" x2="1232.25" y2="1467.8" stroke="#000" stroke-width="1.7"/>
<text x="1232.25" y="1499.6" font-family='"DejaVu Sans","Liberation Sans",sans-serif' font-size="31.2" text-anchor="middle"  >1</text>
<line x1="1307.09" y1="1460.1" x2="1307.09" y2="1467.8" stroke="#000" stroke-width="1.7"/>
<text x="1307.09" y="1499.6" font-family='"DejaVu Sans","Liberation Sans",sans-serif' font-size="31.2" text-anchor="middle"  >2</text>
<line x1="1381.94" y1="1460.1" x2="1381.94" y2="1467.8" stroke="#000" stroke-width="1.7"/>
<text x="1381.94" y="1499.6" font-family='"DejaVu Sans","Liberation Sans",sans-serif' font-size="31.2" text-anchor="middle"  >3</text>
<line x1="1456.78" y1="1460.1" x2="1456.78" y2="1467.8" stroke="#000" stroke-width="1.7"/>
<text x="1456.78" y="1499.6" font-family='"DejaVu Sans","Liberation Sans",sans-serif' font-size="31.2" text-anchor="middle"  >4</text>
<line x1="1531.63" y1="1460.1" x2="1531.63" y2="1467.8" stroke="#000" stroke-width="1.7"/>
<text x="1531.63" y="1499.6" font-family='"DejaVu Sans","Liberation Sans",sans-serif' font-size="31.2" text-anchor="middle"  >5</text>
<line x1="1606.47" y1="1460.1" x2="1606.47" y2="1467.8" stroke="#000" stroke-width="1.7"/>
<text x="1606.47" y="1499.6" font-family='"DejaVu Sans","Liberation Sans",sans-serif' font-size="31.2" text-anchor="middle"  >6</text>
<line x1="1681.32" y1="1460.1" x2="1681.32" y2="1467.8" stroke="#000" stroke-width="1.7"/>
<text x="1681.32" y="1499.6" font-family='"DejaVu Sans","Liberation Sans",sans-serif' font-size="31.2" text-anchor="middle"  >7</text>
<line x1="1756.16" y1="1460.1" x2="1756.16" y2="1467.8" stroke="#000" stroke-width="1.7"/>
<text x="1756.16" y="1499.6" font-family='"DejaVu Sans","Liberation Sans",sans-serif' font-size="31.2" text-anchor="middle"  >8</text>
<line x1="1831.01" y1="1460.1" x2="1831.01" y2="1467.8" stroke="#000" stroke-width="1.7"/>
<text x="1831.01" y="1499.6" font-family='"DejaVu Sans","Liberation Sans",sans-serif' font-size="31.2" text-anchor="middle"  >9</text>
<line x1="1905.85" y1="1460.1" x2="1905.85" y2="1467.8" stroke="#000" stroke-width="1.7"/>
<text x="1905.85" y="1499.6" font-family='"DejaVu Sans","Liberation Sans",sans-serif' font-size="31.2" text-anchor="middle"  >10</text>
<line x1="1980.7" y1="1460.1" x2="1980.7" y2="1467.8" stroke="#000" stroke-width="1.7"/>
<text x="1980.7" y="1499.6" font-family='"DejaVu Sans","Liberation Sans",sans-serif' font-size="31.2" text-anchor="middle"  >11</text>
<line x1="1149.7" y1="1125.5" x2="1157.4" y2="1125.5" stroke="#000" stroke-width="1.7"/>
<text x="1142.1" y="1137.3" font-family='"DejaVu Sans","Liberation Sans",sans-serif' font-size="31.2" text-anchor="end"  >2.00</text>
<line x1="1149.7" y1="1055.3" x2="1157.4" y2="1055.3" stroke="#000" stroke-width="1.7"/>
<text x="1142.1" y="1067.1" font-family='"DejaVu Sans","Liberation Sans",sans-serif' font-size="31.2" text-anchor="end"  >2.25</text>
<line x1="1149.7" y1="985.1" x2="1157.4" y2="985.1" stroke="#000" stroke-width="1.7"/>
<text x="1142.1" y="996.9" font-family='"DejaVu Sans","Liberation Sans",sans-serif' font-size="31.2" text-anchor="end"  >2.50</text>
<line x1="1149.7" y1="914.9" x2="1157.4" y2="914.9" stroke="#000" stroke-width="1.7"/>
<text x="1142.1" y="926.7" font-family='"DejaVu Sans","Liberation Sans",sans-serif' font-size="31.2" text-anchor="end"  >2.75</text>
<line x1="1149.7" y1="844.7" x2="1157.4" y2="844.7" stroke="#000" stroke-width="1.7"/>
<text x="1142.1" y="856.5" font-family='"DejaVu Sans","Liberation Sans",sans-serif' font-size="31.2" text-anchor="end"  >3.00</text>
<line x1="1149.7" y1="1428.89" x2="1157.4" y2="1428.89" stroke="#000" stroke-width="1.7"/>
<text x="1142.1" y="1440.69" font-family='"DejaVu Sans","Liberation Sans",sans-serif' font-size="31.2" text-anchor="end"  >−0.2</text>
<line x1="1149.7" y1="1304.04" x2="1157.4" y2="1304.04" stroke="#000" stroke-width="1.7"/>
<text x="1142.1" y="1315.84" font-family='"DejaVu Sans","Liberation Sans",sans-serif' font-size="31.2" text-anchor="end"  >0.0</text>
<line x1="1149.7" y1="1179.2" x2="1157.4" y2="1179.2" stroke="#000" stroke-width="1.7"/>
<text x="1142.1" y="1191" font-family='"DejaVu Sans","Liberation Sans",sans-serif' font-size="31.2" text-anchor="end"  >0.2</text>
<line x1="1143.8" y1="1130.5" x2="1171" y2="1120.5" stroke="#000" stroke-width="2.8"/>
<line x1="1143.8" y1="1184.2" x2="1171" y2="1174.2" stroke="#000" stroke-width="2.8"/>
<line x1="1967.1" y1="1130.5" x2="1994.3" y2="1120.5" stroke="#000" stroke-width="2.8"/>
<line x1="1967.1" y1="1184.2" x2="1994.3" y2="1174.2" stroke="#000" stroke-width="2.8"/>
<text transform="translate(1569.05,1543.00)" font-family='"DejaVu Sans","Liberation Sans",sans-serif' font-size="35.60"><tspan x="-11.75" y="-0.30" font-style="italic">α</tspan></text>
<text transform="translate(1058.60,1322.15) rotate(-90)" font-family='"DejaVu Sans","Liberation Sans",sans-serif' font-size="35.60"><tspan x="-46.10" y="-0.01" font-style="italic">F</tspan><tspan x="-25.63" y="-0.01">,</tspan><tspan x="-7.37" y="-0.01" font-style="italic">g</tspan><tspan x="15.22" y="-0.01">,</tspan><tspan x="33.48" y="-0.01" font-style="italic">f</tspan></text>
<rect x="1591.2" y="848.3" width="365.6" height="332.7" rx="6.5" ry="6.5" fill="#fff" fill-opacity="0.8" stroke="#ccc" stroke-width="1.85"/>
<path d="M1604.5,874.7 L1671.3,874.7" fill="none" stroke="#008000" stroke-width="5.5" stroke-linejoin="round" stroke-linecap="square"/>
<circle cx="1637.9" cy="874.7" r="6.9" fill="#008000" stroke="#008000" stroke-width="1.85" stroke-linejoin="miter"/>
<path d="M1604.5,928.3 L1671.3,928.3" fill="none" stroke="#000000" stroke-width="5.5" stroke-linejoin="round" stroke-linecap="butt" stroke-dasharray="20.35,8.8"/>
<polygon points="1637.9,918.54 1647.66,928.3 1637.9,938.06 1628.14,928.3" fill="#000000" stroke="#000000" stroke-width="1.85" stroke-linejoin="miter"/>
<path d="M1604.5,984.7 L1671.3,984.7" fill="none" stroke="#cd853f" stroke-width="5.5" stroke-linejoin="round" stroke-opacity="0.9" stroke-linecap="butt" stroke-dasharray="35.2,8.8,5.5,8.8"/>
<polygon points="1637.9,977.8 1639.45,982.57 1644.46,982.57 1640.41,985.51 1641.96,990.28 1637.9,987.34 1633.84,990.28 1635.39,985.51 1631.34,982.57 1636.35,982.57" fill="#cd853f" stroke="#cd853f" stroke-width="1.85" stroke-linejoin="bevel" fill-opacity="0.9" stroke-opacity="0.9"/>
<path d="M1604.5,1041.1 L1671.3,1041.1" fill="none" stroke="#a52a2a" stroke-width="5.5" stroke-linejoin="round" stroke-opacity="0.8" stroke-linecap="butt" stroke-dasharray="5.5,9.07"/>
<polygon points="1637.9,1031.34 1643.75,1041.1 1637.9,1050.86 1632.05,1041.1" fill="#a52a2a" stroke="#a52a2a" stroke-width="1.85" stroke-linejoin="miter" fill-opacity="0.8" stroke-opacity="0.8"/>
<path d="M1604.5,1097.5 L1671.3,1097.5" fill="none" stroke="#ff0000" stroke-width="5.5" stroke-linejoin="round" stroke-opacity="0.8" stroke-linecap="square"/>
<polygon points="1635.6,1090.6 1640.2,1090.6 1640.2,1095.2 1644.8,1095.2 1644.8,1099.8 1640.2,1099.8 1640.2,1104.4 1635.6,1104.4 1635.6,1099.8 1631,1099.8 1631,1095.2 1635.6,1095.2" fill="#ff0000" stroke="#ff0000" stroke-width="1.85" stroke-linejoin="miter" fill-opacity="0.8" stroke-opacity="0.8"/>
<path d="M1604.5,1148.8 L1671.3,1148.8" fill="none" stroke="#0000ff" stroke-width="5.5" stroke-linejoin="round" stroke-opacity="0.75" stroke-linecap="butt" stroke-dasharray="20.35,8.8"/>
<polygon points="1637.9,1141.9 1644.8,1155.7 1631,1155.7" fill="#0000ff" stroke="#0000ff" stroke-width="1.85" stroke-linejoin="miter" fill-opacity="0.75" stroke-opacity="0.75"/>
<text transform="translate(1697.50,886.50)" font-family='"DejaVu Sans","Liberation Sans",sans-serif' font-size="33.00"><tspan x="0.00" y="-0.03" font-style="italic">F</tspan><tspan x="18.98" y="5.38" font-size="23.10" font-style="italic">α</tspan></text>
<text transform="translate(1697.50,939.90)" font-family='"DejaVu Sans","Liberation Sans",sans-serif' font-size="33.00"><tspan x="0.00" y="-0.23" font-style="italic">f</tspan><tspan x="14.08" y="-12.86" font-size="23.10" font-style="italic">R</tspan><tspan x="30.13" y="-12.86" font-size="23.10" font-style="italic">L</tspan><tspan x="11.62" y="8.80" font-size="23.10" font-style="italic">α</tspan><tspan x="43.90" y="-0.23">(</tspan><tspan x="56.77" y="-0.23">Λ</tspan><tspan x="85.78" y="-0.23">=</tspan><tspan x="119.86" y="-0.23">0</tspan><tspan x="140.85" y="-0.23">)</tspan></text>
<text transform="translate(1697.50,996.30)" font-family='"DejaVu Sans","Liberation Sans",sans-serif' font-size="33.00"><tspan x="0.00" y="-0.23" font-style="italic">f</tspan><tspan x="14.08" y="-12.86" font-size="23.10" font-style="italic">R</tspan><tspan x="30.13" y="-12.86" font-size="23.10" font-style="italic">L</tspan><tspan x="11.62" y="8.80" font-size="23.10" font-style="italic">α</tspan><tspan x="43.90" y="-0.23">(</tspan><tspan x="56.77" y="-0.23">Λ</tspan><tspan x="85.78" y="-0.23">=</tspan><tspan x="119.86" y="-0.23">0</tspan><tspan x="140.85" y="-0.23">.</tspan><tspan x="151.34" y="-0.23">0</tspan><tspan x="172.34" y="-0.23">0</tspan><tspan x="193.33" y="-0.23">0</tspan><tspan x="214.33" y="-0.23">1</tspan><tspan x="235.32" y="-0.23">)</tspan></text>
<text transform="translate(1697.50,1052.70)" font-family='"DejaVu Sans","Liberation Sans",sans-serif' font-size="33.00"><tspan x="0.00" y="-0.23" font-style="italic">f</tspan><tspan x="14.08" y="-12.86" font-size="23.10" font-style="italic">R</tspan><tspan x="30.13" y="-12.86" font-size="23.10" font-style="italic">L</tspan><tspan x="11.62" y="8.80" font-size="23.10" font-style="italic">α</tspan><tspan x="43.90" y="-0.23">(</tspan><tspan x="56.77" y="-0.23">Λ</tspan><tspan x="85.78" y="-0.23">=</tspan><tspan x="119.86" y="-0.23">0</tspan><tspan x="140.85" y="-0.23">.</tspan><tspan x="151.34" y="-0.23">0</tspan><tspan x="172.34" y="-0.23">0</tspan><tspan x="193.33" y="-0.23">1</tspan><tspan x="214.33" y="-0.23">)</tspan></text>
<text transform="translate(1697.50,1109.10)" font-family='"DejaVu Sans","Liberation Sans",sans-serif' font-size="33.00"><tspan x="0.00" y="-0.23" font-style="italic">f</tspan><tspan x="14.08" y="-12.86" font-size="23.10" font-style="italic">R</tspan><tspan x="30.13" y="-12.86" font-size="23.10" font-style="italic">L</tspan><tspan x="11.62" y="8.80" font-size="23.10" font-style="italic">α</tspan><tspan x="43.90" y="-0.23">(</tspan><tspan x="56.77" y="-0.23">Λ</tspan><tspan x="85.78" y="-0.23">=</tspan><tspan x="119.86" y="-0.23">0</tspan><tspan x="140.85" y="-0.23">.</tspan><tspan x="151.34" y="-0.23">0</tspan><tspan x="172.34" y="-0.23">1</tspan><tspan x="193.33" y="-0.23">)</tspan></text>
<text transform="translate(1697.50,1159.80)" font-family='"DejaVu Sans","Liberation Sans",sans-serif' font-size="33.00"><tspan x="0.00" y="-0.00" font-style="italic">g</tspan><tspan x="20.95" y="5.41" font-size="23.10" font-style="italic">α</tspan></text>
<text x="1489.2" y="1628.5" font-size="46.5" font-family='"Liberation Serif","DejaVu Serif",serif' stroke="#fff" stroke-width="0.4">(</text><text transform="translate(1504.32,1628.8) scale(1.12,1)" font-size="41.5" font-family='"Liberation Serif","DejaVu Serif",serif' stroke="#fff" stroke-width="0.4">d</text><text x="1527.31" y="1628.5" font-size="46.5" font-family='"Liberation Serif","DejaVu Serif",serif' stroke="#fff" stroke-width="0.4">)</text>
<clipPath id="c8"><rect x="1193.5" y="1692.8" width="786.8" height="585.6"/></clipPath>
<g clip-path="url(#c8)">
<path d="M1193.5,1718.48 L1265.03,2251.81 L1336.55,2073.55 L1408.08,2172.56 L1479.61,2147.89 L1551.14,2130.1 L1622.66,2172.67 L1694.19,2147.1 L1765.72,2143.14 L1837.25,2173.77 L1908.77,2138.8 L1980.3,2163.54" fill="none" stroke="#008000" stroke-width="5.5" stroke-linejoin="round" stroke-linecap="square"/>
<circle cx="1193.5" cy="1718.48" r="7" fill="#008000" stroke="#008000" stroke-width="1.85" stroke-linejoin="miter"/>
<circle cx="1265.03" cy="2251.81" r="7" fill="#008000" stroke="#008000" stroke-width="1.85" stroke-linejoin="miter"/>
<circle cx="1336.55" cy="2073.55" r="7" fill="#008000" stroke="#008000" stroke-width="1.85" stroke-linejoin="miter"/>
<circle cx="1408.08" cy="2172.56" r="7" fill="#008000" stroke="#008000" stroke-width="1.85" stroke-linejoin="miter"/>
<circle cx="1479.61" cy="2147.89" r="7" fill="#008000" stroke="#008000" stroke-width="1.85" stroke-linejoin="miter"/>
<circle cx="1551.14" cy="2130.1" r="7" fill="#008000" stroke="#008000" stroke-width="1.85" stroke-linejoin="miter"/>
<circle cx="1622.66" cy="2172.67" r="7" fill="#008000" stroke="#008000" stroke-width="1.85" stroke-linejoin="miter"/>
<circle cx="1694.19" cy="2147.1" r="7" fill="#008000" stroke="#008000" stroke-width="1.85" stroke-linejoin="miter"/>
<circle cx="1765.72" cy="2143.14" r="7" fill="#008000" stroke="#008000" stroke-width="1.85" stroke-linejoin="miter"/>
<circle cx="1837.25" cy="2173.77" r="7" fill="#008000" stroke="#008000" stroke-width="1.85" stroke-linejoin="miter"/>
<circle cx="1908.77" cy="2138.8" r="7" fill="#008000" stroke="#008000" stroke-width="1.85" stroke-linejoin="miter"/>
<circle cx="1980.3" cy="2163.54" r="7" fill="#008000" stroke="#008000" stroke-width="1.85" stroke-linejoin="miter"/>
<path d="M1193.5,1718.48 L1265.03,2251.81 L1336.55,2073.55 L1408.08,2172.56 L1479.61,2147.89 L1551.14,2130.1 L1622.66,2172.67 L1694.19,2147.1 L1765.72,2143.08 L1837.25,2140.86 L1908.77,2138.8 L1980.3,2140.86" fill="none" stroke="#000000" stroke-width="5.5" stroke-linejoin="round" stroke-linecap="butt" stroke-dasharray="20.35,8.8"/>
<polygon points="1193.5,1708.58 1203.4,1718.48 1193.5,1728.38 1183.6,1718.48" fill="#000000" stroke="#000000" stroke-width="1.85" stroke-linejoin="miter"/>
<polygon points="1265.03,2241.91 1274.93,2251.81 1265.03,2261.71 1255.13,2251.81" fill="#000000" stroke="#000000" stroke-width="1.85" stroke-linejoin="miter"/>
<polygon points="1336.55,2063.65 1346.45,2073.55 1336.55,2083.45 1326.66,2073.55" fill="#000000" stroke="#000000" stroke-width="1.85" stroke-linejoin="miter"/>
<polygon points="1408.08,2162.66 1417.98,2172.56 1408.08,2182.46 1398.18,2172.56" fill="#000000" stroke="#000000" stroke-width="1.85" stroke-linejoin="miter"/>
<polygon points="1479.61,2137.99 1489.51,2147.89 1479.61,2157.79 1469.71,2147.89" fill="#000000" stroke="#000000" stroke-width="1.85" stroke-linejoin="miter"/>
<polygon points="1551.14,2120.2 1561.04,2130.1 1551.14,2140 1541.24,2130.1" fill="#000000" stroke="#000000" stroke-width="1.85" stroke-linejoin="miter"/>
<polygon points="1622.66,2162.77 1632.56,2172.67 1622.66,2182.57 1612.76,2172.67" fill="#000000" stroke="#000000" stroke-width="1.85" stroke-linejoin="miter"/>
<polygon points="1694.19,2137.21 1704.09,2147.1 1694.19,2157 1684.29,2147.1" fill="#000000" stroke="#000000" stroke-width="1.85" stroke-linejoin="miter"/>
<polygon points="1765.72,2133.18 1775.62,2143.08 1765.72,2152.98 1755.82,2143.08" fill="#000000" stroke="#000000" stroke-width="1.85" stroke-linejoin="miter"/>
<polygon points="1837.25,2130.96 1847.14,2140.86 1837.25,2150.76 1827.35,2140.86" fill="#000000" stroke="#000000" stroke-width="1.85" stroke-linejoin="miter"/>
<polygon points="1908.77,2128.9 1918.67,2138.8 1908.77,2148.7 1898.87,2138.8" fill="#000000" stroke="#000000" stroke-width="1.85" stroke-linejoin="miter"/>
<polygon points="1980.3,2130.96 1990.2,2140.86 1980.3,2150.76 1970.4,2140.86" fill="#000000" stroke="#000000" stroke-width="1.85" stroke-linejoin="miter"/>
<path d="M1193.5,1718.48 L1265.03,2251.81 L1336.55,2073.55 L1408.08,2172.56 L1479.61,2147.89 L1551.14,2130.1 L1622.66,2172.67 L1694.19,2147.1 L1765.72,2143.14 L1837.25,2173.77 L1908.77,2138.8 L1980.3,2163.54" fill="none" stroke="#cd853f" stroke-width="5.5" stroke-linejoin="round" stroke-opacity="0.9" stroke-linecap="butt" stroke-dasharray="35.2,8.8,5.5,8.8"/>
<polygon points="1193.5,1711.48 1195.07,1716.32 1200.16,1716.32 1196.04,1719.31 1197.61,1724.14 1193.5,1721.15 1189.39,1724.14 1190.96,1719.31 1186.84,1716.32 1191.93,1716.32" fill="#cd853f" stroke="#cd853f" stroke-width="1.85" stroke-linejoin="bevel" fill-opacity="0.9" stroke-opacity="0.9"/>
<polygon points="1265.03,2244.81 1266.6,2249.65 1271.68,2249.65 1267.57,2252.64 1269.14,2257.48 1265.03,2254.49 1260.91,2257.48 1262.48,2252.64 1258.37,2249.65 1263.46,2249.65" fill="#cd853f" stroke="#cd853f" stroke-width="1.85" stroke-linejoin="bevel" fill-opacity="0.9" stroke-opacity="0.9"/>
<polygon points="1336.55,2066.55 1338.13,2071.39 1343.21,2071.39 1339.1,2074.38 1340.67,2079.21 1336.55,2076.23 1332.44,2079.21 1334.01,2074.38 1329.9,2071.39 1334.98,2071.39" fill="#cd853f" stroke="#cd853f" stroke-width="1.85" stroke-linejoin="bevel" fill-opacity="0.9" stroke-opacity="0.9"/>
<polygon points="1408.08,2165.56 1409.65,2170.4 1414.74,2170.4 1410.62,2173.39 1412.2,2178.23 1408.08,2175.24 1403.97,2178.23 1405.54,2173.39 1401.42,2170.4 1406.51,2170.4" fill="#cd853f" stroke="#cd853f" stroke-width="1.85" stroke-linejoin="bevel" fill-opacity="0.9" stroke-opacity="0.9"/>
<polygon points="1479.61,2140.89 1481.18,2145.73 1486.27,2145.73 1482.15,2148.72 1483.72,2153.55 1479.61,2150.56 1475.49,2153.55 1477.07,2148.72 1472.95,2145.73 1478.04,2145.73" fill="#cd853f" stroke="#cd853f" stroke-width="1.85" stroke-linejoin="bevel" fill-opacity="0.9" stroke-opacity="0.9"/>
<polygon points="1551.14,2123.1 1552.71,2127.93 1557.79,2127.93 1553.68,2130.92 1555.25,2135.76 1551.14,2132.77 1547.02,2135.76 1548.59,2130.92 1544.48,2127.93 1549.56,2127.93" fill="#cd853f" stroke="#cd853f" stroke-width="1.85" stroke-linejoin="bevel" fill-opacity="0.9" stroke-opacity="0.9"/>
<polygon points="1622.66,2165.67 1624.24,2170.5 1629.32,2170.5 1625.21,2173.49 1626.78,2178.33 1622.66,2175.34 1618.55,2178.33 1620.12,2173.49 1616.01,2170.5 1621.09,2170.5" fill="#cd853f" stroke="#cd853f" stroke-width="1.85" stroke-linejoin="bevel" fill-opacity="0.9" stroke-opacity="0.9"/>
<polygon points="1694.19,2140.1 1695.76,2144.94 1700.85,2144.94 1696.73,2147.93 1698.31,2152.77 1694.19,2149.78 1690.08,2152.77 1691.65,2147.93 1687.53,2144.94 1692.62,2144.94" fill="#cd853f" stroke="#cd853f" stroke-width="1.85" stroke-linejoin="bevel" fill-opacity="0.9" stroke-opacity="0.9"/>
<polygon points="1765.72,2136.14 1767.29,2140.98 1772.38,2140.98 1768.26,2143.97 1769.83,2148.8 1765.72,2145.81 1761.6,2148.8 1763.18,2143.97 1759.06,2140.98 1764.15,2140.98" fill="#cd853f" stroke="#cd853f" stroke-width="1.85" stroke-linejoin="bevel" fill-opacity="0.9" stroke-opacity="0.9"/>
<polygon points="1837.25,2166.77 1838.82,2171.6 1843.9,2171.6 1839.79,2174.59 1841.36,2179.43 1837.25,2176.44 1833.13,2179.43 1834.7,2174.59 1830.59,2171.6 1835.67,2171.6" fill="#cd853f" stroke="#cd853f" stroke-width="1.85" stroke-linejoin="bevel" fill-opacity="0.9" stroke-opacity="0.9"/>
<polygon points="1908.77,2131.8 1910.34,2136.64 1915.43,2136.64 1911.32,2139.63 1912.89,2144.46 1908.77,2141.47 1904.66,2144.46 1906.23,2139.63 1902.12,2136.64 1907.2,2136.64" fill="#cd853f" stroke="#cd853f" stroke-width="1.85" stroke-linejoin="bevel" fill-opacity="0.9" stroke-opacity="0.9"/>
<polygon points="1980.3,2156.54 1981.87,2161.37 1986.96,2161.37 1982.84,2164.36 1984.41,2169.2 1980.3,2166.21 1976.19,2169.2 1977.76,2164.36 1973.64,2161.37 1978.73,2161.37" fill="#cd853f" stroke="#cd853f" stroke-width="1.85" stroke-linejoin="bevel" fill-opacity="0.9" stroke-opacity="0.9"/>
<path d="M1193.5,1718.48 L1265.03,2251.81 L1336.55,2073.55 L1408.08,2172.56 L1479.61,2147.89 L1551.14,2130.1 L1622.66,2172.67 L1694.19,2147.1 L1765.72,2143.14 L1837.25,2173.06 L1908.77,2138.8 L1980.3,2162.78" fill="none" stroke="#a52a2a" stroke-width="5.5" stroke-linejoin="round" stroke-opacity="0.8" stroke-linecap="butt" stroke-dasharray="5.5,9.07"/>
<polygon points="1193.5,1708.58 1199.44,1718.48 1193.5,1728.38 1187.56,1718.48" fill="#a52a2a" stroke="#a52a2a" stroke-width="1.85" stroke-linejoin="miter" fill-opacity="0.8" stroke-opacity="0.8"/>
<polygon points="1265.03,2241.91 1270.97,2251.81 1265.03,2261.71 1259.09,2251.81" fill="#a52a2a" stroke="#a52a2a" stroke-width="1.85" stroke-linejoin="miter" fill-opacity="0.8" stroke-opacity="0.8"/>
<polygon points="1336.55,2063.65 1342.49,2073.55 1336.55,2083.45 1330.61,2073.55" fill="#a52a2a" stroke="#a52a2a" stroke-width="1.85" stroke-linejoin="miter" fill-opacity="0.8" stroke-opacity="0.8"/>
<polygon points="1408.08,2162.66 1414.02,2172.56 1408.08,2182.46 1402.14,2172.56" fill="#a52a2a" stroke="#a52a2a" stroke-width="1.85" stroke-linejoin="miter" fill-opacity="0.8" stroke-opacity="0.8"/>
<polygon points="1479.61,2137.99 1485.55,2147.89 1479.61,2157.79 1473.67,2147.89" fill="#a52a2a" stroke="#a52a2a" stroke-width="1.85" stroke-linejoin="miter" fill-opacity="0.8" stroke-opacity="0.8"/>
<polygon points="1551.14,2120.2 1557.08,2130.1 1551.14,2140 1545.2,2130.1" fill="#a52a2a" stroke="#a52a2a" stroke-width="1.85" stroke-linejoin="miter" fill-opacity="0.8" stroke-opacity="0.8"/>
<polygon points="1622.66,2162.77 1628.6,2172.67 1622.66,2182.57 1616.72,2172.67" fill="#a52a2a" stroke="#a52a2a" stroke-width="1.85" stroke-linejoin="miter" fill-opacity="0.8" stroke-opacity="0.8"/>
<polygon points="1694.19,2137.21 1700.13,2147.1 1694.19,2157 1688.25,2147.1" fill="#a52a2a" stroke="#a52a2a" stroke-width="1.85" stroke-linejoin="miter" fill-opacity="0.8" stroke-opacity="0.8"/>
<polygon points="1765.72,2133.24 1771.66,2143.14 1765.72,2153.04 1759.78,2143.14" fill="#a52a2a" stroke="#a52a2a" stroke-width="1.85" stroke-linejoin="miter" fill-opacity="0.8" stroke-opacity="0.8"/>
<polygon points="1837.25,2163.16 1843.19,2173.06 1837.25,2182.96 1831.31,2173.06" fill="#a52a2a" stroke="#a52a2a" stroke-width="1.85" stroke-linejoin="miter" fill-opacity="0.8" stroke-opacity="0.8"/>
<polygon points="1908.77,2128.9 1914.71,2138.8 1908.77,2148.7 1902.83,2138.8" fill="#a52a2a" stroke="#a52a2a" stroke-width="1.85" stroke-linejoin="miter" fill-opacity="0.8" stroke-opacity="0.8"/>
<polygon points="1980.3,2152.88 1986.24,2162.78 1980.3,2172.68 1974.36,2162.78" fill="#a52a2a" stroke="#a52a2a" stroke-width="1.85" stroke-linejoin="miter" fill-opacity="0.8" stroke-opacity="0.8"/>
<path d="M1193.5,1718.48 L1265.03,2251 L1336.55,2074.56 L1408.08,2167.06 L1479.61,2145.65 L1551.14,2131.95 L1622.66,2167.06 L1694.19,2147.02 L1765.72,2142.23 L1837.25,2172.2 L1908.77,2137.94 L1980.3,2159.36" fill="none" stroke="#ff0000" stroke-width="5.5" stroke-linejoin="round" stroke-opacity="0.8" stroke-linecap="square"/>
<polygon points="1191.17,1711.48 1195.83,1711.48 1195.83,1716.15 1200.5,1716.15 1200.5,1720.81 1195.83,1720.81 1195.83,1725.48 1191.17,1725.48 1191.17,1720.81 1186.5,1720.81 1186.5,1716.15 1191.17,1716.15" fill="#ff0000" stroke="#ff0000" stroke-width="1.85" stroke-linejoin="miter" fill-opacity="0.8" stroke-opacity="0.8"/>
<polygon points="1262.69,2244 1267.36,2244 1267.36,2248.67 1272.03,2248.67 1272.03,2253.33 1267.36,2253.33 1267.36,2258 1262.69,2258 1262.69,2253.33 1258.03,2253.33 1258.03,2248.67 1262.69,2248.67" fill="#ff0000" stroke="#ff0000" stroke-width="1.85" stroke-linejoin="miter" fill-opacity="0.8" stroke-opacity="0.8"/>
<polygon points="1334.22,2067.56 1338.89,2067.56 1338.89,2072.23 1343.55,2072.23 1343.55,2076.9 1338.89,2076.9 1338.89,2081.56 1334.22,2081.56 1334.22,2076.9 1329.55,2076.9 1329.55,2072.23 1334.22,2072.23" fill="#ff0000" stroke="#ff0000" stroke-width="1.85" stroke-linejoin="miter" fill-opacity="0.8" stroke-opacity="0.8"/>
<polygon points="1405.75,2160.06 1410.42,2160.06 1410.42,2164.73 1415.08,2164.73 1415.08,2169.4 1410.42,2169.4 1410.42,2174.06 1405.75,2174.06 1405.75,2169.4 1401.08,2169.4 1401.08,2164.73 1405.75,2164.73" fill="#ff0000" stroke="#ff0000" stroke-width="1.85" stroke-linejoin="miter" fill-opacity="0.8" stroke-opacity="0.8"/>
<polygon points="1477.28,2138.65 1481.94,2138.65 1481.94,2143.32 1486.61,2143.32 1486.61,2147.99 1481.94,2147.99 1481.94,2152.65 1477.28,2152.65 1477.28,2147.99 1472.61,2147.99 1472.61,2143.32 1477.28,2143.32" fill="#ff0000" stroke="#ff0000" stroke-width="1.85" stroke-linejoin="miter" fill-opacity="0.8" stroke-opacity="0.8"/>
<polygon points="1548.8,2124.95 1553.47,2124.95 1553.47,2129.61 1558.14,2129.61 1558.14,2134.28 1553.47,2134.28 1553.47,2138.95 1548.8,2138.95 1548.8,2134.28 1544.14,2134.28 1544.14,2129.61 1548.8,2129.61" fill="#ff0000" stroke="#ff0000" stroke-width="1.85" stroke-linejoin="miter" fill-opacity="0.8" stroke-opacity="0.8"/>
<polygon points="1620.33,2160.06 1625,2160.06 1625,2164.73 1629.66,2164.73 1629.66,2169.4 1625,2169.4 1625,2174.06 1620.33,2174.06 1620.33,2169.4 1615.66,2169.4 1615.66,2164.73 1620.33,2164.73" fill="#ff0000" stroke="#ff0000" stroke-width="1.85" stroke-linejoin="miter" fill-opacity="0.8" stroke-opacity="0.8"/>
<polygon points="1691.86,2140.02 1696.52,2140.02 1696.52,2144.69 1701.19,2144.69 1701.19,2149.36 1696.52,2149.36 1696.52,2154.02 1691.86,2154.02 1691.86,2149.36 1687.19,2149.36 1687.19,2144.69 1691.86,2144.69" fill="#ff0000" stroke="#ff0000" stroke-width="1.85" stroke-linejoin="miter" fill-opacity="0.8" stroke-opacity="0.8"/>
<polygon points="1763.38,2135.23 1768.05,2135.23 1768.05,2139.89 1772.72,2139.89 1772.72,2144.56 1768.05,2144.56 1768.05,2149.23 1763.38,2149.23 1763.38,2144.56 1758.72,2144.56 1758.72,2139.89 1763.38,2139.89" fill="#ff0000" stroke="#ff0000" stroke-width="1.85" stroke-linejoin="miter" fill-opacity="0.8" stroke-opacity="0.8"/>
<polygon points="1834.91,2165.2 1839.58,2165.2 1839.58,2169.87 1844.25,2169.87 1844.25,2174.54 1839.58,2174.54 1839.58,2179.2 1834.91,2179.2 1834.91,2174.54 1830.25,2174.54 1830.25,2169.87 1834.91,2169.87" fill="#ff0000" stroke="#ff0000" stroke-width="1.85" stroke-linejoin="miter" fill-opacity="0.8" stroke-opacity="0.8"/>
<polygon points="1906.44,2130.94 1911.11,2130.94 1911.11,2135.61 1915.77,2135.61 1915.77,2140.28 1911.11,2140.28 1911.11,2144.94 1906.44,2144.94 1906.44,2140.28 1901.77,2140.28 1901.77,2135.61 1906.44,2135.61" fill="#ff0000" stroke="#ff0000" stroke-width="1.85" stroke-linejoin="miter" fill-opacity="0.8" stroke-opacity="0.8"/>
<polygon points="1977.97,2152.36 1982.63,2152.36 1982.63,2157.02 1987.3,2157.02 1987.3,2161.69 1982.63,2161.69 1982.63,2166.36 1977.97,2166.36 1977.97,2161.69 1973.3,2161.69 1973.3,2157.02 1977.97,2157.02" fill="#ff0000" stroke="#ff0000" stroke-width="1.85" stroke-linejoin="miter" fill-opacity="0.8" stroke-opacity="0.8"/>
<path d="M1193.5,1718.48 L1265.03,2230.12 L1336.55,2086.08 L1408.08,2151.46 L1479.61,2142.21 L1551.14,2139.89 L1622.66,2134.57 L1694.19,2138.32 L1765.72,2138.55 L1837.25,2138.8 L1908.77,2138.8 L1980.3,2138.8" fill="none" stroke="#0000ff" stroke-width="5.5" stroke-linejoin="round" stroke-opacity="0.75" stroke-linecap="butt" stroke-dasharray="20.35,8.8"/>
<polygon points="1193.5,1711.48 1200.5,1725.48 1186.5,1725.48" fill="#0000ff" stroke="#0000ff" stroke-width="1.85" stroke-linejoin="miter" fill-opacity="0.75" stroke-opacity="0.75"/>
<polygon points="1265.03,2223.12 1272.03,2237.12 1258.03,2237.12" fill="#0000ff" stroke="#0000ff" stroke-width="1.85" stroke-linejoin="miter" fill-opacity="0.75" stroke-opacity="0.75"/>
<polygon points="1336.55,2079.08 1343.55,2093.08 1329.55,2093.08" fill="#0000ff" stroke="#0000ff" stroke-width="1.85" stroke-linejoin="miter" fill-opacity="0.75" stroke-opacity="0.75"/>
<polygon points="1408.08,2144.46 1415.08,2158.46 1401.08,2158.46" fill="#0000ff" stroke="#0000ff" stroke-width="1.85" stroke-linejoin="miter" fill-opacity="0.75" stroke-opacity="0.75"/>
<polygon points="1479.61,2135.21 1486.61,2149.21 1472.61,2149.21" fill="#0000ff" stroke="#0000ff" stroke-width="1.85" stroke-linejoin="miter" fill-opacity="0.75" stroke-opacity="0.75"/>
<polygon points="1551.14,2132.89 1558.14,2146.89 1544.14,2146.89" fill="#0000ff" stroke="#0000ff" stroke-width="1.85" stroke-linejoin="miter" fill-opacity="0.75" stroke-opacity="0.75"/>
<polygon points="1622.66,2127.57 1629.66,2141.57 1615.66,2141.57" fill="#0000ff" stroke="#0000ff" stroke-width="1.85" stroke-linejoin="miter" fill-opacity="0.75" stroke-opacity="0.75"/>
<polygon points="1694.19,2131.32 1701.19,2145.32 1687.19,2145.32" fill="#0000ff" stroke="#0000ff" stroke-width="1.85" stroke-linejoin="miter" fill-opacity="0.75" stroke-opacity="0.75"/>
<polygon points="1765.72,2131.55 1772.72,2145.55 1758.72,2145.55" fill="#0000ff" stroke="#0000ff" stroke-width="1.85" stroke-linejoin="miter" fill-opacity="0.75" stroke-opacity="0.75"/>
<polygon points="1837.25,2131.8 1844.25,2145.8 1830.25,2145.8" fill="#0000ff" stroke="#0000ff" stroke-width="1.85" stroke-linejoin="miter" fill-opacity="0.75" stroke-opacity="0.75"/>
<polygon points="1908.77,2131.8 1915.77,2145.8 1901.77,2145.8" fill="#0000ff" stroke="#0000ff" stroke-width="1.85" stroke-linejoin="miter" fill-opacity="0.75" stroke-opacity="0.75"/>
<polygon points="1980.3,2131.8 1987.3,2145.8 1973.3,2145.8" fill="#0000ff" stroke="#0000ff" stroke-width="1.85" stroke-linejoin="miter" fill-opacity="0.75" stroke-opacity="0.75"/>
</g>
<line x1="1193.5" y1="1692.8" x2="1193.5" y2="2278.4" stroke="#000" stroke-width="1.7" stroke-linecap="square" fill="none"/>
<line x1="1980.3" y1="1692.8" x2="1980.3" y2="2278.4" stroke="#000" stroke-width="1.7" stroke-linecap="square" fill="none"/>
<line x1="1193.5" y1="1692.8" x2="1980.3" y2="1692.8" stroke="#000" stroke-width="1.7" stroke-linecap="square" fill="none"/>
<line x1="1193.5" y1="2278.4" x2="1980.3" y2="2278.4" stroke="#000" stroke-width="1.7" stroke-linecap="square" fill="none"/>
<line x1="1193.5" y1="2278.4" x2="1193.5" y2="2286.2" stroke="#000" stroke-width="1.7"/>
<text x="1193.5" y="2318.5" font-family='"DejaVu Sans","Liberation Sans",sans-serif' font-size="32" text-anchor="middle"  >0</text>
<line x1="1265.03" y1="2278.4" x2="1265.03" y2="2286.2" stroke="#000" stroke-width="1.7"/>
<text x="1265.03" y="2318.5" font-family='"DejaVu Sans","Liberation Sans",sans-serif' font-size="32" text-anchor="middle"  >1</text>
<line x1="1336.55" y1="2278.4" x2="1336.55" y2="2286.2" stroke="#000" stroke-width="1.7"/>
<text x="1336.55" y="2318.5" font-family='"DejaVu Sans","Liberation Sans",sans-serif' font-size="32" text-anchor="middle"  >2</text>
<line x1="1408.08" y1="2278.4" x2="1408.08" y2="2286.2" stroke="#000" stroke-width="1.7"/>
<text x="1408.08" y="2318.5" font-family='"DejaVu Sans","Liberation Sans",sans-serif' font-size="32" text-anchor="middle"  >3</text>
<line x1="1479.61" y1="2278.4" x2="1479.61" y2="2286.2" stroke="#000" stroke-width="1.7"/>
<text x="1479.61" y="2318.5" font-family='"DejaVu Sans","Liberation Sans",sans-serif' font-size="32" text-anchor="middle"  >4</text>
<line x1="1551.14" y1="2278.4" x2="1551.14" y2="2286.2" stroke="#000" stroke-width="1.7"/>
<text x="1551.14" y="2318.5" font-family='"DejaVu Sans","Liberation Sans",sans-serif' font-size="32" text-anchor="middle"  >5</text>
<line x1="1622.66" y1="2278.4" x2="1622.66" y2="2286.2" stroke="#000" stroke-width="1.7"/>
<text x="1622.66" y="2318.5" font-family='"DejaVu Sans","Liberation Sans",sans-serif' font-size="32" text-anchor="middle"  >6</text>
<line x1="1694.19" y1="2278.4" x2="1694.19" y2="2286.2" stroke="#000" stroke-width="1.7"/>
<text x="1694.19" y="2318.5" font-family='"DejaVu Sans","Liberation Sans",sans-serif' font-size="32" text-anchor="middle"  >7</text>
<line x1="1765.72" y1="2278.4" x2="1765.72" y2="2286.2" stroke="#000" stroke-width="1.7"/>
<text x="1765.72" y="2318.5" font-family='"DejaVu Sans","Liberation Sans",sans-serif' font-size="32" text-anchor="middle"  >8</text>
<line x1="1837.25" y1="2278.4" x2="1837.25" y2="2286.2" stroke="#000" stroke-width="1.7"/>
<text x="1837.25" y="2318.5" font-family='"DejaVu Sans","Liberation Sans",sans-serif' font-size="32" text-anchor="middle"  >9</text>
<line x1="1908.77" y1="2278.4" x2="1908.77" y2="2286.2" stroke="#000" stroke-width="1.7"/>
<text x="1908.77" y="2318.5" font-family='"DejaVu Sans","Liberation Sans",sans-serif' font-size="32" text-anchor="middle"  >10</text>
<line x1="1980.3" y1="2278.4" x2="1980.3" y2="2286.2" stroke="#000" stroke-width="1.7"/>
<text x="1980.3" y="2318.5" font-family='"DejaVu Sans","Liberation Sans",sans-serif' font-size="32" text-anchor="middle"  >11</text>
<line x1="1185.7" y1="2224.45" x2="1193.5" y2="2224.45" stroke="#000" stroke-width="1.7"/>
<text x="1177.9" y="2236.45" font-family='"DejaVu Sans","Liberation Sans",sans-serif' font-size="32" text-anchor="end"  >−0.5</text>
<line x1="1185.7" y1="2138.8" x2="1193.5" y2="2138.8" stroke="#000" stroke-width="1.7"/>
<text x="1177.9" y="2150.8" font-family='"DejaVu Sans","Liberation Sans",sans-serif' font-size="32" text-anchor="end"  >0.0</text>
<line x1="1185.7" y1="2053.15" x2="1193.5" y2="2053.15" stroke="#000" stroke-width="1.7"/>
<text x="1177.9" y="2065.15" font-family='"DejaVu Sans","Liberation Sans",sans-serif' font-size="32" text-anchor="end"  >0.5</text>
<line x1="1185.7" y1="1967.5" x2="1193.5" y2="1967.5" stroke="#000" stroke-width="1.7"/>
<text x="1177.9" y="1979.5" font-family='"DejaVu Sans","Liberation Sans",sans-serif' font-size="32" text-anchor="end"  >1.0</text>
<line x1="1185.7" y1="1881.85" x2="1193.5" y2="1881.85" stroke="#000" stroke-width="1.7"/>
<text x="1177.9" y="1893.85" font-family='"DejaVu Sans","Liberation Sans",sans-serif' font-size="32" text-anchor="end"  >1.5</text>
<line x1="1185.7" y1="1796.2" x2="1193.5" y2="1796.2" stroke="#000" stroke-width="1.7"/>
<text x="1177.9" y="1808.2" font-family='"DejaVu Sans","Liberation Sans",sans-serif' font-size="32" text-anchor="end"  >2.0</text>
<line x1="1185.7" y1="1710.55" x2="1193.5" y2="1710.55" stroke="#000" stroke-width="1.7"/>
<text x="1177.9" y="1722.55" font-family='"DejaVu Sans","Liberation Sans",sans-serif' font-size="32" text-anchor="end"  >2.5</text>
<text transform="translate(1586.90,2362.70)" font-family='"DejaVu Sans","Liberation Sans",sans-serif' font-size="38.40"><tspan x="-12.67" y="-0.32" font-style="italic">α</tspan></text>
<text transform="translate(1061.30,1987.80) rotate(-90)" font-family='"DejaVu Sans","Liberation Sans",sans-serif' font-size="38.40"><tspan x="-49.73" y="-0.01" font-style="italic">F</tspan><tspan x="-27.64" y="-0.01">,</tspan><tspan x="-7.95" y="-0.01" font-style="italic">g</tspan><tspan x="16.42" y="-0.01">,</tspan><tspan x="36.11" y="-0.01" font-style="italic">f</tspan></text>
<rect x="1674.7" y="1705.5" width="291.7" height="268.5" rx="6.5" ry="6.5" fill="#fff" fill-opacity="0.8" stroke="#ccc" stroke-width="1.85"/>
<path d="M1685.3,1727.2 L1737.9,1727.2" fill="none" stroke="#008000" stroke-width="5.5" stroke-linejoin="round" stroke-linecap="square"/>
<circle cx="1711.6" cy="1727.2" r="7" fill="#008000" stroke="#008000" stroke-width="1.85" stroke-linejoin="miter"/>
<path d="M1685.3,1770.2 L1737.9,1770.2" fill="none" stroke="#000000" stroke-width="5.5" stroke-linejoin="round" stroke-linecap="butt" stroke-dasharray="20.35,8.8"/>
<polygon points="1711.6,1760.3 1721.5,1770.2 1711.6,1780.1 1701.7,1770.2" fill="#000000" stroke="#000000" stroke-width="1.85" stroke-linejoin="miter"/>
<path d="M1685.3,1815.7 L1737.9,1815.7" fill="none" stroke="#cd853f" stroke-width="5.5" stroke-linejoin="round" stroke-opacity="0.9" stroke-linecap="butt" stroke-dasharray="35.2,8.8,5.5,8.8"/>
<polygon points="1711.6,1808.7 1713.17,1813.54 1718.26,1813.54 1714.14,1816.53 1715.71,1821.36 1711.6,1818.37 1707.49,1821.36 1709.06,1816.53 1704.94,1813.54 1710.03,1813.54" fill="#cd853f" stroke="#cd853f" stroke-width="1.85" stroke-linejoin="bevel" fill-opacity="0.9" stroke-opacity="0.9"/>
<path d="M1685.3,1861.2 L1737.9,1861.2" fill="none" stroke="#a52a2a" stroke-width="5.5" stroke-linejoin="round" stroke-opacity="0.8" stroke-linecap="butt" stroke-dasharray="5.5,9.07"/>
<polygon points="1711.6,1851.3 1717.54,1861.2 1711.6,1871.1 1705.66,1861.2" fill="#a52a2a" stroke="#a52a2a" stroke-width="1.85" stroke-linejoin="miter" fill-opacity="0.8" stroke-opacity="0.8"/>
<path d="M1685.3,1906.7 L1737.9,1906.7" fill="none" stroke="#ff0000" stroke-width="5.5" stroke-linejoin="round" stroke-opacity="0.8" stroke-linecap="square"/>
<polygon points="1709.27,1899.7 1713.93,1899.7 1713.93,1904.37 1718.6,1904.37 1718.6,1909.03 1713.93,1909.03 1713.93,1913.7 1709.27,1913.7 1709.27,1909.03 1704.6,1909.03 1704.6,1904.37 1709.27,1904.37" fill="#ff0000" stroke="#ff0000" stroke-width="1.85" stroke-linejoin="miter" fill-opacity="0.8" stroke-opacity="0.8"/>
<path d="M1685.3,1948 L1737.9,1948" fill="none" stroke="#0000ff" stroke-width="5.5" stroke-linejoin="round" stroke-opacity="0.75" stroke-linecap="butt" stroke-dasharray="20.35,8.8"/>
<polygon points="1711.6,1941 1718.6,1955 1704.6,1955" fill="#0000ff" stroke="#0000ff" stroke-width="1.85" stroke-linejoin="miter" fill-opacity="0.75" stroke-opacity="0.75"/>
<text transform="translate(1759.50,1736.00)" font-family='"DejaVu Sans","Liberation Sans",sans-serif' font-size="26.40"><tspan x="0.00" y="-0.02" font-style="italic">F</tspan><tspan x="15.19" y="4.31" font-size="18.48" font-style="italic">α</tspan></text>
<text transform="translate(1759.50,1779.50)" font-family='"DejaVu Sans","Liberation Sans",sans-serif' font-size="26.40"><tspan x="0.00" y="-0.18" font-style="italic">f</tspan><tspan x="11.26" y="-10.29" font-size="18.48" font-style="italic">R</tspan><tspan x="24.10" y="-10.29" font-size="18.48" font-style="italic">L</tspan><tspan x="9.29" y="7.04" font-size="18.48" font-style="italic">α</tspan><tspan x="35.12" y="-0.18">(</tspan><tspan x="45.42" y="-0.18">Λ</tspan><tspan x="68.62" y="-0.18">=</tspan><tspan x="95.88" y="-0.18">0</tspan><tspan x="112.68" y="-0.18">)</tspan></text>
<text transform="translate(1759.50,1825.00)" font-family='"DejaVu Sans","Liberation Sans",sans-serif' font-size="26.40"><tspan x="0.00" y="-0.18" font-style="italic">f</tspan><tspan x="11.26" y="-10.29" font-size="18.48" font-style="italic">R</tspan><tspan x="24.10" y="-10.29" font-size="18.48" font-style="italic">L</tspan><tspan x="9.29" y="7.04" font-size="18.48" font-style="italic">α</tspan><tspan x="35.12" y="-0.18">(</tspan><tspan x="45.42" y="-0.18">Λ</tspan><tspan x="68.62" y="-0.18">=</tspan><tspan x="95.88" y="-0.18">0</tspan><tspan x="112.68" y="-0.18">.</tspan><tspan x="121.07" y="-0.18">0</tspan><tspan x="137.87" y="-0.18">0</tspan><tspan x="154.67" y="-0.18">0</tspan><tspan x="171.46" y="-0.18">1</tspan><tspan x="188.26" y="-0.18">)</tspan></text>
<text transform="translate(1759.50,1870.50)" font-family='"DejaVu Sans","Liberation Sans",sans-serif' font-size="26.40"><tspan x="0.00" y="-0.18" font-style="italic">f</tspan><tspan x="11.26" y="-10.29" font-size="18.48" font-style="italic">R</tspan><tspan x="24.10" y="-10.29" font-size="18.48" font-style="italic">L</tspan><tspan x="9.29" y="7.04" font-size="18.48" font-style="italic">α</tspan><tspan x="35.12" y="-0.18">(</tspan><tspan x="45.42" y="-0.18">Λ</tspan><tspan x="68.62" y="-0.18">=</tspan><tspan x="95.88" y="-0.18">0</tspan><tspan x="112.68" y="-0.18">.</tspan><tspan x="121.07" y="-0.18">0</tspan><tspan x="137.87" y="-0.18">0</tspan><tspan x="154.67" y="-0.18">1</tspan><tspan x="171.46" y="-0.18">)</tspan></text>
<text transform="translate(1759.50,1916.00)" font-family='"DejaVu Sans","Liberation Sans",sans-serif' font-size="26.40"><tspan x="0.00" y="-0.18" font-style="italic">f</tspan><tspan x="11.26" y="-10.29" font-size="18.48" font-style="italic">R</tspan><tspan x="24.10" y="-10.29" font-size="18.48" font-style="italic">L</tspan><tspan x="9.29" y="7.04" font-size="18.48" font-style="italic">α</tspan><tspan x="35.12" y="-0.18">(</tspan><tspan x="45.42" y="-0.18">Λ</tspan><tspan x="68.62" y="-0.18">=</tspan><tspan x="95.88" y="-0.18">0</tspan><tspan x="112.68" y="-0.18">.</tspan><tspan x="121.07" y="-0.18">0</tspan><tspan x="137.87" y="-0.18">1</tspan><tspan x="154.67" y="-0.18">)</tspan></text>
<text transform="translate(1759.50,1956.00)" font-family='"DejaVu Sans","Liberation Sans",sans-serif' font-size="26.40"><tspan x="0.00" y="-0.00" font-style="italic">g</tspan><tspan x="16.76" y="4.33" font-size="18.48" font-style="italic">α</tspan></text>
<text x="1493.35" y="2449.9" font-size="46.5" font-family='"Liberation Serif","DejaVu Serif",serif' stroke="#fff" stroke-width="0.4">(</text><text transform="translate(1507.94,2450.2) scale(1.2,1)" font-size="41.5" font-family='"Liberation Serif","DejaVu Serif",serif' stroke="#fff" stroke-width="0.4">f</text><text x="1523.16" y="2449.9" font-size="46.5" font-family='"Liberation Serif","DejaVu Serif",serif' stroke="#fff" stroke-width="0.4">)</text>
</svg>
</body></html>
